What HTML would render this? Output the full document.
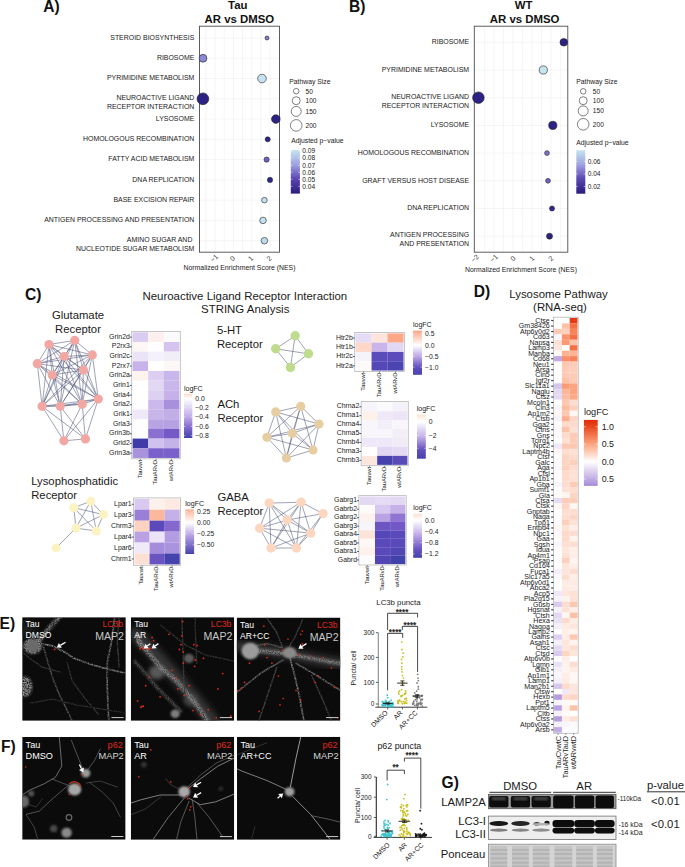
<!DOCTYPE html>
<html><head><meta charset="utf-8"><style>
html,body{margin:0;padding:0;background:#fff;}
body{width:685px;height:867px;overflow:hidden;}
svg{display:block;font-family:"Liberation Sans", sans-serif;}
</style></head><body>
<svg width="685" height="867" viewBox="0 0 685 867">
<rect width="685" height="867" fill="#fff"/>
<text x="43.20" y="12.20" font-size="15.6" text-anchor="start" font-weight="bold" fill="#111" >A)</text>
<text x="237.80" y="9.40" font-size="11.4" text-anchor="middle" font-weight="bold" fill="#111" >Tau</text>
<text x="239.40" y="22.90" font-size="11.4" text-anchor="middle" font-weight="bold" fill="#111" >AR vs DMSO</text>
<rect x="199.50" y="26.20" width="80.00" height="226.00" fill="#ffffff" stroke="none" stroke-width="0" />
<line x1="205.95" y1="26.20" x2="205.95" y2="252.20" stroke="#ececec" stroke-width="0.55" />
<line x1="215.10" y1="26.20" x2="215.10" y2="252.20" stroke="#ececec" stroke-width="0.55" />
<line x1="224.25" y1="26.20" x2="224.25" y2="252.20" stroke="#ececec" stroke-width="0.55" />
<line x1="233.40" y1="26.20" x2="233.40" y2="252.20" stroke="#ececec" stroke-width="0.55" />
<line x1="242.55" y1="26.20" x2="242.55" y2="252.20" stroke="#ececec" stroke-width="0.55" />
<line x1="251.70" y1="26.20" x2="251.70" y2="252.20" stroke="#ececec" stroke-width="0.55" />
<line x1="260.85" y1="26.20" x2="260.85" y2="252.20" stroke="#ececec" stroke-width="0.55" />
<line x1="270.00" y1="26.20" x2="270.00" y2="252.20" stroke="#ececec" stroke-width="0.55" />
<line x1="199.50" y1="38.00" x2="279.50" y2="38.00" stroke="#ececec" stroke-width="0.55" />
<line x1="199.50" y1="58.27" x2="279.50" y2="58.27" stroke="#ececec" stroke-width="0.55" />
<line x1="199.50" y1="78.54" x2="279.50" y2="78.54" stroke="#ececec" stroke-width="0.55" />
<line x1="199.50" y1="98.81" x2="279.50" y2="98.81" stroke="#ececec" stroke-width="0.55" />
<line x1="199.50" y1="119.08" x2="279.50" y2="119.08" stroke="#ececec" stroke-width="0.55" />
<line x1="199.50" y1="139.35" x2="279.50" y2="139.35" stroke="#ececec" stroke-width="0.55" />
<line x1="199.50" y1="159.62" x2="279.50" y2="159.62" stroke="#ececec" stroke-width="0.55" />
<line x1="199.50" y1="179.89" x2="279.50" y2="179.89" stroke="#ececec" stroke-width="0.55" />
<line x1="199.50" y1="200.16" x2="279.50" y2="200.16" stroke="#ececec" stroke-width="0.55" />
<line x1="199.50" y1="220.43" x2="279.50" y2="220.43" stroke="#ececec" stroke-width="0.55" />
<line x1="199.50" y1="240.70" x2="279.50" y2="240.70" stroke="#ececec" stroke-width="0.55" />
<rect x="199.50" y="26.20" width="80.00" height="226.00" fill="none" stroke="#4d4d4d" stroke-width="0.9" />
<text x="194.30" y="39.80" font-size="6.95" text-anchor="end" fill="#1a1a1a" >STEROID BIOSYNTHESIS</text>
<text x="194.30" y="60.07" font-size="6.95" text-anchor="end" fill="#1a1a1a" >RIBOSOME</text>
<text x="194.30" y="80.34" font-size="6.95" text-anchor="end" fill="#1a1a1a" >PYRIMIDINE METABOLISM</text>
<text x="194.30" y="100.01" font-size="6.95" text-anchor="end" fill="#1a1a1a" >NEUROACTIVE LIGAND</text>
<text x="194.30" y="109.01" font-size="6.95" text-anchor="end" fill="#1a1a1a" >RECEPTOR INTERACTION</text>
<text x="194.30" y="120.88" font-size="6.95" text-anchor="end" fill="#1a1a1a" >LYSOSOME</text>
<text x="194.30" y="141.15" font-size="6.95" text-anchor="end" fill="#1a1a1a" >HOMOLOGOUS RECOMBINATION</text>
<text x="194.30" y="161.42" font-size="6.95" text-anchor="end" fill="#1a1a1a" >FATTY ACID METABOLISM</text>
<text x="194.30" y="181.69" font-size="6.95" text-anchor="end" fill="#1a1a1a" >DNA REPLICATION</text>
<text x="194.30" y="201.96" font-size="6.95" text-anchor="end" fill="#1a1a1a" >BASE EXCISION REPAIR</text>
<text x="194.30" y="222.23" font-size="6.95" text-anchor="end" fill="#1a1a1a" >ANTIGEN PROCESSING AND PRESENTATION</text>
<text x="192.40" y="241.90" font-size="6.95" text-anchor="end" fill="#1a1a1a" >AMINO SUGAR AND</text>
<text x="194.30" y="250.90" font-size="6.95" text-anchor="end" fill="#1a1a1a" >NUCLEOTIDE SUGAR METABOLISM</text>
<text transform="translate(215.86,260.00) rotate(-45)" font-size="7.0" text-anchor="middle" fill="#333">−1</text>
<text transform="translate(234.16,260.00) rotate(-45)" font-size="7.0" text-anchor="middle" fill="#333">0</text>
<text transform="translate(252.46,260.00) rotate(-45)" font-size="7.0" text-anchor="middle" fill="#333">1</text>
<text transform="translate(270.76,260.00) rotate(-45)" font-size="7.0" text-anchor="middle" fill="#333">2</text>
<text x="239.50" y="270.00" font-size="6.88" text-anchor="middle" fill="#1a1a1a" >Normalized Enrichment Score (NES)</text>
<circle cx="267.00" cy="38.00" r="2.00" fill="#7f79d2" stroke="#222" stroke-width="0.6" />
<circle cx="203.00" cy="58.27" r="3.90" fill="#8c88d8" stroke="#222" stroke-width="0.6" />
<circle cx="262.00" cy="78.54" r="4.30" fill="#c6e4f0" stroke="#222" stroke-width="0.6" />
<circle cx="202.90" cy="98.81" r="5.90" fill="#2b2284" stroke="#222" stroke-width="0.6" />
<circle cx="275.80" cy="119.08" r="4.30" fill="#2b2284" stroke="#222" stroke-width="0.6" />
<circle cx="267.70" cy="139.35" r="2.50" fill="#2b2284" stroke="#222" stroke-width="0.6" />
<circle cx="266.60" cy="159.62" r="2.60" fill="#6d5fc4" stroke="#222" stroke-width="0.6" />
<circle cx="270.00" cy="179.89" r="2.60" fill="#2f2690" stroke="#222" stroke-width="0.6" />
<circle cx="264.40" cy="200.16" r="2.80" fill="#c3e0f0" stroke="#222" stroke-width="0.6" />
<circle cx="263.00" cy="220.43" r="3.30" fill="#c3e0f0" stroke="#222" stroke-width="0.6" />
<circle cx="264.40" cy="240.70" r="3.30" fill="#bcdcee" stroke="#222" stroke-width="0.6" />
<text x="289.30" y="83.60" font-size="6.8" text-anchor="start" fill="#1a1a1a" >Pathway Size</text>
<circle cx="296.20" cy="91.20" r="2.80" fill="none" stroke="#1a1a1a" stroke-width="0.55" />
<text x="305.50" y="93.50" font-size="6.6" text-anchor="start" fill="#1a1a1a" >50</text>
<circle cx="296.20" cy="100.70" r="4.00" fill="none" stroke="#1a1a1a" stroke-width="0.55" />
<text x="305.50" y="103.00" font-size="6.6" text-anchor="start" fill="#1a1a1a" >100</text>
<circle cx="296.20" cy="111.40" r="5.00" fill="none" stroke="#1a1a1a" stroke-width="0.55" />
<text x="305.50" y="113.70" font-size="6.6" text-anchor="start" fill="#1a1a1a" >150</text>
<circle cx="296.20" cy="125.40" r="5.80" fill="none" stroke="#1a1a1a" stroke-width="0.55" />
<text x="305.50" y="127.70" font-size="6.6" text-anchor="start" fill="#1a1a1a" >200</text>
<text x="291.20" y="142.70" font-size="6.8" text-anchor="start" fill="#1a1a1a" >Adjusted p−value</text>
<defs><linearGradient id="g290" x1="0" y1="0" x2="0" y2="1"><stop offset="0" stop-color="#c6e4f0"/><stop offset="0.35" stop-color="#9c9ee0"/><stop offset="0.65" stop-color="#5c48b4"/><stop offset="1" stop-color="#2a1c7c"/></linearGradient></defs>
<rect x="290.80" y="150.00" width="9.10" height="43.60" fill="url(#g290)" stroke="none" stroke-width="0" />
<line x1="290.80" y1="151.00" x2="292.40" y2="151.00" stroke="#ffffff" stroke-width="0.5" />
<line x1="298.30" y1="151.00" x2="299.90" y2="151.00" stroke="#ffffff" stroke-width="0.5" />
<text x="302.30" y="153.30" font-size="6.6" text-anchor="start" fill="#1a1a1a" >0.09</text>
<line x1="290.80" y1="158.00" x2="292.40" y2="158.00" stroke="#ffffff" stroke-width="0.5" />
<line x1="298.30" y1="158.00" x2="299.90" y2="158.00" stroke="#ffffff" stroke-width="0.5" />
<text x="302.30" y="160.30" font-size="6.6" text-anchor="start" fill="#1a1a1a" >0.08</text>
<line x1="290.80" y1="165.20" x2="292.40" y2="165.20" stroke="#ffffff" stroke-width="0.5" />
<line x1="298.30" y1="165.20" x2="299.90" y2="165.20" stroke="#ffffff" stroke-width="0.5" />
<text x="302.30" y="167.50" font-size="6.6" text-anchor="start" fill="#1a1a1a" >0.07</text>
<line x1="290.80" y1="172.20" x2="292.40" y2="172.20" stroke="#ffffff" stroke-width="0.5" />
<line x1="298.30" y1="172.20" x2="299.90" y2="172.20" stroke="#ffffff" stroke-width="0.5" />
<text x="302.30" y="174.50" font-size="6.6" text-anchor="start" fill="#1a1a1a" >0.06</text>
<line x1="290.80" y1="179.30" x2="292.40" y2="179.30" stroke="#ffffff" stroke-width="0.5" />
<line x1="298.30" y1="179.30" x2="299.90" y2="179.30" stroke="#ffffff" stroke-width="0.5" />
<text x="302.30" y="181.60" font-size="6.6" text-anchor="start" fill="#1a1a1a" >0.05</text>
<line x1="290.80" y1="186.40" x2="292.40" y2="186.40" stroke="#ffffff" stroke-width="0.5" />
<line x1="298.30" y1="186.40" x2="299.90" y2="186.40" stroke="#ffffff" stroke-width="0.5" />
<text x="302.30" y="188.70" font-size="6.6" text-anchor="start" fill="#1a1a1a" >0.04</text>
<text x="349.00" y="12.20" font-size="15.6" text-anchor="start" font-weight="bold" fill="#111" >B)</text>
<text x="523.60" y="9.40" font-size="11.4" text-anchor="middle" font-weight="bold" fill="#111" >WT</text>
<text x="524.60" y="22.90" font-size="11.4" text-anchor="middle" font-weight="bold" fill="#111" >AR vs DMSO</text>
<rect x="474.30" y="26.20" width="93.50" height="226.00" fill="#ffffff" stroke="none" stroke-width="0" />
<line x1="484.40" y1="26.20" x2="484.40" y2="252.20" stroke="#ececec" stroke-width="0.55" />
<line x1="493.90" y1="26.20" x2="493.90" y2="252.20" stroke="#ececec" stroke-width="0.55" />
<line x1="503.40" y1="26.20" x2="503.40" y2="252.20" stroke="#ececec" stroke-width="0.55" />
<line x1="512.90" y1="26.20" x2="512.90" y2="252.20" stroke="#ececec" stroke-width="0.55" />
<line x1="522.40" y1="26.20" x2="522.40" y2="252.20" stroke="#ececec" stroke-width="0.55" />
<line x1="531.90" y1="26.20" x2="531.90" y2="252.20" stroke="#ececec" stroke-width="0.55" />
<line x1="541.40" y1="26.20" x2="541.40" y2="252.20" stroke="#ececec" stroke-width="0.55" />
<line x1="550.90" y1="26.20" x2="550.90" y2="252.20" stroke="#ececec" stroke-width="0.55" />
<line x1="560.40" y1="26.20" x2="560.40" y2="252.20" stroke="#ececec" stroke-width="0.55" />
<line x1="474.30" y1="42.30" x2="567.80" y2="42.30" stroke="#ececec" stroke-width="0.55" />
<line x1="474.30" y1="70.00" x2="567.80" y2="70.00" stroke="#ececec" stroke-width="0.55" />
<line x1="474.30" y1="97.70" x2="567.80" y2="97.70" stroke="#ececec" stroke-width="0.55" />
<line x1="474.30" y1="125.40" x2="567.80" y2="125.40" stroke="#ececec" stroke-width="0.55" />
<line x1="474.30" y1="153.10" x2="567.80" y2="153.10" stroke="#ececec" stroke-width="0.55" />
<line x1="474.30" y1="180.80" x2="567.80" y2="180.80" stroke="#ececec" stroke-width="0.55" />
<line x1="474.30" y1="208.50" x2="567.80" y2="208.50" stroke="#ececec" stroke-width="0.55" />
<line x1="474.30" y1="236.20" x2="567.80" y2="236.20" stroke="#ececec" stroke-width="0.55" />
<rect x="474.30" y="26.20" width="93.50" height="226.00" fill="none" stroke="#4d4d4d" stroke-width="0.9" />
<text x="469.10" y="44.10" font-size="6.95" text-anchor="end" fill="#1a1a1a" >RIBOSOME</text>
<text x="469.10" y="71.80" font-size="6.95" text-anchor="end" fill="#1a1a1a" >PYRIMIDINE METABOLISM</text>
<text x="469.10" y="98.90" font-size="6.95" text-anchor="end" fill="#1a1a1a" >NEUROACTIVE LIGAND</text>
<text x="469.10" y="107.90" font-size="6.95" text-anchor="end" fill="#1a1a1a" >RECEPTOR INTERACTION</text>
<text x="469.10" y="127.20" font-size="6.95" text-anchor="end" fill="#1a1a1a" >LYSOSOME</text>
<text x="469.10" y="154.90" font-size="6.95" text-anchor="end" fill="#1a1a1a" >HOMOLOGOUS RECOMBINATION</text>
<text x="469.10" y="182.60" font-size="6.95" text-anchor="end" fill="#1a1a1a" >GRAFT VERSUS HOST DISEASE</text>
<text x="469.10" y="210.30" font-size="6.95" text-anchor="end" fill="#1a1a1a" >DNA REPLICATION</text>
<text x="469.10" y="237.40" font-size="6.95" text-anchor="end" fill="#1a1a1a" >ANTIGEN PROCESSING</text>
<text x="469.10" y="246.40" font-size="6.95" text-anchor="end" fill="#1a1a1a" >AND PRESENTATION</text>
<text transform="translate(476.56,260.00) rotate(-45)" font-size="7.0" text-anchor="middle" fill="#333">−2</text>
<text transform="translate(495.56,260.00) rotate(-45)" font-size="7.0" text-anchor="middle" fill="#333">−1</text>
<text transform="translate(514.56,260.00) rotate(-45)" font-size="7.0" text-anchor="middle" fill="#333">0</text>
<text transform="translate(533.56,260.00) rotate(-45)" font-size="7.0" text-anchor="middle" fill="#333">1</text>
<text transform="translate(552.56,260.00) rotate(-45)" font-size="7.0" text-anchor="middle" fill="#333">2</text>
<text x="521.00" y="272.00" font-size="6.88" text-anchor="middle" fill="#1a1a1a" >Normalized Enrichment Score (NES)</text>
<circle cx="563.80" cy="42.30" r="3.80" fill="#2b2284" stroke="#222" stroke-width="0.6" />
<circle cx="543.30" cy="70.00" r="4.10" fill="#c6e4f0" stroke="#222" stroke-width="0.6" />
<circle cx="478.40" cy="97.70" r="5.80" fill="#2b2284" stroke="#222" stroke-width="0.6" />
<circle cx="552.80" cy="125.40" r="4.10" fill="#2b2284" stroke="#222" stroke-width="0.6" />
<circle cx="547.00" cy="153.10" r="2.40" fill="#7a72cc" stroke="#222" stroke-width="0.6" />
<circle cx="548.00" cy="180.80" r="2.40" fill="#6e62c4" stroke="#222" stroke-width="0.6" />
<circle cx="552.00" cy="208.50" r="2.50" fill="#2f2690" stroke="#222" stroke-width="0.6" />
<circle cx="549.50" cy="236.20" r="3.00" fill="#2b2284" stroke="#222" stroke-width="0.6" />
<text x="576.30" y="83.60" font-size="6.8" text-anchor="start" fill="#1a1a1a" >Pathway Size</text>
<circle cx="583.20" cy="91.30" r="2.80" fill="none" stroke="#1a1a1a" stroke-width="0.55" />
<text x="592.80" y="93.60" font-size="6.6" text-anchor="start" fill="#1a1a1a" >50</text>
<circle cx="583.20" cy="100.70" r="4.00" fill="none" stroke="#1a1a1a" stroke-width="0.55" />
<text x="592.80" y="103.00" font-size="6.6" text-anchor="start" fill="#1a1a1a" >100</text>
<circle cx="583.20" cy="110.90" r="5.00" fill="none" stroke="#1a1a1a" stroke-width="0.55" />
<text x="592.80" y="113.20" font-size="6.6" text-anchor="start" fill="#1a1a1a" >150</text>
<circle cx="583.20" cy="124.30" r="5.80" fill="none" stroke="#1a1a1a" stroke-width="0.55" />
<text x="592.80" y="126.60" font-size="6.6" text-anchor="start" fill="#1a1a1a" >200</text>
<text x="576.30" y="145.00" font-size="6.8" text-anchor="start" fill="#1a1a1a" >Adjusted p−value</text>
<defs><linearGradient id="g576" x1="0" y1="0" x2="0" y2="1"><stop offset="0" stop-color="#c6e4f0"/><stop offset="0.35" stop-color="#9c9ee0"/><stop offset="0.65" stop-color="#5c48b4"/><stop offset="1" stop-color="#2a1c7c"/></linearGradient></defs>
<rect x="576.30" y="150.20" width="9.00" height="43.50" fill="url(#g576)" stroke="none" stroke-width="0" />
<line x1="576.30" y1="161.50" x2="577.90" y2="161.50" stroke="#ffffff" stroke-width="0.5" />
<line x1="583.70" y1="161.50" x2="585.30" y2="161.50" stroke="#ffffff" stroke-width="0.5" />
<text x="587.70" y="163.80" font-size="6.6" text-anchor="start" fill="#1a1a1a" >0.06</text>
<line x1="576.30" y1="173.90" x2="577.90" y2="173.90" stroke="#ffffff" stroke-width="0.5" />
<line x1="583.70" y1="173.90" x2="585.30" y2="173.90" stroke="#ffffff" stroke-width="0.5" />
<text x="587.70" y="176.20" font-size="6.6" text-anchor="start" fill="#1a1a1a" >0.04</text>
<line x1="576.30" y1="186.50" x2="577.90" y2="186.50" stroke="#ffffff" stroke-width="0.5" />
<line x1="583.70" y1="186.50" x2="585.30" y2="186.50" stroke="#ffffff" stroke-width="0.5" />
<text x="587.70" y="188.80" font-size="6.6" text-anchor="start" fill="#1a1a1a" >0.02</text>
<text x="25.00" y="300.20" font-size="15.6" text-anchor="start" font-weight="bold" fill="#111" >C)</text>
<text x="244.80" y="300.20" font-size="11.45" text-anchor="middle" fill="#1a1a1a" >Neuroactive Ligand Receptor Interaction</text>
<text x="245.20" y="313.40" font-size="11.45" text-anchor="middle" fill="#1a1a1a" >STRING Analysis</text>
<text x="78.00" y="318.60" font-size="11.3" text-anchor="middle" fill="#1a1a1a" >Glutamate</text>
<text x="78.00" y="333.00" font-size="11.3" text-anchor="middle" fill="#1a1a1a" >Receptor</text>
<line x1="49.00" y1="344.50" x2="74.70" y2="340.40" stroke="#444a70" stroke-width="0.6" stroke-opacity="0.85"/>
<line x1="49.00" y1="344.50" x2="92.30" y2="354.90" stroke="#444a70" stroke-width="0.6" stroke-opacity="0.85"/>
<line x1="49.00" y1="344.50" x2="64.20" y2="356.50" stroke="#444a70" stroke-width="0.6" stroke-opacity="0.85"/>
<line x1="49.00" y1="344.50" x2="37.30" y2="363.70" stroke="#444a70" stroke-width="0.6" stroke-opacity="0.85"/>
<line x1="49.00" y1="344.50" x2="83.50" y2="370.10" stroke="#444a70" stroke-width="0.6" stroke-opacity="0.85"/>
<line x1="49.00" y1="344.50" x2="52.20" y2="375.00" stroke="#444a70" stroke-width="0.6" stroke-opacity="0.85"/>
<line x1="49.00" y1="344.50" x2="98.30" y2="399.00" stroke="#444a70" stroke-width="0.6" stroke-opacity="0.85"/>
<line x1="49.00" y1="344.50" x2="42.10" y2="406.30" stroke="#444a70" stroke-width="0.6" stroke-opacity="0.85"/>
<line x1="49.00" y1="344.50" x2="60.20" y2="406.30" stroke="#444a70" stroke-width="0.6" stroke-opacity="0.85"/>
<line x1="49.00" y1="344.50" x2="82.20" y2="404.20" stroke="#444a70" stroke-width="0.6" stroke-opacity="0.85"/>
<line x1="74.70" y1="340.40" x2="92.30" y2="354.90" stroke="#444a70" stroke-width="0.6" stroke-opacity="0.85"/>
<line x1="74.70" y1="340.40" x2="64.20" y2="356.50" stroke="#444a70" stroke-width="0.6" stroke-opacity="0.85"/>
<line x1="74.70" y1="340.40" x2="37.30" y2="363.70" stroke="#444a70" stroke-width="0.6" stroke-opacity="0.85"/>
<line x1="74.70" y1="340.40" x2="83.50" y2="370.10" stroke="#444a70" stroke-width="0.6" stroke-opacity="0.85"/>
<line x1="74.70" y1="340.40" x2="52.20" y2="375.00" stroke="#444a70" stroke-width="0.6" stroke-opacity="0.85"/>
<line x1="74.70" y1="340.40" x2="98.30" y2="399.00" stroke="#444a70" stroke-width="0.6" stroke-opacity="0.85"/>
<line x1="74.70" y1="340.40" x2="42.10" y2="406.30" stroke="#444a70" stroke-width="0.6" stroke-opacity="0.85"/>
<line x1="74.70" y1="340.40" x2="60.20" y2="406.30" stroke="#444a70" stroke-width="0.6" stroke-opacity="0.85"/>
<line x1="74.70" y1="340.40" x2="82.20" y2="404.20" stroke="#444a70" stroke-width="0.6" stroke-opacity="0.85"/>
<line x1="92.30" y1="354.90" x2="64.20" y2="356.50" stroke="#444a70" stroke-width="0.6" stroke-opacity="0.85"/>
<line x1="92.30" y1="354.90" x2="37.30" y2="363.70" stroke="#444a70" stroke-width="0.6" stroke-opacity="0.85"/>
<line x1="92.30" y1="354.90" x2="83.50" y2="370.10" stroke="#444a70" stroke-width="0.6" stroke-opacity="0.85"/>
<line x1="92.30" y1="354.90" x2="52.20" y2="375.00" stroke="#444a70" stroke-width="0.6" stroke-opacity="0.85"/>
<line x1="92.30" y1="354.90" x2="98.30" y2="399.00" stroke="#444a70" stroke-width="0.6" stroke-opacity="0.85"/>
<line x1="92.30" y1="354.90" x2="42.10" y2="406.30" stroke="#444a70" stroke-width="0.6" stroke-opacity="0.85"/>
<line x1="92.30" y1="354.90" x2="60.20" y2="406.30" stroke="#444a70" stroke-width="0.6" stroke-opacity="0.85"/>
<line x1="92.30" y1="354.90" x2="82.20" y2="404.20" stroke="#444a70" stroke-width="0.6" stroke-opacity="0.85"/>
<line x1="64.20" y1="356.50" x2="37.30" y2="363.70" stroke="#444a70" stroke-width="0.6" stroke-opacity="0.85"/>
<line x1="64.20" y1="356.50" x2="83.50" y2="370.10" stroke="#444a70" stroke-width="0.6" stroke-opacity="0.85"/>
<line x1="64.20" y1="356.50" x2="52.20" y2="375.00" stroke="#444a70" stroke-width="0.6" stroke-opacity="0.85"/>
<line x1="64.20" y1="356.50" x2="98.30" y2="399.00" stroke="#444a70" stroke-width="0.6" stroke-opacity="0.85"/>
<line x1="64.20" y1="356.50" x2="42.10" y2="406.30" stroke="#444a70" stroke-width="0.6" stroke-opacity="0.85"/>
<line x1="64.20" y1="356.50" x2="60.20" y2="406.30" stroke="#444a70" stroke-width="0.6" stroke-opacity="0.85"/>
<line x1="64.20" y1="356.50" x2="82.20" y2="404.20" stroke="#444a70" stroke-width="0.6" stroke-opacity="0.85"/>
<line x1="37.30" y1="363.70" x2="83.50" y2="370.10" stroke="#444a70" stroke-width="0.6" stroke-opacity="0.85"/>
<line x1="37.30" y1="363.70" x2="52.20" y2="375.00" stroke="#444a70" stroke-width="0.6" stroke-opacity="0.85"/>
<line x1="37.30" y1="363.70" x2="98.30" y2="399.00" stroke="#444a70" stroke-width="0.6" stroke-opacity="0.85"/>
<line x1="37.30" y1="363.70" x2="42.10" y2="406.30" stroke="#444a70" stroke-width="0.6" stroke-opacity="0.85"/>
<line x1="37.30" y1="363.70" x2="60.20" y2="406.30" stroke="#444a70" stroke-width="0.6" stroke-opacity="0.85"/>
<line x1="37.30" y1="363.70" x2="82.20" y2="404.20" stroke="#444a70" stroke-width="0.6" stroke-opacity="0.85"/>
<line x1="83.50" y1="370.10" x2="52.20" y2="375.00" stroke="#444a70" stroke-width="0.6" stroke-opacity="0.85"/>
<line x1="83.50" y1="370.10" x2="98.30" y2="399.00" stroke="#444a70" stroke-width="0.6" stroke-opacity="0.85"/>
<line x1="83.50" y1="370.10" x2="42.10" y2="406.30" stroke="#444a70" stroke-width="0.6" stroke-opacity="0.85"/>
<line x1="83.50" y1="370.10" x2="60.20" y2="406.30" stroke="#444a70" stroke-width="0.6" stroke-opacity="0.85"/>
<line x1="83.50" y1="370.10" x2="82.20" y2="404.20" stroke="#444a70" stroke-width="0.6" stroke-opacity="0.85"/>
<line x1="52.20" y1="375.00" x2="98.30" y2="399.00" stroke="#444a70" stroke-width="0.6" stroke-opacity="0.85"/>
<line x1="52.20" y1="375.00" x2="42.10" y2="406.30" stroke="#444a70" stroke-width="0.6" stroke-opacity="0.85"/>
<line x1="52.20" y1="375.00" x2="60.20" y2="406.30" stroke="#444a70" stroke-width="0.6" stroke-opacity="0.85"/>
<line x1="52.20" y1="375.00" x2="82.20" y2="404.20" stroke="#444a70" stroke-width="0.6" stroke-opacity="0.85"/>
<line x1="98.30" y1="399.00" x2="42.10" y2="406.30" stroke="#444a70" stroke-width="0.6" stroke-opacity="0.85"/>
<line x1="98.30" y1="399.00" x2="60.20" y2="406.30" stroke="#444a70" stroke-width="0.6" stroke-opacity="0.85"/>
<line x1="98.30" y1="399.00" x2="82.20" y2="404.20" stroke="#444a70" stroke-width="0.6" stroke-opacity="0.85"/>
<line x1="42.10" y1="406.30" x2="60.20" y2="406.30" stroke="#444a70" stroke-width="0.6" stroke-opacity="0.85"/>
<line x1="42.10" y1="406.30" x2="82.20" y2="404.20" stroke="#444a70" stroke-width="0.6" stroke-opacity="0.85"/>
<line x1="60.20" y1="406.30" x2="82.20" y2="404.20" stroke="#444a70" stroke-width="0.6" stroke-opacity="0.85"/>
<line x1="98.30" y1="399.00" x2="63.90" y2="440.80" stroke="#444a70" stroke-width="0.6" stroke-opacity="0.85"/>
<line x1="98.30" y1="399.00" x2="85.40" y2="438.90" stroke="#444a70" stroke-width="0.6" stroke-opacity="0.85"/>
<line x1="42.10" y1="406.30" x2="63.90" y2="440.80" stroke="#444a70" stroke-width="0.6" stroke-opacity="0.85"/>
<line x1="42.10" y1="406.30" x2="85.40" y2="438.90" stroke="#444a70" stroke-width="0.6" stroke-opacity="0.85"/>
<line x1="60.20" y1="406.30" x2="63.90" y2="440.80" stroke="#444a70" stroke-width="0.6" stroke-opacity="0.85"/>
<line x1="60.20" y1="406.30" x2="85.40" y2="438.90" stroke="#444a70" stroke-width="0.6" stroke-opacity="0.85"/>
<line x1="82.20" y1="404.20" x2="63.90" y2="440.80" stroke="#444a70" stroke-width="0.6" stroke-opacity="0.85"/>
<line x1="82.20" y1="404.20" x2="85.40" y2="438.90" stroke="#444a70" stroke-width="0.6" stroke-opacity="0.85"/>
<line x1="63.90" y1="440.80" x2="85.40" y2="438.90" stroke="#444a70" stroke-width="0.6" stroke-opacity="0.85"/>
<circle cx="49.00" cy="344.50" r="4.60" fill="#f2a7a3" stroke="none" stroke-width="0" />
<circle cx="74.70" cy="340.40" r="4.60" fill="#f2a7a3" stroke="none" stroke-width="0" />
<circle cx="92.30" cy="354.90" r="4.60" fill="#f2a7a3" stroke="none" stroke-width="0" />
<circle cx="64.20" cy="356.50" r="4.60" fill="#f2a7a3" stroke="none" stroke-width="0" />
<circle cx="37.30" cy="363.70" r="4.60" fill="#f2a7a3" stroke="none" stroke-width="0" />
<circle cx="83.50" cy="370.10" r="4.60" fill="#f2a7a3" stroke="none" stroke-width="0" />
<circle cx="52.20" cy="375.00" r="4.60" fill="#f2a7a3" stroke="none" stroke-width="0" />
<circle cx="98.30" cy="399.00" r="4.60" fill="#f2a7a3" stroke="none" stroke-width="0" />
<circle cx="42.10" cy="406.30" r="4.60" fill="#f2a7a3" stroke="none" stroke-width="0" />
<circle cx="60.20" cy="406.30" r="4.60" fill="#f2a7a3" stroke="none" stroke-width="0" />
<circle cx="82.20" cy="404.20" r="4.60" fill="#f2a7a3" stroke="none" stroke-width="0" />
<circle cx="63.90" cy="440.80" r="4.60" fill="#f2a7a3" stroke="none" stroke-width="0" />
<circle cx="85.40" cy="438.90" r="4.60" fill="#f2a7a3" stroke="none" stroke-width="0" />
<rect x="131.70" y="331.40" width="48.60" height="127.40" fill="#ffffff" stroke="none" stroke-width="0" />
<rect x="132.60" y="332.30" width="15.65" height="9.71" fill="#d9ccf0" stroke="none" stroke-width="0" />
<rect x="148.20" y="332.30" width="15.65" height="9.71" fill="#fdf0ec" stroke="none" stroke-width="0" />
<rect x="163.80" y="332.30" width="15.65" height="9.71" fill="#fbfafd" stroke="none" stroke-width="0" />
<rect x="132.60" y="341.96" width="15.65" height="9.71" fill="#fdf8f6" stroke="none" stroke-width="0" />
<rect x="148.20" y="341.96" width="15.65" height="9.71" fill="#fefefe" stroke="none" stroke-width="0" />
<rect x="163.80" y="341.96" width="15.65" height="9.71" fill="#d5c5ee" stroke="none" stroke-width="0" />
<rect x="132.60" y="351.62" width="15.65" height="9.71" fill="#ebe3f6" stroke="none" stroke-width="0" />
<rect x="148.20" y="351.62" width="15.65" height="9.71" fill="#f5f1fa" stroke="none" stroke-width="0" />
<rect x="163.80" y="351.62" width="15.65" height="9.71" fill="#f2eef9" stroke="none" stroke-width="0" />
<rect x="132.60" y="361.28" width="15.65" height="9.71" fill="#c7b3ea" stroke="none" stroke-width="0" />
<rect x="148.20" y="361.28" width="15.65" height="9.71" fill="#ffffff" stroke="none" stroke-width="0" />
<rect x="163.80" y="361.28" width="15.65" height="9.71" fill="#fdf8f6" stroke="none" stroke-width="0" />
<rect x="132.60" y="370.95" width="15.65" height="9.71" fill="#fdf3ee" stroke="none" stroke-width="0" />
<rect x="148.20" y="370.95" width="15.65" height="9.71" fill="#dccef1" stroke="none" stroke-width="0" />
<rect x="163.80" y="370.95" width="15.65" height="9.71" fill="#c9b6ea" stroke="none" stroke-width="0" />
<rect x="132.60" y="380.61" width="15.65" height="9.71" fill="#ffffff" stroke="none" stroke-width="0" />
<rect x="148.20" y="380.61" width="15.65" height="9.71" fill="#e2d8f3" stroke="none" stroke-width="0" />
<rect x="163.80" y="380.61" width="15.65" height="9.71" fill="#c9b6ea" stroke="none" stroke-width="0" />
<rect x="132.60" y="390.27" width="15.65" height="9.71" fill="#ffffff" stroke="none" stroke-width="0" />
<rect x="148.20" y="390.27" width="15.65" height="9.71" fill="#ddd1f1" stroke="none" stroke-width="0" />
<rect x="163.80" y="390.27" width="15.65" height="9.71" fill="#c6b2e9" stroke="none" stroke-width="0" />
<rect x="132.60" y="399.93" width="15.65" height="9.71" fill="#fefefe" stroke="none" stroke-width="0" />
<rect x="148.20" y="399.93" width="15.65" height="9.71" fill="#cbb9eb" stroke="none" stroke-width="0" />
<rect x="163.80" y="399.93" width="15.65" height="9.71" fill="#a890dd" stroke="none" stroke-width="0" />
<rect x="132.60" y="409.59" width="15.65" height="9.71" fill="#efe8f8" stroke="none" stroke-width="0" />
<rect x="148.20" y="409.59" width="15.65" height="9.71" fill="#c8b5ea" stroke="none" stroke-width="0" />
<rect x="163.80" y="409.59" width="15.65" height="9.71" fill="#c2aee7" stroke="none" stroke-width="0" />
<rect x="132.60" y="419.25" width="15.65" height="9.71" fill="#fefefe" stroke="none" stroke-width="0" />
<rect x="148.20" y="419.25" width="15.65" height="9.71" fill="#b8a3e3" stroke="none" stroke-width="0" />
<rect x="163.80" y="419.25" width="15.65" height="9.71" fill="#b6a1e3" stroke="none" stroke-width="0" />
<rect x="132.60" y="428.92" width="15.65" height="9.71" fill="#fefefe" stroke="none" stroke-width="0" />
<rect x="148.20" y="428.92" width="15.65" height="9.71" fill="#8b70d1" stroke="none" stroke-width="0" />
<rect x="163.80" y="428.92" width="15.65" height="9.71" fill="#7459c7" stroke="none" stroke-width="0" />
<rect x="132.60" y="438.58" width="15.65" height="9.71" fill="#3f3ca9" stroke="none" stroke-width="0" />
<rect x="148.20" y="438.58" width="15.65" height="9.71" fill="#d0c1ee" stroke="none" stroke-width="0" />
<rect x="163.80" y="438.58" width="15.65" height="9.71" fill="#c4b2e8" stroke="none" stroke-width="0" />
<rect x="132.60" y="448.24" width="15.65" height="9.71" fill="#a993dd" stroke="none" stroke-width="0" />
<rect x="148.20" y="448.24" width="15.65" height="9.71" fill="#7a60ca" stroke="none" stroke-width="0" />
<rect x="163.80" y="448.24" width="15.65" height="9.71" fill="#7a60ca" stroke="none" stroke-width="0" />
<rect x="131.70" y="331.40" width="48.60" height="127.40" fill="none" stroke="#b8b8b8" stroke-width="0.8" />
<line x1="129.90" y1="337.13" x2="131.70" y2="337.13" stroke="#222" stroke-width="0.8" />
<text x="129.80" y="338.78" font-size="6.9" text-anchor="end" fill="#1a1a1a" >Grin2d</text>
<line x1="129.90" y1="346.79" x2="131.70" y2="346.79" stroke="#222" stroke-width="0.8" />
<text x="129.80" y="348.44" font-size="6.9" text-anchor="end" fill="#1a1a1a" >P2rx3</text>
<line x1="129.90" y1="356.45" x2="131.70" y2="356.45" stroke="#222" stroke-width="0.8" />
<text x="129.80" y="358.10" font-size="6.9" text-anchor="end" fill="#1a1a1a" >Grin2c</text>
<line x1="129.90" y1="366.12" x2="131.70" y2="366.12" stroke="#222" stroke-width="0.8" />
<text x="129.80" y="367.77" font-size="6.9" text-anchor="end" fill="#1a1a1a" >P2rx7</text>
<line x1="129.90" y1="375.78" x2="131.70" y2="375.78" stroke="#222" stroke-width="0.8" />
<text x="129.80" y="377.43" font-size="6.9" text-anchor="end" fill="#1a1a1a" >Grin2a</text>
<line x1="129.90" y1="385.44" x2="131.70" y2="385.44" stroke="#222" stroke-width="0.8" />
<text x="129.80" y="387.09" font-size="6.9" text-anchor="end" fill="#1a1a1a" >Grin1</text>
<line x1="129.90" y1="395.10" x2="131.70" y2="395.10" stroke="#222" stroke-width="0.8" />
<text x="129.80" y="396.75" font-size="6.9" text-anchor="end" fill="#1a1a1a" >Gria4</text>
<line x1="129.90" y1="404.76" x2="131.70" y2="404.76" stroke="#222" stroke-width="0.8" />
<text x="129.80" y="406.41" font-size="6.9" text-anchor="end" fill="#1a1a1a" >Gria2</text>
<line x1="129.90" y1="414.42" x2="131.70" y2="414.42" stroke="#222" stroke-width="0.8" />
<text x="129.80" y="416.07" font-size="6.9" text-anchor="end" fill="#1a1a1a" >Grik1</text>
<line x1="129.90" y1="424.08" x2="131.70" y2="424.08" stroke="#222" stroke-width="0.8" />
<text x="129.80" y="425.73" font-size="6.9" text-anchor="end" fill="#1a1a1a" >Gria3</text>
<line x1="129.90" y1="433.75" x2="131.70" y2="433.75" stroke="#222" stroke-width="0.8" />
<text x="129.80" y="435.40" font-size="6.9" text-anchor="end" fill="#1a1a1a" >Grin3b</text>
<line x1="129.90" y1="443.41" x2="131.70" y2="443.41" stroke="#222" stroke-width="0.8" />
<text x="129.80" y="445.06" font-size="6.9" text-anchor="end" fill="#1a1a1a" >Grid2</text>
<line x1="129.90" y1="453.07" x2="131.70" y2="453.07" stroke="#222" stroke-width="0.8" />
<text x="129.80" y="454.72" font-size="6.9" text-anchor="end" fill="#1a1a1a" >Grin3a</text>
<line x1="140.40" y1="458.80" x2="140.40" y2="460.30" stroke="#333" stroke-width="0.5" />
<text transform="translate(141.70,460.00) rotate(-90)" font-size="5.8" text-anchor="end" fill="#1a1a1a">Tauvwt</text>
<line x1="156.00" y1="458.80" x2="156.00" y2="460.30" stroke="#333" stroke-width="0.5" />
<text transform="translate(157.30,460.00) rotate(-90)" font-size="5.8" text-anchor="end" fill="#1a1a1a">TauARvD</text>
<line x1="171.60" y1="458.80" x2="171.60" y2="460.30" stroke="#333" stroke-width="0.5" />
<text transform="translate(172.90,460.00) rotate(-90)" font-size="5.8" text-anchor="end" fill="#1a1a1a">wtARvD</text>
<text x="184.00" y="390.60" font-size="7.0" text-anchor="start" fill="#1a1a1a" >logFC</text>
<defs><linearGradient id="cb184_393" x1="0" y1="0" x2="0" y2="1"><stop offset="0.000" stop-color="#fcd8c6"/><stop offset="0.105" stop-color="#ffffff"/><stop offset="0.508" stop-color="#c2aee8"/><stop offset="0.776" stop-color="#8066cc"/><stop offset="1.000" stop-color="#4242ad"/></linearGradient></defs>
<rect x="184.00" y="393.80" width="8.30" height="44.20" fill="url(#cb184_393)" stroke="none" stroke-width="0" />
<line x1="184.00" y1="398.40" x2="185.50" y2="398.40" stroke="#ffffff" stroke-width="0.5" />
<line x1="190.80" y1="398.40" x2="192.30" y2="398.40" stroke="#ffffff" stroke-width="0.5" />
<text x="195.30" y="400.80" font-size="6.8" text-anchor="start" fill="#1a1a1a" >0.0</text>
<line x1="184.00" y1="407.70" x2="185.50" y2="407.70" stroke="#ffffff" stroke-width="0.5" />
<line x1="190.80" y1="407.70" x2="192.30" y2="407.70" stroke="#ffffff" stroke-width="0.5" />
<text x="195.30" y="410.10" font-size="6.8" text-anchor="start" fill="#1a1a1a" >−0.2</text>
<line x1="184.00" y1="416.90" x2="185.50" y2="416.90" stroke="#ffffff" stroke-width="0.5" />
<line x1="190.80" y1="416.90" x2="192.30" y2="416.90" stroke="#ffffff" stroke-width="0.5" />
<text x="195.30" y="419.30" font-size="6.8" text-anchor="start" fill="#1a1a1a" >−0.4</text>
<line x1="184.00" y1="426.50" x2="185.50" y2="426.50" stroke="#ffffff" stroke-width="0.5" />
<line x1="190.80" y1="426.50" x2="192.30" y2="426.50" stroke="#ffffff" stroke-width="0.5" />
<text x="195.30" y="428.90" font-size="6.8" text-anchor="start" fill="#1a1a1a" >−0.6</text>
<line x1="184.00" y1="435.70" x2="185.50" y2="435.70" stroke="#ffffff" stroke-width="0.5" />
<line x1="190.80" y1="435.70" x2="192.30" y2="435.70" stroke="#ffffff" stroke-width="0.5" />
<text x="195.30" y="438.10" font-size="6.8" text-anchor="start" fill="#1a1a1a" >−0.8</text>
<text x="216.90" y="333.60" font-size="11.3" text-anchor="start" fill="#1a1a1a" >5-HT</text>
<text x="216.90" y="347.60" font-size="11.3" text-anchor="start" fill="#1a1a1a" >Receptor</text>
<line x1="295.20" y1="335.80" x2="275.70" y2="348.80" stroke="#444a70" stroke-width="0.6" stroke-opacity="0.85"/>
<line x1="295.20" y1="335.80" x2="308.50" y2="353.80" stroke="#444a70" stroke-width="0.6" stroke-opacity="0.85"/>
<line x1="295.20" y1="335.80" x2="290.40" y2="367.40" stroke="#444a70" stroke-width="0.6" stroke-opacity="0.85"/>
<line x1="275.70" y1="348.80" x2="308.50" y2="353.80" stroke="#444a70" stroke-width="0.6" stroke-opacity="0.85"/>
<line x1="275.70" y1="348.80" x2="290.40" y2="367.40" stroke="#444a70" stroke-width="0.6" stroke-opacity="0.85"/>
<line x1="308.50" y1="353.80" x2="290.40" y2="367.40" stroke="#444a70" stroke-width="0.6" stroke-opacity="0.85"/>
<circle cx="295.20" cy="335.80" r="4.70" fill="#bedb8e" stroke="none" stroke-width="0" />
<circle cx="275.70" cy="348.80" r="4.70" fill="#bedb8e" stroke="none" stroke-width="0" />
<circle cx="308.50" cy="353.80" r="4.70" fill="#bedb8e" stroke="none" stroke-width="0" />
<circle cx="290.40" cy="367.40" r="4.70" fill="#bedb8e" stroke="none" stroke-width="0" />
<rect x="354.70" y="332.50" width="49.70" height="38.90" fill="#ffffff" stroke="none" stroke-width="0" />
<rect x="355.60" y="333.40" width="16.02" height="9.33" fill="#e6dcf5" stroke="none" stroke-width="0" />
<rect x="371.57" y="333.40" width="16.02" height="9.33" fill="#fde4dc" stroke="none" stroke-width="0" />
<rect x="387.53" y="333.40" width="16.02" height="9.33" fill="#fca888" stroke="none" stroke-width="0" />
<rect x="355.60" y="342.67" width="16.02" height="9.33" fill="#fdd8c8" stroke="none" stroke-width="0" />
<rect x="371.57" y="342.67" width="16.02" height="9.33" fill="#c9b5ea" stroke="none" stroke-width="0" />
<rect x="387.53" y="342.67" width="16.02" height="9.33" fill="#e3d8f3" stroke="none" stroke-width="0" />
<rect x="355.60" y="351.95" width="16.02" height="9.33" fill="#f7f3fb" stroke="none" stroke-width="0" />
<rect x="371.57" y="351.95" width="16.02" height="9.33" fill="#5b4bbb" stroke="none" stroke-width="0" />
<rect x="387.53" y="351.95" width="16.02" height="9.33" fill="#5b4bbb" stroke="none" stroke-width="0" />
<rect x="355.60" y="361.23" width="16.02" height="9.33" fill="#fdfbfa" stroke="none" stroke-width="0" />
<rect x="371.57" y="361.23" width="16.02" height="9.33" fill="#5447b8" stroke="none" stroke-width="0" />
<rect x="387.53" y="361.23" width="16.02" height="9.33" fill="#4a45b0" stroke="none" stroke-width="0" />
<rect x="354.70" y="332.50" width="49.70" height="38.90" fill="none" stroke="#b8b8b8" stroke-width="0.8" />
<line x1="352.90" y1="338.04" x2="354.70" y2="338.04" stroke="#222" stroke-width="0.8" />
<text x="352.80" y="339.69" font-size="6.9" text-anchor="end" fill="#1a1a1a" >Htr2b</text>
<line x1="352.90" y1="347.31" x2="354.70" y2="347.31" stroke="#222" stroke-width="0.8" />
<text x="352.80" y="348.96" font-size="6.9" text-anchor="end" fill="#1a1a1a" >Htr1b</text>
<line x1="352.90" y1="356.59" x2="354.70" y2="356.59" stroke="#222" stroke-width="0.8" />
<text x="352.80" y="358.24" font-size="6.9" text-anchor="end" fill="#1a1a1a" >Htr2c</text>
<line x1="352.90" y1="365.86" x2="354.70" y2="365.86" stroke="#222" stroke-width="0.8" />
<text x="352.80" y="367.51" font-size="6.9" text-anchor="end" fill="#1a1a1a" >Htr2a</text>
<line x1="363.58" y1="371.40" x2="363.58" y2="372.90" stroke="#333" stroke-width="0.5" />
<text transform="translate(364.88,372.60) rotate(-90)" font-size="5.8" text-anchor="end" fill="#1a1a1a">Tauvwt</text>
<line x1="379.55" y1="371.40" x2="379.55" y2="372.90" stroke="#333" stroke-width="0.5" />
<text transform="translate(380.85,372.60) rotate(-90)" font-size="5.8" text-anchor="end" fill="#1a1a1a">TauARvD</text>
<line x1="395.52" y1="371.40" x2="395.52" y2="372.90" stroke="#333" stroke-width="0.5" />
<text transform="translate(396.82,372.60) rotate(-90)" font-size="5.8" text-anchor="end" fill="#1a1a1a">wtARvD</text>
<text x="413.00" y="327.30" font-size="7.0" text-anchor="start" fill="#1a1a1a" >logFC</text>
<defs><linearGradient id="cb413_330" x1="0" y1="0" x2="0" y2="1"><stop offset="0.000" stop-color="#fca586"/><stop offset="0.330" stop-color="#ffffff"/><stop offset="0.600" stop-color="#b9a3e4"/><stop offset="0.850" stop-color="#5b4bbb"/><stop offset="1.000" stop-color="#4a45b0"/></linearGradient></defs>
<rect x="413.00" y="330.60" width="9.00" height="44.20" fill="url(#cb413_330)" stroke="none" stroke-width="0" />
<line x1="413.00" y1="334.00" x2="414.50" y2="334.00" stroke="#ffffff" stroke-width="0.5" />
<line x1="420.50" y1="334.00" x2="422.00" y2="334.00" stroke="#ffffff" stroke-width="0.5" />
<text x="425.00" y="336.40" font-size="6.8" text-anchor="start" fill="#1a1a1a" >0.5</text>
<line x1="413.00" y1="345.40" x2="414.50" y2="345.40" stroke="#ffffff" stroke-width="0.5" />
<line x1="420.50" y1="345.40" x2="422.00" y2="345.40" stroke="#ffffff" stroke-width="0.5" />
<text x="425.00" y="347.80" font-size="6.8" text-anchor="start" fill="#1a1a1a" >0.0</text>
<line x1="413.00" y1="356.40" x2="414.50" y2="356.40" stroke="#ffffff" stroke-width="0.5" />
<line x1="420.50" y1="356.40" x2="422.00" y2="356.40" stroke="#ffffff" stroke-width="0.5" />
<text x="425.00" y="358.80" font-size="6.8" text-anchor="start" fill="#1a1a1a" >−0.5</text>
<line x1="413.00" y1="367.20" x2="414.50" y2="367.20" stroke="#ffffff" stroke-width="0.5" />
<line x1="420.50" y1="367.20" x2="422.00" y2="367.20" stroke="#ffffff" stroke-width="0.5" />
<text x="425.00" y="369.60" font-size="6.8" text-anchor="start" fill="#1a1a1a" >−1.0</text>
<text x="217.40" y="407.50" font-size="11.3" text-anchor="start" fill="#1a1a1a" >ACh</text>
<text x="217.40" y="421.80" font-size="11.3" text-anchor="start" fill="#1a1a1a" >Receptor</text>
<line x1="275.70" y1="411.90" x2="300.70" y2="406.30" stroke="#444a70" stroke-width="0.6" stroke-opacity="0.85"/>
<line x1="275.70" y1="411.90" x2="319.00" y2="424.10" stroke="#444a70" stroke-width="0.6" stroke-opacity="0.85"/>
<line x1="275.70" y1="411.90" x2="266.90" y2="437.30" stroke="#444a70" stroke-width="0.6" stroke-opacity="0.85"/>
<line x1="275.70" y1="411.90" x2="292.30" y2="433.40" stroke="#444a70" stroke-width="0.6" stroke-opacity="0.85"/>
<line x1="275.70" y1="411.90" x2="313.00" y2="450.00" stroke="#444a70" stroke-width="0.6" stroke-opacity="0.85"/>
<line x1="275.70" y1="411.90" x2="286.40" y2="458.00" stroke="#444a70" stroke-width="0.6" stroke-opacity="0.85"/>
<line x1="300.70" y1="406.30" x2="319.00" y2="424.10" stroke="#444a70" stroke-width="0.6" stroke-opacity="0.85"/>
<line x1="300.70" y1="406.30" x2="266.90" y2="437.30" stroke="#444a70" stroke-width="0.6" stroke-opacity="0.85"/>
<line x1="300.70" y1="406.30" x2="292.30" y2="433.40" stroke="#444a70" stroke-width="0.6" stroke-opacity="0.85"/>
<line x1="300.70" y1="406.30" x2="313.00" y2="450.00" stroke="#444a70" stroke-width="0.6" stroke-opacity="0.85"/>
<line x1="300.70" y1="406.30" x2="286.40" y2="458.00" stroke="#444a70" stroke-width="0.6" stroke-opacity="0.85"/>
<line x1="319.00" y1="424.10" x2="266.90" y2="437.30" stroke="#444a70" stroke-width="0.6" stroke-opacity="0.85"/>
<line x1="319.00" y1="424.10" x2="292.30" y2="433.40" stroke="#444a70" stroke-width="0.6" stroke-opacity="0.85"/>
<line x1="319.00" y1="424.10" x2="313.00" y2="450.00" stroke="#444a70" stroke-width="0.6" stroke-opacity="0.85"/>
<line x1="319.00" y1="424.10" x2="286.40" y2="458.00" stroke="#444a70" stroke-width="0.6" stroke-opacity="0.85"/>
<line x1="266.90" y1="437.30" x2="292.30" y2="433.40" stroke="#444a70" stroke-width="0.6" stroke-opacity="0.85"/>
<line x1="266.90" y1="437.30" x2="313.00" y2="450.00" stroke="#444a70" stroke-width="0.6" stroke-opacity="0.85"/>
<line x1="266.90" y1="437.30" x2="286.40" y2="458.00" stroke="#444a70" stroke-width="0.6" stroke-opacity="0.85"/>
<line x1="292.30" y1="433.40" x2="313.00" y2="450.00" stroke="#444a70" stroke-width="0.6" stroke-opacity="0.85"/>
<line x1="292.30" y1="433.40" x2="286.40" y2="458.00" stroke="#444a70" stroke-width="0.6" stroke-opacity="0.85"/>
<line x1="313.00" y1="450.00" x2="286.40" y2="458.00" stroke="#444a70" stroke-width="0.6" stroke-opacity="0.85"/>
<circle cx="275.70" cy="411.90" r="4.60" fill="#e7cea2" stroke="none" stroke-width="0" />
<circle cx="300.70" cy="406.30" r="4.60" fill="#e7cea2" stroke="none" stroke-width="0" />
<circle cx="319.00" cy="424.10" r="4.60" fill="#e7cea2" stroke="none" stroke-width="0" />
<circle cx="266.90" cy="437.30" r="4.60" fill="#e7cea2" stroke="none" stroke-width="0" />
<circle cx="292.30" cy="433.40" r="4.60" fill="#e7cea2" stroke="none" stroke-width="0" />
<circle cx="313.00" cy="450.00" r="4.60" fill="#e7cea2" stroke="none" stroke-width="0" />
<circle cx="286.40" cy="458.00" r="4.60" fill="#e7cea2" stroke="none" stroke-width="0" />
<rect x="361.20" y="401.40" width="47.10" height="64.30" fill="#ffffff" stroke="none" stroke-width="0" />
<rect x="362.10" y="402.30" width="15.15" height="8.98" fill="#f7f4fb" stroke="none" stroke-width="0" />
<rect x="377.20" y="402.30" width="15.15" height="8.98" fill="#fafafd" stroke="none" stroke-width="0" />
<rect x="392.30" y="402.30" width="15.15" height="8.98" fill="#f5f1fa" stroke="none" stroke-width="0" />
<rect x="362.10" y="411.23" width="15.15" height="8.98" fill="#fdf1ea" stroke="none" stroke-width="0" />
<rect x="377.20" y="411.23" width="15.15" height="8.98" fill="#efe8f8" stroke="none" stroke-width="0" />
<rect x="392.30" y="411.23" width="15.15" height="8.98" fill="#ede5f7" stroke="none" stroke-width="0" />
<rect x="362.10" y="420.16" width="15.15" height="8.98" fill="#f8f6fb" stroke="none" stroke-width="0" />
<rect x="377.20" y="420.16" width="15.15" height="8.98" fill="#f3eff9" stroke="none" stroke-width="0" />
<rect x="392.30" y="420.16" width="15.15" height="8.98" fill="#f8f6fb" stroke="none" stroke-width="0" />
<rect x="362.10" y="429.09" width="15.15" height="8.98" fill="#f8f5fb" stroke="none" stroke-width="0" />
<rect x="377.20" y="429.09" width="15.15" height="8.98" fill="#f8f6fb" stroke="none" stroke-width="0" />
<rect x="392.30" y="429.09" width="15.15" height="8.98" fill="#f3eff9" stroke="none" stroke-width="0" />
<rect x="362.10" y="438.01" width="15.15" height="8.98" fill="#efe8f8" stroke="none" stroke-width="0" />
<rect x="377.20" y="438.01" width="15.15" height="8.98" fill="#efe8f8" stroke="none" stroke-width="0" />
<rect x="392.30" y="438.01" width="15.15" height="8.98" fill="#f1ebf8" stroke="none" stroke-width="0" />
<rect x="362.10" y="446.94" width="15.15" height="8.98" fill="#ffffff" stroke="none" stroke-width="0" />
<rect x="377.20" y="446.94" width="15.15" height="8.98" fill="#e2d7f3" stroke="none" stroke-width="0" />
<rect x="392.30" y="446.94" width="15.15" height="8.98" fill="#e4daf4" stroke="none" stroke-width="0" />
<rect x="362.10" y="455.87" width="15.15" height="8.98" fill="#fde6dc" stroke="none" stroke-width="0" />
<rect x="377.20" y="455.87" width="15.15" height="8.98" fill="#4642ad" stroke="none" stroke-width="0" />
<rect x="392.30" y="455.87" width="15.15" height="8.98" fill="#5a4bb8" stroke="none" stroke-width="0" />
<rect x="361.20" y="401.40" width="47.10" height="64.30" fill="none" stroke="#b8b8b8" stroke-width="0.8" />
<line x1="359.40" y1="406.76" x2="361.20" y2="406.76" stroke="#222" stroke-width="0.8" />
<text x="359.30" y="408.41" font-size="6.9" text-anchor="end" fill="#1a1a1a" >Chrna2</text>
<line x1="359.40" y1="415.69" x2="361.20" y2="415.69" stroke="#222" stroke-width="0.8" />
<text x="359.30" y="417.34" font-size="6.9" text-anchor="end" fill="#1a1a1a" >Chrna1</text>
<line x1="359.40" y1="424.62" x2="361.20" y2="424.62" stroke="#222" stroke-width="0.8" />
<text x="359.30" y="426.27" font-size="6.9" text-anchor="end" fill="#1a1a1a" >Chrna4</text>
<line x1="359.40" y1="433.55" x2="361.20" y2="433.55" stroke="#222" stroke-width="0.8" />
<text x="359.30" y="435.20" font-size="6.9" text-anchor="end" fill="#1a1a1a" >Chrna5</text>
<line x1="359.40" y1="442.48" x2="361.20" y2="442.48" stroke="#222" stroke-width="0.8" />
<text x="359.30" y="444.13" font-size="6.9" text-anchor="end" fill="#1a1a1a" >Chrnb4</text>
<line x1="359.40" y1="451.41" x2="361.20" y2="451.41" stroke="#222" stroke-width="0.8" />
<text x="359.30" y="453.06" font-size="6.9" text-anchor="end" fill="#1a1a1a" >Chrna3</text>
<line x1="359.40" y1="460.34" x2="361.20" y2="460.34" stroke="#222" stroke-width="0.8" />
<text x="359.30" y="461.99" font-size="6.9" text-anchor="end" fill="#1a1a1a" >Chrnb3</text>
<line x1="369.65" y1="465.70" x2="369.65" y2="467.20" stroke="#333" stroke-width="0.5" />
<text transform="translate(370.95,466.90) rotate(-90)" font-size="5.8" text-anchor="end" fill="#1a1a1a">Tauvwt</text>
<line x1="384.75" y1="465.70" x2="384.75" y2="467.20" stroke="#333" stroke-width="0.5" />
<text transform="translate(386.05,466.90) rotate(-90)" font-size="5.8" text-anchor="end" fill="#1a1a1a">TauARvD</text>
<line x1="399.85" y1="465.70" x2="399.85" y2="467.20" stroke="#333" stroke-width="0.5" />
<text transform="translate(401.15,466.90) rotate(-90)" font-size="5.8" text-anchor="end" fill="#1a1a1a">wtARvD</text>
<text x="416.70" y="411.40" font-size="7.0" text-anchor="start" fill="#1a1a1a" >logFC</text>
<defs><linearGradient id="cb417_414" x1="0" y1="0" x2="0" y2="1"><stop offset="0.000" stop-color="#fde2d6"/><stop offset="0.160" stop-color="#ffffff"/><stop offset="0.500" stop-color="#c6b2e9"/><stop offset="0.800" stop-color="#6450bf"/><stop offset="1.000" stop-color="#4642ad"/></linearGradient></defs>
<rect x="417.00" y="414.50" width="8.80" height="44.20" fill="url(#cb417_414)" stroke="none" stroke-width="0" />
<line x1="417.00" y1="421.50" x2="418.50" y2="421.50" stroke="#ffffff" stroke-width="0.5" />
<line x1="424.30" y1="421.50" x2="425.80" y2="421.50" stroke="#ffffff" stroke-width="0.5" />
<text x="428.80" y="423.90" font-size="6.8" text-anchor="start" fill="#1a1a1a" >0</text>
<line x1="417.00" y1="435.50" x2="418.50" y2="435.50" stroke="#ffffff" stroke-width="0.5" />
<line x1="424.30" y1="435.50" x2="425.80" y2="435.50" stroke="#ffffff" stroke-width="0.5" />
<text x="428.80" y="437.90" font-size="6.8" text-anchor="start" fill="#1a1a1a" >−2</text>
<line x1="417.00" y1="448.30" x2="418.50" y2="448.30" stroke="#ffffff" stroke-width="0.5" />
<line x1="424.30" y1="448.30" x2="425.80" y2="448.30" stroke="#ffffff" stroke-width="0.5" />
<text x="428.80" y="450.70" font-size="6.8" text-anchor="start" fill="#1a1a1a" >−4</text>
<text x="31.20" y="484.90" font-size="11.3" text-anchor="start" fill="#1a1a1a" >Lysophosphatidic</text>
<text x="31.20" y="498.90" font-size="11.3" text-anchor="start" fill="#1a1a1a" >Receptor</text>
<line x1="90.70" y1="501.30" x2="73.80" y2="507.70" stroke="#444a70" stroke-width="0.6" stroke-opacity="0.85"/>
<line x1="90.70" y1="501.30" x2="103.50" y2="514.60" stroke="#444a70" stroke-width="0.6" stroke-opacity="0.85"/>
<line x1="90.70" y1="501.30" x2="75.90" y2="528.10" stroke="#444a70" stroke-width="0.6" stroke-opacity="0.85"/>
<line x1="90.70" y1="501.30" x2="96.30" y2="531.00" stroke="#444a70" stroke-width="0.6" stroke-opacity="0.85"/>
<line x1="73.80" y1="507.70" x2="103.50" y2="514.60" stroke="#444a70" stroke-width="0.6" stroke-opacity="0.85"/>
<line x1="73.80" y1="507.70" x2="75.90" y2="528.10" stroke="#444a70" stroke-width="0.6" stroke-opacity="0.85"/>
<line x1="73.80" y1="507.70" x2="96.30" y2="531.00" stroke="#444a70" stroke-width="0.6" stroke-opacity="0.85"/>
<line x1="103.50" y1="514.60" x2="75.90" y2="528.10" stroke="#444a70" stroke-width="0.6" stroke-opacity="0.85"/>
<line x1="103.50" y1="514.60" x2="96.30" y2="531.00" stroke="#444a70" stroke-width="0.6" stroke-opacity="0.85"/>
<line x1="75.90" y1="528.10" x2="96.30" y2="531.00" stroke="#444a70" stroke-width="0.6" stroke-opacity="0.85"/>
<line x1="75.90" y1="528.10" x2="56.10" y2="547.90" stroke="#444a70" stroke-width="0.6" stroke-opacity="0.85"/>
<circle cx="90.70" cy="501.30" r="4.50" fill="#fbf3c1" stroke="none" stroke-width="0" />
<circle cx="73.80" cy="507.70" r="4.50" fill="#fbf3c1" stroke="none" stroke-width="0" />
<circle cx="103.50" cy="514.60" r="4.50" fill="#fbf3c1" stroke="none" stroke-width="0" />
<circle cx="75.90" cy="528.10" r="4.50" fill="#fbf3c1" stroke="none" stroke-width="0" />
<circle cx="96.30" cy="531.00" r="4.50" fill="#fbf3c1" stroke="none" stroke-width="0" />
<circle cx="56.10" cy="547.90" r="4.50" fill="#fbf3c1" stroke="none" stroke-width="0" />
<rect x="133.60" y="497.90" width="47.00" height="67.40" fill="#ffffff" stroke="none" stroke-width="0" />
<rect x="134.50" y="498.80" width="15.12" height="10.98" fill="#d9c9f0" stroke="none" stroke-width="0" />
<rect x="149.57" y="498.80" width="15.12" height="10.98" fill="#fdf1ec" stroke="none" stroke-width="0" />
<rect x="164.63" y="498.80" width="15.12" height="10.98" fill="#fde9e1" stroke="none" stroke-width="0" />
<rect x="134.50" y="509.73" width="15.12" height="10.98" fill="#9a7fd7" stroke="none" stroke-width="0" />
<rect x="149.57" y="509.73" width="15.12" height="10.98" fill="#fcb89c" stroke="none" stroke-width="0" />
<rect x="164.63" y="509.73" width="15.12" height="10.98" fill="#c5b0e8" stroke="none" stroke-width="0" />
<rect x="134.50" y="520.67" width="15.12" height="10.98" fill="#fdd2c0" stroke="none" stroke-width="0" />
<rect x="149.57" y="520.67" width="15.12" height="10.98" fill="#5b48bb" stroke="none" stroke-width="0" />
<rect x="164.63" y="520.67" width="15.12" height="10.98" fill="#8468cd" stroke="none" stroke-width="0" />
<rect x="134.50" y="531.60" width="15.12" height="10.98" fill="#b9a1e4" stroke="none" stroke-width="0" />
<rect x="149.57" y="531.60" width="15.12" height="10.98" fill="#ede5f7" stroke="none" stroke-width="0" />
<rect x="164.63" y="531.60" width="15.12" height="10.98" fill="#b39ce2" stroke="none" stroke-width="0" />
<rect x="134.50" y="542.53" width="15.12" height="10.98" fill="#f0e9f8" stroke="none" stroke-width="0" />
<rect x="149.57" y="542.53" width="15.12" height="10.98" fill="#a58ddb" stroke="none" stroke-width="0" />
<rect x="164.63" y="542.53" width="15.12" height="10.98" fill="#a994dd" stroke="none" stroke-width="0" />
<rect x="134.50" y="553.47" width="15.12" height="10.98" fill="#fde0d4" stroke="none" stroke-width="0" />
<rect x="149.57" y="553.47" width="15.12" height="10.98" fill="#6a54c2" stroke="none" stroke-width="0" />
<rect x="164.63" y="553.47" width="15.12" height="10.98" fill="#4543ad" stroke="none" stroke-width="0" />
<rect x="133.60" y="497.90" width="47.00" height="67.40" fill="none" stroke="#b8b8b8" stroke-width="0.8" />
<line x1="131.80" y1="504.27" x2="133.60" y2="504.27" stroke="#222" stroke-width="0.8" />
<text x="131.70" y="505.92" font-size="6.9" text-anchor="end" fill="#1a1a1a" >Lpar1</text>
<line x1="131.80" y1="515.20" x2="133.60" y2="515.20" stroke="#222" stroke-width="0.8" />
<text x="131.70" y="516.85" font-size="6.9" text-anchor="end" fill="#1a1a1a" >Lpar3</text>
<line x1="131.80" y1="526.13" x2="133.60" y2="526.13" stroke="#222" stroke-width="0.8" />
<text x="131.70" y="527.78" font-size="6.9" text-anchor="end" fill="#1a1a1a" >Chrm3</text>
<line x1="131.80" y1="537.07" x2="133.60" y2="537.07" stroke="#222" stroke-width="0.8" />
<text x="131.70" y="538.72" font-size="6.9" text-anchor="end" fill="#1a1a1a" >Lpar4</text>
<line x1="131.80" y1="548.00" x2="133.60" y2="548.00" stroke="#222" stroke-width="0.8" />
<text x="131.70" y="549.65" font-size="6.9" text-anchor="end" fill="#1a1a1a" >Lpar6</text>
<line x1="131.80" y1="558.93" x2="133.60" y2="558.93" stroke="#222" stroke-width="0.8" />
<text x="131.70" y="560.58" font-size="6.9" text-anchor="end" fill="#1a1a1a" >Chrm1</text>
<line x1="142.03" y1="565.30" x2="142.03" y2="566.80" stroke="#333" stroke-width="0.5" />
<text transform="translate(143.33,566.50) rotate(-90)" font-size="5.8" text-anchor="end" fill="#1a1a1a">Tauvwt</text>
<line x1="157.10" y1="565.30" x2="157.10" y2="566.80" stroke="#333" stroke-width="0.5" />
<text transform="translate(158.40,566.50) rotate(-90)" font-size="5.8" text-anchor="end" fill="#1a1a1a">TauARvD</text>
<line x1="172.17" y1="565.30" x2="172.17" y2="566.80" stroke="#333" stroke-width="0.5" />
<text transform="translate(173.47,566.50) rotate(-90)" font-size="5.8" text-anchor="end" fill="#1a1a1a">wtARvD</text>
<text x="185.30" y="506.20" font-size="7.0" text-anchor="start" fill="#1a1a1a" >logFC</text>
<defs><linearGradient id="cb185_509" x1="0" y1="0" x2="0" y2="1"><stop offset="0.000" stop-color="#fcb195"/><stop offset="0.300" stop-color="#ffffff"/><stop offset="0.600" stop-color="#b49de2"/><stop offset="1.000" stop-color="#4543ad"/></linearGradient></defs>
<rect x="185.30" y="509.30" width="8.80" height="44.70" fill="url(#cb185_509)" stroke="none" stroke-width="0" />
<line x1="185.30" y1="511.40" x2="186.80" y2="511.40" stroke="#ffffff" stroke-width="0.5" />
<line x1="192.60" y1="511.40" x2="194.10" y2="511.40" stroke="#ffffff" stroke-width="0.5" />
<text x="197.10" y="513.80" font-size="6.8" text-anchor="start" fill="#1a1a1a" >0.25</text>
<line x1="185.30" y1="522.80" x2="186.80" y2="522.80" stroke="#ffffff" stroke-width="0.5" />
<line x1="192.60" y1="522.80" x2="194.10" y2="522.80" stroke="#ffffff" stroke-width="0.5" />
<text x="197.10" y="525.20" font-size="6.8" text-anchor="start" fill="#1a1a1a" >0.00</text>
<line x1="185.30" y1="533.80" x2="186.80" y2="533.80" stroke="#ffffff" stroke-width="0.5" />
<line x1="192.60" y1="533.80" x2="194.10" y2="533.80" stroke="#ffffff" stroke-width="0.5" />
<text x="197.10" y="536.20" font-size="6.8" text-anchor="start" fill="#1a1a1a" >−0.25</text>
<line x1="185.30" y1="544.80" x2="186.80" y2="544.80" stroke="#ffffff" stroke-width="0.5" />
<line x1="192.60" y1="544.80" x2="194.10" y2="544.80" stroke="#ffffff" stroke-width="0.5" />
<text x="197.10" y="547.20" font-size="6.8" text-anchor="start" fill="#1a1a1a" >−0.50</text>
<text x="217.40" y="500.70" font-size="11.3" text-anchor="start" fill="#1a1a1a" >GABA</text>
<text x="217.40" y="514.70" font-size="11.3" text-anchor="start" fill="#1a1a1a" >Receptor</text>
<line x1="269.20" y1="503.10" x2="301.10" y2="502.20" stroke="#444a70" stroke-width="0.6" stroke-opacity="0.85"/>
<line x1="269.20" y1="503.10" x2="287.10" y2="520.00" stroke="#444a70" stroke-width="0.6" stroke-opacity="0.85"/>
<line x1="269.20" y1="503.10" x2="259.60" y2="528.20" stroke="#444a70" stroke-width="0.6" stroke-opacity="0.85"/>
<line x1="269.20" y1="503.10" x2="310.70" y2="533.10" stroke="#444a70" stroke-width="0.6" stroke-opacity="0.85"/>
<line x1="269.20" y1="503.10" x2="271.00" y2="548.00" stroke="#444a70" stroke-width="0.6" stroke-opacity="0.85"/>
<line x1="269.20" y1="503.10" x2="296.40" y2="548.00" stroke="#444a70" stroke-width="0.6" stroke-opacity="0.85"/>
<line x1="301.10" y1="502.20" x2="323.00" y2="513.60" stroke="#444a70" stroke-width="0.6" stroke-opacity="0.85"/>
<line x1="301.10" y1="502.20" x2="287.10" y2="520.00" stroke="#444a70" stroke-width="0.6" stroke-opacity="0.85"/>
<line x1="301.10" y1="502.20" x2="259.60" y2="528.20" stroke="#444a70" stroke-width="0.6" stroke-opacity="0.85"/>
<line x1="301.10" y1="502.20" x2="310.70" y2="533.10" stroke="#444a70" stroke-width="0.6" stroke-opacity="0.85"/>
<line x1="301.10" y1="502.20" x2="271.00" y2="548.00" stroke="#444a70" stroke-width="0.6" stroke-opacity="0.85"/>
<line x1="301.10" y1="502.20" x2="296.40" y2="548.00" stroke="#444a70" stroke-width="0.6" stroke-opacity="0.85"/>
<line x1="323.00" y1="513.60" x2="287.10" y2="520.00" stroke="#444a70" stroke-width="0.6" stroke-opacity="0.85"/>
<line x1="323.00" y1="513.60" x2="310.70" y2="533.10" stroke="#444a70" stroke-width="0.6" stroke-opacity="0.85"/>
<line x1="323.00" y1="513.60" x2="296.40" y2="548.00" stroke="#444a70" stroke-width="0.6" stroke-opacity="0.85"/>
<line x1="287.10" y1="520.00" x2="259.60" y2="528.20" stroke="#444a70" stroke-width="0.6" stroke-opacity="0.85"/>
<line x1="287.10" y1="520.00" x2="310.70" y2="533.10" stroke="#444a70" stroke-width="0.6" stroke-opacity="0.85"/>
<line x1="287.10" y1="520.00" x2="271.00" y2="548.00" stroke="#444a70" stroke-width="0.6" stroke-opacity="0.85"/>
<line x1="287.10" y1="520.00" x2="296.40" y2="548.00" stroke="#444a70" stroke-width="0.6" stroke-opacity="0.85"/>
<line x1="259.60" y1="528.20" x2="310.70" y2="533.10" stroke="#444a70" stroke-width="0.6" stroke-opacity="0.85"/>
<line x1="259.60" y1="528.20" x2="271.00" y2="548.00" stroke="#444a70" stroke-width="0.6" stroke-opacity="0.85"/>
<line x1="259.60" y1="528.20" x2="296.40" y2="548.00" stroke="#444a70" stroke-width="0.6" stroke-opacity="0.85"/>
<line x1="310.70" y1="533.10" x2="271.00" y2="548.00" stroke="#444a70" stroke-width="0.6" stroke-opacity="0.85"/>
<line x1="310.70" y1="533.10" x2="296.40" y2="548.00" stroke="#444a70" stroke-width="0.6" stroke-opacity="0.85"/>
<line x1="271.00" y1="548.00" x2="296.40" y2="548.00" stroke="#444a70" stroke-width="0.6" stroke-opacity="0.85"/>
<circle cx="269.20" cy="503.10" r="4.70" fill="#fdd6bf" stroke="none" stroke-width="0" />
<circle cx="301.10" cy="502.20" r="4.70" fill="#fdd6bf" stroke="none" stroke-width="0" />
<circle cx="323.00" cy="513.60" r="4.70" fill="#fdd6bf" stroke="none" stroke-width="0" />
<circle cx="287.10" cy="520.00" r="4.70" fill="#fdd6bf" stroke="none" stroke-width="0" />
<circle cx="259.60" cy="528.20" r="4.70" fill="#fdd6bf" stroke="none" stroke-width="0" />
<circle cx="310.70" cy="533.10" r="4.70" fill="#fdd6bf" stroke="none" stroke-width="0" />
<circle cx="271.00" cy="548.00" r="4.70" fill="#fdd6bf" stroke="none" stroke-width="0" />
<circle cx="296.40" cy="548.00" r="4.70" fill="#fdd6bf" stroke="none" stroke-width="0" />
<rect x="358.90" y="495.60" width="47.30" height="69.40" fill="#ffffff" stroke="none" stroke-width="0" />
<rect x="359.80" y="496.50" width="15.22" height="8.50" fill="#e3d8f4" stroke="none" stroke-width="0" />
<rect x="374.97" y="496.50" width="15.22" height="8.50" fill="#e6dcf5" stroke="none" stroke-width="0" />
<rect x="390.13" y="496.50" width="15.22" height="8.50" fill="#e3d8f4" stroke="none" stroke-width="0" />
<rect x="359.80" y="504.95" width="15.22" height="8.50" fill="#fdfafa" stroke="none" stroke-width="0" />
<rect x="374.97" y="504.95" width="15.22" height="8.50" fill="#d7c8f0" stroke="none" stroke-width="0" />
<rect x="390.13" y="504.95" width="15.22" height="8.50" fill="#c5b1e8" stroke="none" stroke-width="0" />
<rect x="359.80" y="513.40" width="15.22" height="8.50" fill="#fdf2ee" stroke="none" stroke-width="0" />
<rect x="374.97" y="513.40" width="15.22" height="8.50" fill="#b9a3e4" stroke="none" stroke-width="0" />
<rect x="390.13" y="513.40" width="15.22" height="8.50" fill="#8f74d2" stroke="none" stroke-width="0" />
<rect x="359.80" y="521.85" width="15.22" height="8.50" fill="#f7f4fb" stroke="none" stroke-width="0" />
<rect x="374.97" y="521.85" width="15.22" height="8.50" fill="#6e55c4" stroke="none" stroke-width="0" />
<rect x="390.13" y="521.85" width="15.22" height="8.50" fill="#7357c6" stroke="none" stroke-width="0" />
<rect x="359.80" y="530.30" width="15.22" height="8.50" fill="#fde4d9" stroke="none" stroke-width="0" />
<rect x="374.97" y="530.30" width="15.22" height="8.50" fill="#5547b9" stroke="none" stroke-width="0" />
<rect x="390.13" y="530.30" width="15.22" height="8.50" fill="#5a49ba" stroke="none" stroke-width="0" />
<rect x="359.80" y="538.75" width="15.22" height="8.50" fill="#fdf7f5" stroke="none" stroke-width="0" />
<rect x="374.97" y="538.75" width="15.22" height="8.50" fill="#5a49ba" stroke="none" stroke-width="0" />
<rect x="390.13" y="538.75" width="15.22" height="8.50" fill="#5a49ba" stroke="none" stroke-width="0" />
<rect x="359.80" y="547.20" width="15.22" height="8.50" fill="#fdf1ec" stroke="none" stroke-width="0" />
<rect x="374.97" y="547.20" width="15.22" height="8.50" fill="#5a49ba" stroke="none" stroke-width="0" />
<rect x="390.13" y="547.20" width="15.22" height="8.50" fill="#5246b5" stroke="none" stroke-width="0" />
<rect x="359.80" y="555.65" width="15.22" height="8.50" fill="#fcfbfd" stroke="none" stroke-width="0" />
<rect x="374.97" y="555.65" width="15.22" height="8.50" fill="#5246b5" stroke="none" stroke-width="0" />
<rect x="390.13" y="555.65" width="15.22" height="8.50" fill="#4243aa" stroke="none" stroke-width="0" />
<rect x="358.90" y="495.60" width="47.30" height="69.40" fill="none" stroke="#b8b8b8" stroke-width="0.8" />
<line x1="357.10" y1="500.73" x2="358.90" y2="500.73" stroke="#222" stroke-width="0.8" />
<text x="357.00" y="502.38" font-size="6.9" text-anchor="end" fill="#1a1a1a" >Gabrg1</text>
<line x1="357.10" y1="509.18" x2="358.90" y2="509.18" stroke="#222" stroke-width="0.8" />
<text x="357.00" y="510.82" font-size="6.9" text-anchor="end" fill="#1a1a1a" >Gabrb2</text>
<line x1="357.10" y1="517.62" x2="358.90" y2="517.62" stroke="#222" stroke-width="0.8" />
<text x="357.00" y="519.27" font-size="6.9" text-anchor="end" fill="#1a1a1a" >Gabrg2</text>
<line x1="357.10" y1="526.08" x2="358.90" y2="526.08" stroke="#222" stroke-width="0.8" />
<text x="357.00" y="527.73" font-size="6.9" text-anchor="end" fill="#1a1a1a" >Gabrg3</text>
<line x1="357.10" y1="534.52" x2="358.90" y2="534.52" stroke="#222" stroke-width="0.8" />
<text x="357.00" y="536.17" font-size="6.9" text-anchor="end" fill="#1a1a1a" >Gabra4</text>
<line x1="357.10" y1="542.98" x2="358.90" y2="542.98" stroke="#222" stroke-width="0.8" />
<text x="357.00" y="544.62" font-size="6.9" text-anchor="end" fill="#1a1a1a" >Gabra5</text>
<line x1="357.10" y1="551.43" x2="358.90" y2="551.43" stroke="#222" stroke-width="0.8" />
<text x="357.00" y="553.08" font-size="6.9" text-anchor="end" fill="#1a1a1a" >Gabra1</text>
<line x1="357.10" y1="559.88" x2="358.90" y2="559.88" stroke="#222" stroke-width="0.8" />
<text x="357.00" y="561.52" font-size="6.9" text-anchor="end" fill="#1a1a1a" >Gabrd</text>
<line x1="367.38" y1="565.00" x2="367.38" y2="566.50" stroke="#333" stroke-width="0.5" />
<text transform="translate(368.68,566.20) rotate(-90)" font-size="5.8" text-anchor="end" fill="#1a1a1a">Tauvwt</text>
<line x1="382.55" y1="565.00" x2="382.55" y2="566.50" stroke="#333" stroke-width="0.5" />
<text transform="translate(383.85,566.20) rotate(-90)" font-size="5.8" text-anchor="end" fill="#1a1a1a">TauARvD</text>
<line x1="397.72" y1="565.00" x2="397.72" y2="566.50" stroke="#333" stroke-width="0.5" />
<text transform="translate(399.02,566.20) rotate(-90)" font-size="5.8" text-anchor="end" fill="#1a1a1a">wtARvD</text>
<text x="413.20" y="510.30" font-size="7.0" text-anchor="start" fill="#1a1a1a" >logFC</text>
<defs><linearGradient id="cb413_513" x1="0" y1="0" x2="0" y2="1"><stop offset="0.000" stop-color="#fde0d2"/><stop offset="0.150" stop-color="#ffffff"/><stop offset="0.500" stop-color="#bba6e5"/><stop offset="0.800" stop-color="#6a54c2"/><stop offset="1.000" stop-color="#4243aa"/></linearGradient></defs>
<rect x="413.20" y="513.70" width="8.80" height="44.10" fill="url(#cb413_513)" stroke="none" stroke-width="0" />
<line x1="413.20" y1="520.70" x2="414.70" y2="520.70" stroke="#ffffff" stroke-width="0.5" />
<line x1="420.50" y1="520.70" x2="422.00" y2="520.70" stroke="#ffffff" stroke-width="0.5" />
<text x="425.00" y="523.10" font-size="6.8" text-anchor="start" fill="#1a1a1a" >0.0</text>
<line x1="413.20" y1="531.70" x2="414.70" y2="531.70" stroke="#ffffff" stroke-width="0.5" />
<line x1="420.50" y1="531.70" x2="422.00" y2="531.70" stroke="#ffffff" stroke-width="0.5" />
<text x="425.00" y="534.10" font-size="6.8" text-anchor="start" fill="#1a1a1a" >−0.4</text>
<line x1="413.20" y1="542.60" x2="414.70" y2="542.60" stroke="#ffffff" stroke-width="0.5" />
<line x1="420.50" y1="542.60" x2="422.00" y2="542.60" stroke="#ffffff" stroke-width="0.5" />
<text x="425.00" y="545.00" font-size="6.8" text-anchor="start" fill="#1a1a1a" >−0.8</text>
<line x1="413.20" y1="554.00" x2="414.70" y2="554.00" stroke="#ffffff" stroke-width="0.5" />
<line x1="420.50" y1="554.00" x2="422.00" y2="554.00" stroke="#ffffff" stroke-width="0.5" />
<text x="425.00" y="556.40" font-size="6.8" text-anchor="start" fill="#1a1a1a" >−1.2</text>
<text x="473.80" y="297.00" font-size="15.6" text-anchor="start" font-weight="bold" fill="#111" >D)</text>
<text x="558.50" y="297.90" font-size="11.4" text-anchor="middle" fill="#1a1a1a" >Lysosome Pathway</text>
<text x="560.00" y="311.40" font-size="11.4" text-anchor="middle" fill="#1a1a1a" >(RNA-seq)</text>
<rect x="553.40" y="317.20" width="24.80" height="416.10" fill="#ffffff" stroke="none" stroke-width="0" />
<rect x="554.10" y="317.90" width="7.85" height="5.51" fill="#ffffff" stroke="none" stroke-width="0" />
<rect x="561.90" y="317.90" width="7.85" height="5.51" fill="#ffffff" stroke="none" stroke-width="0" />
<rect x="569.70" y="317.90" width="7.85" height="5.51" fill="#e43a15" stroke="none" stroke-width="0" />
<rect x="554.10" y="323.36" width="7.85" height="5.51" fill="#ffffff" stroke="none" stroke-width="0" />
<rect x="561.90" y="323.36" width="7.85" height="5.51" fill="#fdc1a8" stroke="none" stroke-width="0" />
<rect x="569.70" y="323.36" width="7.85" height="5.51" fill="#f46f45" stroke="none" stroke-width="0" />
<rect x="554.10" y="328.81" width="7.85" height="5.51" fill="#fdcbb6" stroke="none" stroke-width="0" />
<rect x="561.90" y="328.81" width="7.85" height="5.51" fill="#fdd1be" stroke="none" stroke-width="0" />
<rect x="569.70" y="328.81" width="7.85" height="5.51" fill="#f88259" stroke="none" stroke-width="0" />
<rect x="554.10" y="334.27" width="7.85" height="5.51" fill="#f8f5fc" stroke="none" stroke-width="0" />
<rect x="561.90" y="334.27" width="7.85" height="5.51" fill="#fa936c" stroke="none" stroke-width="0" />
<rect x="569.70" y="334.27" width="7.85" height="5.51" fill="#f46f45" stroke="none" stroke-width="0" />
<rect x="554.10" y="339.73" width="7.85" height="5.51" fill="#fee1d5" stroke="none" stroke-width="0" />
<rect x="561.90" y="339.73" width="7.85" height="5.51" fill="#fb9b75" stroke="none" stroke-width="0" />
<rect x="569.70" y="339.73" width="7.85" height="5.51" fill="#fdc1a8" stroke="none" stroke-width="0" />
<rect x="554.10" y="345.18" width="7.85" height="5.51" fill="#fee6dc" stroke="none" stroke-width="0" />
<rect x="561.90" y="345.18" width="7.85" height="5.51" fill="#ffffff" stroke="none" stroke-width="0" />
<rect x="569.70" y="345.18" width="7.85" height="5.51" fill="#f46f45" stroke="none" stroke-width="0" />
<rect x="554.10" y="350.64" width="7.85" height="5.51" fill="#fffaf8" stroke="none" stroke-width="0" />
<rect x="561.90" y="350.64" width="7.85" height="5.51" fill="#fcb495" stroke="none" stroke-width="0" />
<rect x="569.70" y="350.64" width="7.85" height="5.51" fill="#fcb495" stroke="none" stroke-width="0" />
<rect x="554.10" y="356.10" width="7.85" height="5.51" fill="#c0abe5" stroke="none" stroke-width="0" />
<rect x="561.90" y="356.10" width="7.85" height="5.51" fill="#fa8f68" stroke="none" stroke-width="0" />
<rect x="569.70" y="356.10" width="7.85" height="5.51" fill="#f88259" stroke="none" stroke-width="0" />
<rect x="554.10" y="361.55" width="7.85" height="5.51" fill="#ffffff" stroke="none" stroke-width="0" />
<rect x="561.90" y="361.55" width="7.85" height="5.51" fill="#fdc7b1" stroke="none" stroke-width="0" />
<rect x="569.70" y="361.55" width="7.85" height="5.51" fill="#fdcbb6" stroke="none" stroke-width="0" />
<rect x="554.10" y="367.01" width="7.85" height="5.51" fill="#fffdfd" stroke="none" stroke-width="0" />
<rect x="561.90" y="367.01" width="7.85" height="5.51" fill="#fdcbb6" stroke="none" stroke-width="0" />
<rect x="569.70" y="367.01" width="7.85" height="5.51" fill="#fdcfbc" stroke="none" stroke-width="0" />
<rect x="554.10" y="372.47" width="7.85" height="5.51" fill="#fffdfd" stroke="none" stroke-width="0" />
<rect x="561.90" y="372.47" width="7.85" height="5.51" fill="#fdcbb6" stroke="none" stroke-width="0" />
<rect x="569.70" y="372.47" width="7.85" height="5.51" fill="#fdcbb6" stroke="none" stroke-width="0" />
<rect x="554.10" y="377.92" width="7.85" height="5.51" fill="#fcfbfe" stroke="none" stroke-width="0" />
<rect x="561.90" y="377.92" width="7.85" height="5.51" fill="#fdc1a8" stroke="none" stroke-width="0" />
<rect x="569.70" y="377.92" width="7.85" height="5.51" fill="#fdcbb6" stroke="none" stroke-width="0" />
<rect x="554.10" y="383.38" width="7.85" height="5.51" fill="#d5c6ef" stroke="none" stroke-width="0" />
<rect x="561.90" y="383.38" width="7.85" height="5.51" fill="#fb9b75" stroke="none" stroke-width="0" />
<rect x="569.70" y="383.38" width="7.85" height="5.51" fill="#fca47f" stroke="none" stroke-width="0" />
<rect x="554.10" y="388.84" width="7.85" height="5.51" fill="#e3d9f5" stroke="none" stroke-width="0" />
<rect x="561.90" y="388.84" width="7.85" height="5.51" fill="#fcb89b" stroke="none" stroke-width="0" />
<rect x="569.70" y="388.84" width="7.85" height="5.51" fill="#fca47f" stroke="none" stroke-width="0" />
<rect x="554.10" y="394.29" width="7.85" height="5.51" fill="#e3d9f5" stroke="none" stroke-width="0" />
<rect x="561.90" y="394.29" width="7.85" height="5.51" fill="#fcbca0" stroke="none" stroke-width="0" />
<rect x="569.70" y="394.29" width="7.85" height="5.51" fill="#fca885" stroke="none" stroke-width="0" />
<rect x="554.10" y="399.75" width="7.85" height="5.51" fill="#ffffff" stroke="none" stroke-width="0" />
<rect x="561.90" y="399.75" width="7.85" height="5.51" fill="#fdc7b1" stroke="none" stroke-width="0" />
<rect x="569.70" y="399.75" width="7.85" height="5.51" fill="#fdddd0" stroke="none" stroke-width="0" />
<rect x="554.10" y="405.21" width="7.85" height="5.51" fill="#f8f5fc" stroke="none" stroke-width="0" />
<rect x="561.90" y="405.21" width="7.85" height="5.51" fill="#fcbca0" stroke="none" stroke-width="0" />
<rect x="569.70" y="405.21" width="7.85" height="5.51" fill="#fdcfbc" stroke="none" stroke-width="0" />
<rect x="554.10" y="410.66" width="7.85" height="5.51" fill="#fff7f3" stroke="none" stroke-width="0" />
<rect x="561.90" y="410.66" width="7.85" height="5.51" fill="#fdc7b1" stroke="none" stroke-width="0" />
<rect x="569.70" y="410.66" width="7.85" height="5.51" fill="#fff7f3" stroke="none" stroke-width="0" />
<rect x="554.10" y="416.12" width="7.85" height="5.51" fill="#f5f2fb" stroke="none" stroke-width="0" />
<rect x="561.90" y="416.12" width="7.85" height="5.51" fill="#fcae8d" stroke="none" stroke-width="0" />
<rect x="569.70" y="416.12" width="7.85" height="5.51" fill="#fdd5c4" stroke="none" stroke-width="0" />
<rect x="554.10" y="421.57" width="7.85" height="5.51" fill="#fffdfd" stroke="none" stroke-width="0" />
<rect x="561.90" y="421.57" width="7.85" height="5.51" fill="#fddacb" stroke="none" stroke-width="0" />
<rect x="569.70" y="421.57" width="7.85" height="5.51" fill="#fddacb" stroke="none" stroke-width="0" />
<rect x="554.10" y="427.03" width="7.85" height="5.51" fill="#fbf9fd" stroke="none" stroke-width="0" />
<rect x="561.90" y="427.03" width="7.85" height="5.51" fill="#fdc1a8" stroke="none" stroke-width="0" />
<rect x="569.70" y="427.03" width="7.85" height="5.51" fill="#fee1d5" stroke="none" stroke-width="0" />
<rect x="554.10" y="432.49" width="7.85" height="5.51" fill="#fbf9fd" stroke="none" stroke-width="0" />
<rect x="561.90" y="432.49" width="7.85" height="5.51" fill="#fddacb" stroke="none" stroke-width="0" />
<rect x="569.70" y="432.49" width="7.85" height="5.51" fill="#fdcbb6" stroke="none" stroke-width="0" />
<rect x="554.10" y="437.94" width="7.85" height="5.51" fill="#ffffff" stroke="none" stroke-width="0" />
<rect x="561.90" y="437.94" width="7.85" height="5.51" fill="#fee1d5" stroke="none" stroke-width="0" />
<rect x="569.70" y="437.94" width="7.85" height="5.51" fill="#fdcbb6" stroke="none" stroke-width="0" />
<rect x="554.10" y="443.40" width="7.85" height="5.51" fill="#eee8f9" stroke="none" stroke-width="0" />
<rect x="561.90" y="443.40" width="7.85" height="5.51" fill="#fdc7b1" stroke="none" stroke-width="0" />
<rect x="569.70" y="443.40" width="7.85" height="5.51" fill="#fdc7b1" stroke="none" stroke-width="0" />
<rect x="554.10" y="448.86" width="7.85" height="5.51" fill="#fff8f6" stroke="none" stroke-width="0" />
<rect x="561.90" y="448.86" width="7.85" height="5.51" fill="#fdddd0" stroke="none" stroke-width="0" />
<rect x="569.70" y="448.86" width="7.85" height="5.51" fill="#fee1d5" stroke="none" stroke-width="0" />
<rect x="554.10" y="454.31" width="7.85" height="5.51" fill="#fcfbfe" stroke="none" stroke-width="0" />
<rect x="561.90" y="454.31" width="7.85" height="5.51" fill="#fdd3c1" stroke="none" stroke-width="0" />
<rect x="569.70" y="454.31" width="7.85" height="5.51" fill="#fddacb" stroke="none" stroke-width="0" />
<rect x="554.10" y="459.77" width="7.85" height="5.51" fill="#fbf9fd" stroke="none" stroke-width="0" />
<rect x="561.90" y="459.77" width="7.85" height="5.51" fill="#fdd5c4" stroke="none" stroke-width="0" />
<rect x="569.70" y="459.77" width="7.85" height="5.51" fill="#fdcfbc" stroke="none" stroke-width="0" />
<rect x="554.10" y="465.23" width="7.85" height="5.51" fill="#fbf9fd" stroke="none" stroke-width="0" />
<rect x="561.90" y="465.23" width="7.85" height="5.51" fill="#fdd1be" stroke="none" stroke-width="0" />
<rect x="569.70" y="465.23" width="7.85" height="5.51" fill="#fdddd0" stroke="none" stroke-width="0" />
<rect x="554.10" y="470.68" width="7.85" height="5.51" fill="#ffffff" stroke="none" stroke-width="0" />
<rect x="561.90" y="470.68" width="7.85" height="5.51" fill="#fddacb" stroke="none" stroke-width="0" />
<rect x="569.70" y="470.68" width="7.85" height="5.51" fill="#fee1d5" stroke="none" stroke-width="0" />
<rect x="554.10" y="476.14" width="7.85" height="5.51" fill="#ffffff" stroke="none" stroke-width="0" />
<rect x="561.90" y="476.14" width="7.85" height="5.51" fill="#fddacb" stroke="none" stroke-width="0" />
<rect x="569.70" y="476.14" width="7.85" height="5.51" fill="#fee1d5" stroke="none" stroke-width="0" />
<rect x="554.10" y="481.60" width="7.85" height="5.51" fill="#f8f5fc" stroke="none" stroke-width="0" />
<rect x="561.90" y="481.60" width="7.85" height="5.51" fill="#fdddd0" stroke="none" stroke-width="0" />
<rect x="569.70" y="481.60" width="7.85" height="5.51" fill="#fdcbb6" stroke="none" stroke-width="0" />
<rect x="554.10" y="487.05" width="7.85" height="5.51" fill="#ffffff" stroke="none" stroke-width="0" />
<rect x="561.90" y="487.05" width="7.85" height="5.51" fill="#fee1d5" stroke="none" stroke-width="0" />
<rect x="569.70" y="487.05" width="7.85" height="5.51" fill="#fdddd0" stroke="none" stroke-width="0" />
<rect x="554.10" y="492.51" width="7.85" height="5.51" fill="#fffaf8" stroke="none" stroke-width="0" />
<rect x="561.90" y="492.51" width="7.85" height="5.51" fill="#fff5f1" stroke="none" stroke-width="0" />
<rect x="569.70" y="492.51" width="7.85" height="5.51" fill="#fdd5c4" stroke="none" stroke-width="0" />
<rect x="554.10" y="497.97" width="7.85" height="5.51" fill="#e6dcf6" stroke="none" stroke-width="0" />
<rect x="561.90" y="497.97" width="7.85" height="5.51" fill="#fdcbb6" stroke="none" stroke-width="0" />
<rect x="569.70" y="497.97" width="7.85" height="5.51" fill="#fdcfbc" stroke="none" stroke-width="0" />
<rect x="554.10" y="503.42" width="7.85" height="5.51" fill="#fff7f3" stroke="none" stroke-width="0" />
<rect x="561.90" y="503.42" width="7.85" height="5.51" fill="#fdd5c4" stroke="none" stroke-width="0" />
<rect x="569.70" y="503.42" width="7.85" height="5.51" fill="#fff7f3" stroke="none" stroke-width="0" />
<rect x="554.10" y="508.88" width="7.85" height="5.51" fill="#ffffff" stroke="none" stroke-width="0" />
<rect x="561.90" y="508.88" width="7.85" height="5.51" fill="#fdddd0" stroke="none" stroke-width="0" />
<rect x="569.70" y="508.88" width="7.85" height="5.51" fill="#fdddd0" stroke="none" stroke-width="0" />
<rect x="554.10" y="514.34" width="7.85" height="5.51" fill="#fcfbfe" stroke="none" stroke-width="0" />
<rect x="561.90" y="514.34" width="7.85" height="5.51" fill="#fdddd0" stroke="none" stroke-width="0" />
<rect x="569.70" y="514.34" width="7.85" height="5.51" fill="#fdd5c4" stroke="none" stroke-width="0" />
<rect x="554.10" y="519.79" width="7.85" height="5.51" fill="#fcfbfe" stroke="none" stroke-width="0" />
<rect x="561.90" y="519.79" width="7.85" height="5.51" fill="#fdcfbc" stroke="none" stroke-width="0" />
<rect x="569.70" y="519.79" width="7.85" height="5.51" fill="#fee1d5" stroke="none" stroke-width="0" />
<rect x="554.10" y="525.25" width="7.85" height="5.51" fill="#fff7f3" stroke="none" stroke-width="0" />
<rect x="561.90" y="525.25" width="7.85" height="5.51" fill="#fee1d5" stroke="none" stroke-width="0" />
<rect x="569.70" y="525.25" width="7.85" height="5.51" fill="#feeee7" stroke="none" stroke-width="0" />
<rect x="554.10" y="530.71" width="7.85" height="5.51" fill="#fbf9fd" stroke="none" stroke-width="0" />
<rect x="561.90" y="530.71" width="7.85" height="5.51" fill="#fddacb" stroke="none" stroke-width="0" />
<rect x="569.70" y="530.71" width="7.85" height="5.51" fill="#fdddd0" stroke="none" stroke-width="0" />
<rect x="554.10" y="536.16" width="7.85" height="5.51" fill="#fffcfa" stroke="none" stroke-width="0" />
<rect x="561.90" y="536.16" width="7.85" height="5.51" fill="#fddacb" stroke="none" stroke-width="0" />
<rect x="569.70" y="536.16" width="7.85" height="5.51" fill="#fef2ec" stroke="none" stroke-width="0" />
<rect x="554.10" y="541.62" width="7.85" height="5.51" fill="#f8f5fc" stroke="none" stroke-width="0" />
<rect x="561.90" y="541.62" width="7.85" height="5.51" fill="#fee1d5" stroke="none" stroke-width="0" />
<rect x="569.70" y="541.62" width="7.85" height="5.51" fill="#fdddd0" stroke="none" stroke-width="0" />
<rect x="554.10" y="547.08" width="7.85" height="5.51" fill="#fffcfa" stroke="none" stroke-width="0" />
<rect x="561.90" y="547.08" width="7.85" height="5.51" fill="#fee6dc" stroke="none" stroke-width="0" />
<rect x="569.70" y="547.08" width="7.85" height="5.51" fill="#feeee7" stroke="none" stroke-width="0" />
<rect x="554.10" y="552.53" width="7.85" height="5.51" fill="#ffffff" stroke="none" stroke-width="0" />
<rect x="561.90" y="552.53" width="7.85" height="5.51" fill="#fee1d5" stroke="none" stroke-width="0" />
<rect x="569.70" y="552.53" width="7.85" height="5.51" fill="#feeee7" stroke="none" stroke-width="0" />
<rect x="554.10" y="557.99" width="7.85" height="5.51" fill="#fcfbfe" stroke="none" stroke-width="0" />
<rect x="561.90" y="557.99" width="7.85" height="5.51" fill="#fdcfbc" stroke="none" stroke-width="0" />
<rect x="569.70" y="557.99" width="7.85" height="5.51" fill="#fff5f1" stroke="none" stroke-width="0" />
<rect x="554.10" y="563.45" width="7.85" height="5.51" fill="#ffffff" stroke="none" stroke-width="0" />
<rect x="561.90" y="563.45" width="7.85" height="5.51" fill="#fee6dc" stroke="none" stroke-width="0" />
<rect x="569.70" y="563.45" width="7.85" height="5.51" fill="#feeee7" stroke="none" stroke-width="0" />
<rect x="554.10" y="568.90" width="7.85" height="5.51" fill="#f4f0fb" stroke="none" stroke-width="0" />
<rect x="561.90" y="568.90" width="7.85" height="5.51" fill="#fee6dc" stroke="none" stroke-width="0" />
<rect x="569.70" y="568.90" width="7.85" height="5.51" fill="#fdddd0" stroke="none" stroke-width="0" />
<rect x="554.10" y="574.36" width="7.85" height="5.51" fill="#fbf9fd" stroke="none" stroke-width="0" />
<rect x="561.90" y="574.36" width="7.85" height="5.51" fill="#fdddd0" stroke="none" stroke-width="0" />
<rect x="569.70" y="574.36" width="7.85" height="5.51" fill="#feeee7" stroke="none" stroke-width="0" />
<rect x="554.10" y="579.82" width="7.85" height="5.51" fill="#ffffff" stroke="none" stroke-width="0" />
<rect x="561.90" y="579.82" width="7.85" height="5.51" fill="#feebe3" stroke="none" stroke-width="0" />
<rect x="569.70" y="579.82" width="7.85" height="5.51" fill="#feebe3" stroke="none" stroke-width="0" />
<rect x="554.10" y="585.27" width="7.85" height="5.51" fill="#ffffff" stroke="none" stroke-width="0" />
<rect x="561.90" y="585.27" width="7.85" height="5.51" fill="#feebe3" stroke="none" stroke-width="0" />
<rect x="569.70" y="585.27" width="7.85" height="5.51" fill="#feeee7" stroke="none" stroke-width="0" />
<rect x="554.10" y="590.73" width="7.85" height="5.51" fill="#eee8f9" stroke="none" stroke-width="0" />
<rect x="561.90" y="590.73" width="7.85" height="5.51" fill="#fee6dc" stroke="none" stroke-width="0" />
<rect x="569.70" y="590.73" width="7.85" height="5.51" fill="#fee1d5" stroke="none" stroke-width="0" />
<rect x="554.10" y="596.19" width="7.85" height="5.51" fill="#f5f2fb" stroke="none" stroke-width="0" />
<rect x="561.90" y="596.19" width="7.85" height="5.51" fill="#fef2ec" stroke="none" stroke-width="0" />
<rect x="569.70" y="596.19" width="7.85" height="5.51" fill="#fee1d5" stroke="none" stroke-width="0" />
<rect x="554.10" y="601.64" width="7.85" height="5.51" fill="#d8caf0" stroke="none" stroke-width="0" />
<rect x="561.90" y="601.64" width="7.85" height="5.51" fill="#fdddd0" stroke="none" stroke-width="0" />
<rect x="569.70" y="601.64" width="7.85" height="5.51" fill="#fdc7b1" stroke="none" stroke-width="0" />
<rect x="554.10" y="607.10" width="7.85" height="5.51" fill="#f5f2fb" stroke="none" stroke-width="0" />
<rect x="561.90" y="607.10" width="7.85" height="5.51" fill="#fee1d5" stroke="none" stroke-width="0" />
<rect x="569.70" y="607.10" width="7.85" height="5.51" fill="#feeee7" stroke="none" stroke-width="0" />
<rect x="554.10" y="612.56" width="7.85" height="5.51" fill="#e3d9f5" stroke="none" stroke-width="0" />
<rect x="561.90" y="612.56" width="7.85" height="5.51" fill="#fff7f3" stroke="none" stroke-width="0" />
<rect x="569.70" y="612.56" width="7.85" height="5.51" fill="#fdc1a8" stroke="none" stroke-width="0" />
<rect x="554.10" y="618.01" width="7.85" height="5.51" fill="#eae2f7" stroke="none" stroke-width="0" />
<rect x="561.90" y="618.01" width="7.85" height="5.51" fill="#fddacb" stroke="none" stroke-width="0" />
<rect x="569.70" y="618.01" width="7.85" height="5.51" fill="#feebe3" stroke="none" stroke-width="0" />
<rect x="554.10" y="623.47" width="7.85" height="5.51" fill="#f4f0fb" stroke="none" stroke-width="0" />
<rect x="561.90" y="623.47" width="7.85" height="5.51" fill="#feebe3" stroke="none" stroke-width="0" />
<rect x="569.70" y="623.47" width="7.85" height="5.51" fill="#fee6dc" stroke="none" stroke-width="0" />
<rect x="554.10" y="628.92" width="7.85" height="5.51" fill="#ffffff" stroke="none" stroke-width="0" />
<rect x="561.90" y="628.92" width="7.85" height="5.51" fill="#feeee7" stroke="none" stroke-width="0" />
<rect x="569.70" y="628.92" width="7.85" height="5.51" fill="#fef3ee" stroke="none" stroke-width="0" />
<rect x="554.10" y="634.38" width="7.85" height="5.51" fill="#dccff2" stroke="none" stroke-width="0" />
<rect x="561.90" y="634.38" width="7.85" height="5.51" fill="#feebe3" stroke="none" stroke-width="0" />
<rect x="569.70" y="634.38" width="7.85" height="5.51" fill="#fdc7b1" stroke="none" stroke-width="0" />
<rect x="554.10" y="639.84" width="7.85" height="5.51" fill="#f4f0fb" stroke="none" stroke-width="0" />
<rect x="561.90" y="639.84" width="7.85" height="5.51" fill="#fee6dc" stroke="none" stroke-width="0" />
<rect x="569.70" y="639.84" width="7.85" height="5.51" fill="#fef2ec" stroke="none" stroke-width="0" />
<rect x="554.10" y="645.29" width="7.85" height="5.51" fill="#e3d9f5" stroke="none" stroke-width="0" />
<rect x="561.90" y="645.29" width="7.85" height="5.51" fill="#fee6dc" stroke="none" stroke-width="0" />
<rect x="569.70" y="645.29" width="7.85" height="5.51" fill="#fdddd0" stroke="none" stroke-width="0" />
<rect x="554.10" y="650.75" width="7.85" height="5.51" fill="#d8caf0" stroke="none" stroke-width="0" />
<rect x="561.90" y="650.75" width="7.85" height="5.51" fill="#fdd5c4" stroke="none" stroke-width="0" />
<rect x="569.70" y="650.75" width="7.85" height="5.51" fill="#fee6dc" stroke="none" stroke-width="0" />
<rect x="554.10" y="656.21" width="7.85" height="5.51" fill="#fffdfd" stroke="none" stroke-width="0" />
<rect x="561.90" y="656.21" width="7.85" height="5.51" fill="#feeee7" stroke="none" stroke-width="0" />
<rect x="569.70" y="656.21" width="7.85" height="5.51" fill="#ffffff" stroke="none" stroke-width="0" />
<rect x="554.10" y="661.66" width="7.85" height="5.51" fill="#eae2f7" stroke="none" stroke-width="0" />
<rect x="561.90" y="661.66" width="7.85" height="5.51" fill="#fef2ec" stroke="none" stroke-width="0" />
<rect x="569.70" y="661.66" width="7.85" height="5.51" fill="#fdddd0" stroke="none" stroke-width="0" />
<rect x="554.10" y="667.12" width="7.85" height="5.51" fill="#f4f0fb" stroke="none" stroke-width="0" />
<rect x="561.90" y="667.12" width="7.85" height="5.51" fill="#fef3ee" stroke="none" stroke-width="0" />
<rect x="569.70" y="667.12" width="7.85" height="5.51" fill="#feebe3" stroke="none" stroke-width="0" />
<rect x="554.10" y="672.58" width="7.85" height="5.51" fill="#f9f7fd" stroke="none" stroke-width="0" />
<rect x="561.90" y="672.58" width="7.85" height="5.51" fill="#feeee7" stroke="none" stroke-width="0" />
<rect x="569.70" y="672.58" width="7.85" height="5.51" fill="#fff8f6" stroke="none" stroke-width="0" />
<rect x="554.10" y="678.03" width="7.85" height="5.51" fill="#f4f0fb" stroke="none" stroke-width="0" />
<rect x="561.90" y="678.03" width="7.85" height="5.51" fill="#feebe3" stroke="none" stroke-width="0" />
<rect x="569.70" y="678.03" width="7.85" height="5.51" fill="#fff7f3" stroke="none" stroke-width="0" />
<rect x="554.10" y="683.49" width="7.85" height="5.51" fill="#d5c6ef" stroke="none" stroke-width="0" />
<rect x="561.90" y="683.49" width="7.85" height="5.51" fill="#fddacb" stroke="none" stroke-width="0" />
<rect x="569.70" y="683.49" width="7.85" height="5.51" fill="#fee6dc" stroke="none" stroke-width="0" />
<rect x="554.10" y="688.95" width="7.85" height="5.51" fill="#ffffff" stroke="none" stroke-width="0" />
<rect x="561.90" y="688.95" width="7.85" height="5.51" fill="#eee8f9" stroke="none" stroke-width="0" />
<rect x="569.70" y="688.95" width="7.85" height="5.51" fill="#fee6dc" stroke="none" stroke-width="0" />
<rect x="554.10" y="694.40" width="7.85" height="5.51" fill="#b49ce0" stroke="none" stroke-width="0" />
<rect x="561.90" y="694.40" width="7.85" height="5.51" fill="#fddacb" stroke="none" stroke-width="0" />
<rect x="569.70" y="694.40" width="7.85" height="5.51" fill="#fdd3c1" stroke="none" stroke-width="0" />
<rect x="554.10" y="699.86" width="7.85" height="5.51" fill="#f7f3fc" stroke="none" stroke-width="0" />
<rect x="561.90" y="699.86" width="7.85" height="5.51" fill="#fffaf8" stroke="none" stroke-width="0" />
<rect x="569.70" y="699.86" width="7.85" height="5.51" fill="#fffaf8" stroke="none" stroke-width="0" />
<rect x="554.10" y="705.32" width="7.85" height="5.51" fill="#b9a2e2" stroke="none" stroke-width="0" />
<rect x="561.90" y="705.32" width="7.85" height="5.51" fill="#fef2ec" stroke="none" stroke-width="0" />
<rect x="569.70" y="705.32" width="7.85" height="5.51" fill="#fdc1a8" stroke="none" stroke-width="0" />
<rect x="554.10" y="710.77" width="7.85" height="5.51" fill="#f5f2fb" stroke="none" stroke-width="0" />
<rect x="561.90" y="710.77" width="7.85" height="5.51" fill="#fffaf8" stroke="none" stroke-width="0" />
<rect x="569.70" y="710.77" width="7.85" height="5.51" fill="#ffffff" stroke="none" stroke-width="0" />
<rect x="554.10" y="716.23" width="7.85" height="5.51" fill="#b49ce0" stroke="none" stroke-width="0" />
<rect x="561.90" y="716.23" width="7.85" height="5.51" fill="#feebe3" stroke="none" stroke-width="0" />
<rect x="569.70" y="716.23" width="7.85" height="5.51" fill="#fee1d5" stroke="none" stroke-width="0" />
<rect x="554.10" y="721.69" width="7.85" height="5.51" fill="#f5f2fb" stroke="none" stroke-width="0" />
<rect x="561.90" y="721.69" width="7.85" height="5.51" fill="#f8f5fc" stroke="none" stroke-width="0" />
<rect x="569.70" y="721.69" width="7.85" height="5.51" fill="#fbf9fd" stroke="none" stroke-width="0" />
<rect x="554.10" y="727.14" width="7.85" height="5.51" fill="#c0abe5" stroke="none" stroke-width="0" />
<rect x="561.90" y="727.14" width="7.85" height="5.51" fill="#fcfbfe" stroke="none" stroke-width="0" />
<rect x="569.70" y="727.14" width="7.85" height="5.51" fill="#fcfbfe" stroke="none" stroke-width="0" />
<rect x="553.40" y="317.20" width="24.80" height="416.10" fill="none" stroke="#b5b5b5" stroke-width="0.8" />
<line x1="551.20" y1="320.63" x2="553.40" y2="320.63" stroke="#222" stroke-width="1.0" />
<text x="549.80" y="322.93" font-size="7.05" text-anchor="end" fill="#1a1a1a" >Ctse</text>
<line x1="551.20" y1="326.08" x2="553.40" y2="326.08" stroke="#222" stroke-width="1.0" />
<text x="549.80" y="328.38" font-size="7.05" text-anchor="end" fill="#1a1a1a" >Gm38426</text>
<line x1="551.20" y1="331.54" x2="553.40" y2="331.54" stroke="#222" stroke-width="1.0" />
<text x="549.80" y="333.84" font-size="7.05" text-anchor="end" fill="#1a1a1a" >Atp6v0d2</text>
<line x1="551.20" y1="337.00" x2="553.40" y2="337.00" stroke="#222" stroke-width="1.0" />
<text x="549.80" y="339.30" font-size="7.05" text-anchor="end" fill="#1a1a1a" >Cd63</text>
<line x1="551.20" y1="342.45" x2="553.40" y2="342.45" stroke="#222" stroke-width="1.0" />
<text x="549.80" y="344.75" font-size="7.05" text-anchor="end" fill="#1a1a1a" >Napsa</text>
<line x1="551.20" y1="347.91" x2="553.40" y2="347.91" stroke="#222" stroke-width="1.0" />
<text x="549.80" y="350.21" font-size="7.05" text-anchor="end" fill="#1a1a1a" >Lamp3</text>
<line x1="551.20" y1="353.37" x2="553.40" y2="353.37" stroke="#222" stroke-width="1.0" />
<text x="549.80" y="355.67" font-size="7.05" text-anchor="end" fill="#1a1a1a" >Manba</text>
<line x1="551.20" y1="358.82" x2="553.40" y2="358.82" stroke="#222" stroke-width="1.0" />
<text x="549.80" y="361.12" font-size="7.05" text-anchor="end" fill="#1a1a1a" >Cd68</text>
<line x1="551.20" y1="364.28" x2="553.40" y2="364.28" stroke="#222" stroke-width="1.0" />
<text x="549.80" y="366.58" font-size="7.05" text-anchor="end" fill="#1a1a1a" >Neu1</text>
<line x1="551.20" y1="369.74" x2="553.40" y2="369.74" stroke="#222" stroke-width="1.0" />
<text x="549.80" y="372.04" font-size="7.05" text-anchor="end" fill="#1a1a1a" >Arsa</text>
<line x1="551.20" y1="375.19" x2="553.40" y2="375.19" stroke="#222" stroke-width="1.0" />
<text x="549.80" y="377.49" font-size="7.05" text-anchor="end" fill="#1a1a1a" >Cln5</text>
<line x1="551.20" y1="380.65" x2="553.40" y2="380.65" stroke="#222" stroke-width="1.0" />
<text x="549.80" y="382.95" font-size="7.05" text-anchor="end" fill="#1a1a1a" >Igf2r</text>
<line x1="551.20" y1="386.11" x2="553.40" y2="386.11" stroke="#222" stroke-width="1.0" />
<text x="549.80" y="388.41" font-size="7.05" text-anchor="end" fill="#1a1a1a" >Slc11a1</text>
<line x1="551.20" y1="391.56" x2="553.40" y2="391.56" stroke="#222" stroke-width="1.0" />
<text x="549.80" y="393.86" font-size="7.05" text-anchor="end" fill="#1a1a1a" >Naglu</text>
<line x1="551.20" y1="397.02" x2="553.40" y2="397.02" stroke="#222" stroke-width="1.0" />
<text x="549.80" y="399.32" font-size="7.05" text-anchor="end" fill="#1a1a1a" >Ctsz</text>
<line x1="551.20" y1="402.48" x2="553.40" y2="402.48" stroke="#222" stroke-width="1.0" />
<text x="549.80" y="404.78" font-size="7.05" text-anchor="end" fill="#1a1a1a" >Mcoln1</text>
<line x1="551.20" y1="407.93" x2="553.40" y2="407.93" stroke="#222" stroke-width="1.0" />
<text x="549.80" y="410.23" font-size="7.05" text-anchor="end" fill="#1a1a1a" >Cln3</text>
<line x1="551.20" y1="413.39" x2="553.40" y2="413.39" stroke="#222" stroke-width="1.0" />
<text x="549.80" y="415.69" font-size="7.05" text-anchor="end" fill="#1a1a1a" >Ap1m2</text>
<line x1="551.20" y1="418.85" x2="553.40" y2="418.85" stroke="#222" stroke-width="1.0" />
<text x="549.80" y="421.15" font-size="7.05" text-anchor="end" fill="#1a1a1a" >Ctsb</text>
<line x1="551.20" y1="424.30" x2="553.40" y2="424.30" stroke="#222" stroke-width="1.0" />
<text x="549.80" y="426.60" font-size="7.05" text-anchor="end" fill="#1a1a1a" >Gga2</text>
<line x1="551.20" y1="429.76" x2="553.40" y2="429.76" stroke="#222" stroke-width="1.0" />
<text x="549.80" y="432.06" font-size="7.05" text-anchor="end" fill="#1a1a1a" >Ctns</text>
<line x1="551.20" y1="435.22" x2="553.40" y2="435.22" stroke="#222" stroke-width="1.0" />
<text x="549.80" y="437.52" font-size="7.05" text-anchor="end" fill="#1a1a1a" >Gns</text>
<line x1="551.20" y1="440.67" x2="553.40" y2="440.67" stroke="#222" stroke-width="1.0" />
<text x="549.80" y="442.97" font-size="7.05" text-anchor="end" fill="#1a1a1a" >Tcirg1</text>
<line x1="551.20" y1="446.13" x2="553.40" y2="446.13" stroke="#222" stroke-width="1.0" />
<text x="549.80" y="448.43" font-size="7.05" text-anchor="end" fill="#1a1a1a" >Npc2</text>
<line x1="551.20" y1="451.59" x2="553.40" y2="451.59" stroke="#222" stroke-width="1.0" />
<text x="549.80" y="453.89" font-size="7.05" text-anchor="end" fill="#1a1a1a" >Laptm4b</text>
<line x1="551.20" y1="457.04" x2="553.40" y2="457.04" stroke="#222" stroke-width="1.0" />
<text x="549.80" y="459.34" font-size="7.05" text-anchor="end" fill="#1a1a1a" >Ctsf</text>
<line x1="551.20" y1="462.50" x2="553.40" y2="462.50" stroke="#222" stroke-width="1.0" />
<text x="549.80" y="464.80" font-size="7.05" text-anchor="end" fill="#1a1a1a" >Galc</text>
<line x1="551.20" y1="467.96" x2="553.40" y2="467.96" stroke="#222" stroke-width="1.0" />
<text x="549.80" y="470.26" font-size="7.05" text-anchor="end" fill="#1a1a1a" >Aga</text>
<line x1="551.20" y1="473.41" x2="553.40" y2="473.41" stroke="#222" stroke-width="1.0" />
<text x="549.80" y="475.71" font-size="7.05" text-anchor="end" fill="#1a1a1a" >Ctsl</text>
<line x1="551.20" y1="478.87" x2="553.40" y2="478.87" stroke="#222" stroke-width="1.0" />
<text x="549.80" y="481.17" font-size="7.05" text-anchor="end" fill="#1a1a1a" >Ap1b1</text>
<line x1="551.20" y1="484.33" x2="553.40" y2="484.33" stroke="#222" stroke-width="1.0" />
<text x="549.80" y="486.63" font-size="7.05" text-anchor="end" fill="#1a1a1a" >Gba</text>
<line x1="551.20" y1="489.78" x2="553.40" y2="489.78" stroke="#222" stroke-width="1.0" />
<text x="549.80" y="492.08" font-size="7.05" text-anchor="end" fill="#1a1a1a" >Sumf1</text>
<line x1="551.20" y1="495.24" x2="553.40" y2="495.24" stroke="#222" stroke-width="1.0" />
<text x="549.80" y="497.54" font-size="7.05" text-anchor="end" fill="#1a1a1a" >Gla</text>
<line x1="551.20" y1="500.70" x2="553.40" y2="500.70" stroke="#222" stroke-width="1.0" />
<text x="549.80" y="503.00" font-size="7.05" text-anchor="end" fill="#1a1a1a" >Ctsa</text>
<line x1="551.20" y1="506.15" x2="553.40" y2="506.15" stroke="#222" stroke-width="1.0" />
<text x="549.80" y="508.45" font-size="7.05" text-anchor="end" fill="#1a1a1a" >Ctsk</text>
<line x1="551.20" y1="511.61" x2="553.40" y2="511.61" stroke="#222" stroke-width="1.0" />
<text x="549.80" y="513.91" font-size="7.05" text-anchor="end" fill="#1a1a1a" >Gnptab</text>
<line x1="551.20" y1="517.07" x2="553.40" y2="517.07" stroke="#222" stroke-width="1.0" />
<text x="549.80" y="519.37" font-size="7.05" text-anchor="end" fill="#1a1a1a" >Naga</text>
<line x1="551.20" y1="522.52" x2="553.40" y2="522.52" stroke="#222" stroke-width="1.0" />
<text x="549.80" y="524.82" font-size="7.05" text-anchor="end" fill="#1a1a1a" >Tpp1</text>
<line x1="551.20" y1="527.98" x2="553.40" y2="527.98" stroke="#222" stroke-width="1.0" />
<text x="549.80" y="530.28" font-size="7.05" text-anchor="end" fill="#1a1a1a" >Entpd4</text>
<line x1="551.20" y1="533.43" x2="553.40" y2="533.43" stroke="#222" stroke-width="1.0" />
<text x="549.80" y="535.73" font-size="7.05" text-anchor="end" fill="#1a1a1a" >Npc1</text>
<line x1="551.20" y1="538.89" x2="553.40" y2="538.89" stroke="#222" stroke-width="1.0" />
<text x="549.80" y="541.19" font-size="7.05" text-anchor="end" fill="#1a1a1a" >Gaa</text>
<line x1="551.20" y1="544.35" x2="553.40" y2="544.35" stroke="#222" stroke-width="1.0" />
<text x="549.80" y="546.65" font-size="7.05" text-anchor="end" fill="#1a1a1a" >Sgsh</text>
<line x1="551.20" y1="549.80" x2="553.40" y2="549.80" stroke="#222" stroke-width="1.0" />
<text x="549.80" y="552.10" font-size="7.05" text-anchor="end" fill="#1a1a1a" >Idua</text>
<line x1="551.20" y1="555.26" x2="553.40" y2="555.26" stroke="#222" stroke-width="1.0" />
<text x="549.80" y="557.56" font-size="7.05" text-anchor="end" fill="#1a1a1a" >Ap4m1</text>
<line x1="551.20" y1="560.72" x2="553.40" y2="560.72" stroke="#222" stroke-width="1.0" />
<text x="549.80" y="563.02" font-size="7.05" text-anchor="end" fill="#1a1a1a" >Psap</text>
<line x1="551.20" y1="566.17" x2="553.40" y2="566.17" stroke="#222" stroke-width="1.0" />
<text x="549.80" y="568.47" font-size="7.05" text-anchor="end" fill="#1a1a1a" >Cd164</text>
<line x1="551.20" y1="571.63" x2="553.40" y2="571.63" stroke="#222" stroke-width="1.0" />
<text x="549.80" y="573.93" font-size="7.05" text-anchor="end" fill="#1a1a1a" >Fuca1</text>
<line x1="551.20" y1="577.09" x2="553.40" y2="577.09" stroke="#222" stroke-width="1.0" />
<text x="549.80" y="579.39" font-size="7.05" text-anchor="end" fill="#1a1a1a" >Slc17a5</text>
<line x1="551.20" y1="582.54" x2="553.40" y2="582.54" stroke="#222" stroke-width="1.0" />
<text x="549.80" y="584.84" font-size="7.05" text-anchor="end" fill="#1a1a1a" >Atp6v0d1</text>
<line x1="551.20" y1="588.00" x2="553.40" y2="588.00" stroke="#222" stroke-width="1.0" />
<text x="549.80" y="590.30" font-size="7.05" text-anchor="end" fill="#1a1a1a" >Abca2</text>
<line x1="551.20" y1="593.46" x2="553.40" y2="593.46" stroke="#222" stroke-width="1.0" />
<text x="549.80" y="595.76" font-size="7.05" text-anchor="end" fill="#1a1a1a" >Acp5</text>
<line x1="551.20" y1="598.91" x2="553.40" y2="598.91" stroke="#222" stroke-width="1.0" />
<text x="549.80" y="601.21" font-size="7.05" text-anchor="end" fill="#1a1a1a" >Pla2g15</text>
<line x1="551.20" y1="604.37" x2="553.40" y2="604.37" stroke="#222" stroke-width="1.0" />
<text x="549.80" y="606.67" font-size="7.05" text-anchor="end" fill="#1a1a1a" >Gusb</text>
<line x1="551.20" y1="609.83" x2="553.40" y2="609.83" stroke="#222" stroke-width="1.0" />
<text x="549.80" y="612.13" font-size="7.05" text-anchor="end" fill="#1a1a1a" >Hgsnat</text>
<line x1="551.20" y1="615.28" x2="553.40" y2="615.28" stroke="#222" stroke-width="1.0" />
<text x="549.80" y="617.58" font-size="7.05" text-anchor="end" fill="#1a1a1a" >Ctsh</text>
<line x1="551.20" y1="620.74" x2="553.40" y2="620.74" stroke="#222" stroke-width="1.0" />
<text x="549.80" y="623.04" font-size="7.05" text-anchor="end" fill="#1a1a1a" >Hexa</text>
<line x1="551.20" y1="626.20" x2="553.40" y2="626.20" stroke="#222" stroke-width="1.0" />
<text x="549.80" y="628.50" font-size="7.05" text-anchor="end" fill="#1a1a1a" >Nagpa</text>
<line x1="551.20" y1="631.65" x2="553.40" y2="631.65" stroke="#222" stroke-width="1.0" />
<text x="549.80" y="633.95" font-size="7.05" text-anchor="end" fill="#1a1a1a" >Lamp2</text>
<line x1="551.20" y1="637.11" x2="553.40" y2="637.11" stroke="#222" stroke-width="1.0" />
<text x="549.80" y="639.41" font-size="7.05" text-anchor="end" fill="#1a1a1a" >Galns</text>
<line x1="551.20" y1="642.57" x2="553.40" y2="642.57" stroke="#222" stroke-width="1.0" />
<text x="549.80" y="644.87" font-size="7.05" text-anchor="end" fill="#1a1a1a" >Asah1</text>
<line x1="551.20" y1="648.02" x2="553.40" y2="648.02" stroke="#222" stroke-width="1.0" />
<text x="549.80" y="650.32" font-size="7.05" text-anchor="end" fill="#1a1a1a" >Ctsc</text>
<line x1="551.20" y1="653.48" x2="553.40" y2="653.48" stroke="#222" stroke-width="1.0" />
<text x="549.80" y="655.78" font-size="7.05" text-anchor="end" fill="#1a1a1a" >Ctsd</text>
<line x1="551.20" y1="658.94" x2="553.40" y2="658.94" stroke="#222" stroke-width="1.0" />
<text x="549.80" y="661.24" font-size="7.05" text-anchor="end" fill="#1a1a1a" >Atp6v0b</text>
<line x1="551.20" y1="664.39" x2="553.40" y2="664.39" stroke="#222" stroke-width="1.0" />
<text x="549.80" y="666.69" font-size="7.05" text-anchor="end" fill="#1a1a1a" >Lgmn</text>
<line x1="551.20" y1="669.85" x2="553.40" y2="669.85" stroke="#222" stroke-width="1.0" />
<text x="549.80" y="672.15" font-size="7.05" text-anchor="end" fill="#1a1a1a" >Glb1</text>
<line x1="551.20" y1="675.31" x2="553.40" y2="675.31" stroke="#222" stroke-width="1.0" />
<text x="549.80" y="677.61" font-size="7.05" text-anchor="end" fill="#1a1a1a" >Ap1m1</text>
<line x1="551.20" y1="680.76" x2="553.40" y2="680.76" stroke="#222" stroke-width="1.0" />
<text x="549.80" y="683.06" font-size="7.05" text-anchor="end" fill="#1a1a1a" >Lamp1</text>
<line x1="551.20" y1="686.22" x2="553.40" y2="686.22" stroke="#222" stroke-width="1.0" />
<text x="549.80" y="688.52" font-size="7.05" text-anchor="end" fill="#1a1a1a" >Man2b1</text>
<line x1="551.20" y1="691.68" x2="553.40" y2="691.68" stroke="#222" stroke-width="1.0" />
<text x="549.80" y="693.98" font-size="7.05" text-anchor="end" fill="#1a1a1a" >Ctsw</text>
<line x1="551.20" y1="697.13" x2="553.40" y2="697.13" stroke="#222" stroke-width="1.0" />
<text x="549.80" y="699.43" font-size="7.05" text-anchor="end" fill="#1a1a1a" >Hexb</text>
<line x1="551.20" y1="702.59" x2="553.40" y2="702.59" stroke="#222" stroke-width="1.0" />
<text x="549.80" y="704.89" font-size="7.05" text-anchor="end" fill="#1a1a1a" >Ppt1</text>
<line x1="551.20" y1="708.05" x2="553.40" y2="708.05" stroke="#222" stroke-width="1.0" />
<text x="549.80" y="710.35" font-size="7.05" text-anchor="end" fill="#1a1a1a" >Laptm5</text>
<line x1="551.20" y1="713.50" x2="553.40" y2="713.50" stroke="#222" stroke-width="1.0" />
<text x="549.80" y="715.80" font-size="7.05" text-anchor="end" fill="#1a1a1a" >Cltb</text>
<line x1="551.20" y1="718.96" x2="553.40" y2="718.96" stroke="#222" stroke-width="1.0" />
<text x="549.80" y="721.26" font-size="7.05" text-anchor="end" fill="#1a1a1a" >Ctss</text>
<line x1="551.20" y1="724.42" x2="553.40" y2="724.42" stroke="#222" stroke-width="1.0" />
<text x="549.80" y="726.72" font-size="7.05" text-anchor="end" fill="#1a1a1a" >Atp6v0a2</text>
<line x1="551.20" y1="729.87" x2="553.40" y2="729.87" stroke="#222" stroke-width="1.0" />
<text x="549.80" y="732.17" font-size="7.05" text-anchor="end" fill="#1a1a1a" >Arsb</text>
<line x1="558.00" y1="733.30" x2="558.00" y2="734.90" stroke="#333" stroke-width="0.5" />
<text transform="translate(560.50,735.90) rotate(-90)" font-size="7.25" text-anchor="end" fill="#1a1a1a">TauCvwtC</text>
<line x1="565.80" y1="733.30" x2="565.80" y2="734.90" stroke="#333" stroke-width="0.5" />
<text transform="translate(568.30,735.90) rotate(-90)" font-size="7.25" text-anchor="end" fill="#1a1a1a">TauARvTauD</text>
<line x1="573.60" y1="733.30" x2="573.60" y2="734.90" stroke="#333" stroke-width="0.5" />
<text transform="translate(576.10,735.90) rotate(-90)" font-size="7.25" text-anchor="end" fill="#1a1a1a">wtARvwtD</text>
<text x="583.90" y="414.60" font-size="9.2" text-anchor="start" fill="#1a1a1a" >logFC</text>
<defs><linearGradient id="dleg" x1="0" y1="0" x2="0" y2="1"><stop offset="0.000" stop-color="#df2c0c"/><stop offset="0.103" stop-color="#e9491f"/><stop offset="0.365" stop-color="#fca47f"/><stop offset="0.633" stop-color="#ffffff"/><stop offset="1.000" stop-color="#a68bd9"/></linearGradient></defs>
<rect x="583.90" y="419.90" width="13.80" height="66.00" fill="url(#dleg)" stroke="none" stroke-width="0" />
<line x1="583.90" y1="426.70" x2="585.90" y2="426.70" stroke="#ffffff" stroke-width="0.5" />
<line x1="595.70" y1="426.70" x2="597.70" y2="426.70" stroke="#ffffff" stroke-width="0.5" />
<text x="601.70" y="429.80" font-size="8.9" text-anchor="start" fill="#1a1a1a" >1.0</text>
<line x1="583.90" y1="444.00" x2="585.90" y2="444.00" stroke="#ffffff" stroke-width="0.5" />
<line x1="595.70" y1="444.00" x2="597.70" y2="444.00" stroke="#ffffff" stroke-width="0.5" />
<text x="601.70" y="447.10" font-size="8.9" text-anchor="start" fill="#1a1a1a" >0.5</text>
<line x1="583.90" y1="461.70" x2="585.90" y2="461.70" stroke="#ffffff" stroke-width="0.5" />
<line x1="595.70" y1="461.70" x2="597.70" y2="461.70" stroke="#ffffff" stroke-width="0.5" />
<text x="601.70" y="464.80" font-size="8.9" text-anchor="start" fill="#1a1a1a" >0.0</text>
<line x1="583.90" y1="479.00" x2="585.90" y2="479.00" stroke="#ffffff" stroke-width="0.5" />
<line x1="595.70" y1="479.00" x2="597.70" y2="479.00" stroke="#ffffff" stroke-width="0.5" />
<text x="601.70" y="482.10" font-size="8.9" text-anchor="start" fill="#1a1a1a" >0.5</text>
<defs>
<filter id="blur1" x="-20%" y="-20%" width="140%" height="140%"><feGaussianBlur stdDeviation="1.0"/></filter>
<filter id="blur2" x="-30%" y="-30%" width="160%" height="160%"><feGaussianBlur stdDeviation="2.2"/></filter>
<filter id="blur3" x="-30%" y="-30%" width="160%" height="160%"><feGaussianBlur stdDeviation="3.5"/></filter>
<filter id="blurh" x="-20%" y="-20%" width="140%" height="140%"><feGaussianBlur stdDeviation="0.45"/></filter>
<filter id="speck" x="-10%" y="-10%" width="120%" height="120%"><feTurbulence type="fractalNoise" baseFrequency="0.8" numOctaves="2" seed="4" result="n"/><feColorMatrix in="n" type="matrix" values="0 0 0 0 1 0 0 0 0 1 0 0 0 0 1 0 0 0 2.2 -0.45" result="a"/><feComposite in="SourceGraphic" in2="a" operator="in" result="c"/><feGaussianBlur in="c" stdDeviation="0.35"/></filter>
</defs>
<text x="-0.50" y="629.30" font-size="15.6" text-anchor="start" font-weight="bold" fill="#111" >E)</text>
<text x="1.00" y="752.00" font-size="15.6" text-anchor="start" font-weight="bold" fill="#111" >F)</text>
<clipPath id="clip1"><rect x="0" y="0" width="103.6" height="103.6"/></clipPath>
<g transform="translate(22.2,617.2)"><g clip-path="url(#clip1)">
<rect x="0" y="0" width="103.6" height="103.6" fill="#0b0b0b"/>
<ellipse cx="6" cy="12" rx="8" ry="8" fill="#1c1c1c" filter="url(#blur3)" opacity="1.0"/>
<g filter="url(#speck)">
<path d="M16.0,25.0 L26.0,12.0 L38.0,-1.0" fill="none" stroke="#8a8a8a" stroke-width="4.0" stroke-linecap="round" stroke-linejoin="round" filter="url(#blur1)" opacity="1.0"/>
<ellipse cx="10.6" cy="28.9" rx="9.2" ry="7.8" fill="#a8a8a8" filter="url(#blur1)" opacity="1.0"/>
<ellipse cx="3" cy="69.5" rx="7" ry="10.5" fill="#909090" filter="url(#blur1)" opacity="1.0"/>
<path d="M19.7,26.6 L30.4,28.8 L42.5,34.9 L51.6,41.0 L63.8,45.5 L78.9,50.1 L91.1,53.1 L104.0,56.2" fill="none" stroke="#7a7a7a" stroke-width="1.8" stroke-linecap="round" stroke-linejoin="round" filter="url(#blurh)" opacity="1.0"/>
<path d="M21.3,29.6 L25.8,45.5 L30.4,60.7 L36.4,75.9 L44.0,91.1 L50.1,104.0" fill="none" stroke="#5a5a5a" stroke-width="1.5" stroke-linecap="round" stroke-linejoin="round" filter="url(#blurh)" opacity="1.0"/>
<path d="M92.6,-1.0 L89.6,22.8 L85.0,45.5 L85.0,68.3 L86.5,104.0" fill="none" stroke="#707070" stroke-width="1.8" stroke-linecap="round" stroke-linejoin="round" filter="url(#blurh)" opacity="1.0"/>
<path d="M97.0,-1.0 L95.0,25.0 L97.0,50.0" fill="none" stroke="#4a4a4a" stroke-width="1.3" stroke-linecap="round" stroke-linejoin="round" filter="url(#blurh)" opacity="1.0"/>
<path d="M0.0,35.0 L9.0,42.0 L20.0,50.0 L38.0,55.0" fill="none" stroke="#404040" stroke-width="1.3" stroke-linecap="round" stroke-linejoin="round" filter="url(#blurh)" opacity="1.0"/>
<path d="M45.0,45.0 L50.0,64.0 L61.0,79.0 L76.0,97.0" fill="none" stroke="#404040" stroke-width="1.3" stroke-linecap="round" stroke-linejoin="round" filter="url(#blurh)" opacity="1.0"/>
<path d="M8.0,86.0 L30.0,82.0 L55.0,88.0 L80.0,92.0 L104.0,96.0" fill="none" stroke="#363636" stroke-width="1.2" stroke-linecap="round" stroke-linejoin="round" filter="url(#blurh)" opacity="1.0"/>
</g>
<ellipse cx="10.6" cy="28.9" rx="7" ry="6" fill="#6a6a6a" filter="url(#blur1)" opacity="1.0"/>
<circle cx="32.3" cy="32.2" r="0.9" fill="#e02a1a"/>
</g>
<text x="3.40" y="10.00" font-size="8.6" text-anchor="start" fill="#ffffff" >Tau</text>
<text x="3.40" y="21.30" font-size="8.6" text-anchor="start" fill="#ffffff" >DMSO</text>
<text x="100.80" y="10.00" font-size="8.6" text-anchor="end" fill="#e0281c" >LC3b</text>
<text x="101.80" y="23.10" font-size="10.6" text-anchor="end" fill="#c8c8c8" >MAP2</text>
<line x1="43.30" y1="25.00" x2="38.17" y2="28.19" stroke="#ffffff" stroke-width="1.3"/>
<polygon points="34.60,30.40 36.69,25.81 39.65,30.56" fill="#ffffff"/>
<line x1="89.30" y1="100.40" x2="101.40" y2="100.40" stroke="#cfcfcf" stroke-width="1"/>
</g>
<clipPath id="clip2"><rect x="0" y="0" width="103.4" height="103.6"/></clipPath>
<g transform="translate(130.8,617.2)"><g clip-path="url(#clip2)">
<rect x="0" y="0" width="103.4" height="103.6" fill="#0b0b0b"/>
<path d="M4.0,16.0 L20.0,32.0 L45.4,60.0 L66.0,84.0 L82.0,104.0" fill="none" stroke="#383838" stroke-width="12" stroke-linecap="round" stroke-linejoin="round" filter="url(#blur3)" opacity="1.0"/>
<ellipse cx="26" cy="55" rx="8" ry="7" fill="#585858" filter="url(#blur2)" opacity="1.0"/>
<ellipse cx="60" cy="83" rx="7" ry="6" fill="#454545" filter="url(#blur2)" opacity="1.0"/>
<g filter="url(#speck)">
<path d="M8.0,24.0 L18.0,36.0 L30.0,50.0 L46.0,64.0 L64.0,85.0 L77.0,104.0" fill="none" stroke="#8a8a8a" stroke-width="4.5" stroke-linecap="round" stroke-linejoin="round" filter="url(#blur1)" opacity="1.0"/>
<path d="M4.0,44.0 L16.0,58.0 L26.0,70.0 L38.0,82.0 L50.0,94.0" fill="none" stroke="#5a5a5a" stroke-width="3" stroke-linecap="round" stroke-linejoin="round" filter="url(#blur1)" opacity="1.0"/>
<path d="M6.0,18.0 L10.0,28.0" fill="none" stroke="#9a9a9a" stroke-width="4" stroke-linecap="round" stroke-linejoin="round" filter="url(#blur1)" opacity="1.0"/>
<path d="M51.0,-1.0 L52.0,30.0 L53.0,60.0 L54.0,80.0" fill="none" stroke="#444" stroke-width="1.3" stroke-linecap="round" stroke-linejoin="round" filter="url(#blurh)" opacity="1.0"/>
<path d="M64.0,-1.0 L65.0,25.0 L66.0,46.0" fill="none" stroke="#3c3c3c" stroke-width="1.3" stroke-linecap="round" stroke-linejoin="round" filter="url(#blurh)" opacity="1.0"/>
<path d="M30.0,8.0 L55.0,28.0 L75.0,38.0 L104.0,44.0" fill="none" stroke="#3c3c3c" stroke-width="1.3" stroke-linecap="round" stroke-linejoin="round" filter="url(#blurh)" opacity="1.0"/>
</g>
<ellipse cx="58.2" cy="41.2" rx="5.0" ry="4.6" fill="#5a5a5a" filter="url(#blur1)" opacity="1.0"/>
<ellipse cx="44.4" cy="96.5" rx="4.6" ry="4.2" fill="#7e7e7e" filter="url(#blur1)" opacity="1.0"/>
<circle cx="51.8" cy="4.2" r="0.9" fill="#e02a1a"/><circle cx="51.0" cy="18.7" r="0.9" fill="#e02a1a"/><circle cx="50.2" cy="27.5" r="0.9" fill="#e02a1a"/><circle cx="52.6" cy="34.7" r="0.9" fill="#e02a1a"/><circle cx="63.0" cy="27.5" r="0.9" fill="#e02a1a"/><circle cx="66.3" cy="28.3" r="0.9" fill="#e02a1a"/><circle cx="48.6" cy="32.3" r="0.9" fill="#e02a1a"/><circle cx="52.6" cy="46.0" r="0.9" fill="#e02a1a"/><circle cx="41.4" cy="53.2" r="0.9" fill="#e02a1a"/><circle cx="63.8" cy="49.2" r="0.9" fill="#e02a1a"/><circle cx="18.1" cy="59.6" r="0.9" fill="#e02a1a"/><circle cx="14.9" cy="68.5" r="0.9" fill="#e02a1a"/><circle cx="6.8" cy="83.7" r="0.9" fill="#e02a1a"/><circle cx="10.9" cy="89.3" r="0.9" fill="#e02a1a"/><circle cx="47.0" cy="71.7" r="0.9" fill="#e02a1a"/><circle cx="53.4" cy="78.1" r="0.9" fill="#e02a1a"/><circle cx="62.2" cy="93.4" r="0.9" fill="#e02a1a"/><circle cx="69.5" cy="97.4" r="0.9" fill="#e02a1a"/><circle cx="77.5" cy="92.5" r="0.9" fill="#e02a1a"/><circle cx="85.5" cy="100.6" r="0.9" fill="#e02a1a"/><circle cx="100.0" cy="99.0" r="0.9" fill="#e02a1a"/><circle cx="29.3" cy="79.7" r="0.9" fill="#e02a1a"/><circle cx="21.3" cy="20.3" r="0.9" fill="#e02a1a"/><circle cx="22.9" cy="23.5" r="0.9" fill="#e02a1a"/><circle cx="9.2" cy="31.5" r="0.9" fill="#e02a1a"/><circle cx="12.5" cy="30.7" r="0.9" fill="#e02a1a"/><circle cx="16.5" cy="29.9" r="0.9" fill="#e02a1a"/><circle cx="91.9" cy="56.4" r="0.9" fill="#e02a1a"/><circle cx="64.6" cy="42.8" r="0.9" fill="#e02a1a"/><circle cx="45.4" cy="61.2" r="0.9" fill="#e02a1a"/><circle cx="58.2" cy="68.5" r="0.9" fill="#e02a1a"/><circle cx="10.0" cy="90.1" r="0.9" fill="#e02a1a"/><circle cx="12.5" cy="89.0" r="0.9" fill="#e02a1a"/><circle cx="38.2" cy="17.1" r="0.9" fill="#e02a1a"/><circle cx="72.7" cy="41.2" r="0.9" fill="#e02a1a"/><circle cx="87.1" cy="71.7" r="0.9" fill="#e02a1a"/>
<circle cx="13.0" cy="31.0" r="1.3" fill="#e02a1a"/><circle cx="16.0" cy="30.5" r="1.3" fill="#e02a1a"/><circle cx="18.5" cy="31.5" r="1.3" fill="#e02a1a"/>
</g>
<text x="3.40" y="10.00" font-size="8.6" text-anchor="start" fill="#ffffff" >Tau</text>
<text x="3.40" y="21.30" font-size="8.6" text-anchor="start" fill="#ffffff" >AR</text>
<text x="100.60" y="10.00" font-size="8.6" text-anchor="end" fill="#e0281c" >LC3b</text>
<text x="101.60" y="23.10" font-size="10.6" text-anchor="end" fill="#c8c8c8" >MAP2</text>
<line x1="19.60" y1="26.60" x2="16.28" y2="28.85" stroke="#ffffff" stroke-width="1.3"/>
<polygon points="12.80,31.20 14.71,26.53 17.85,31.17" fill="#ffffff"/>
<line x1="27.60" y1="26.40" x2="24.23" y2="28.78" stroke="#ffffff" stroke-width="1.3"/>
<polygon points="20.80,31.20 22.62,26.49 25.85,31.07" fill="#ffffff"/>
<line x1="89.10" y1="100.40" x2="101.20" y2="100.40" stroke="#cfcfcf" stroke-width="1"/>
</g>
<clipPath id="clip3"><rect x="0" y="0" width="103.7" height="103.3"/></clipPath>
<g transform="translate(236.7,617.5)"><g clip-path="url(#clip3)">
<rect x="0" y="0" width="103.7" height="103.3" fill="#0b0b0b"/>
<path d="M0.0,28.0 L20.0,31.0 L50.0,36.0 L75.0,41.0 L104.0,46.0" fill="none" stroke="#3a3a3a" stroke-width="9" stroke-linecap="round" stroke-linejoin="round" filter="url(#blur3)" opacity="1.0"/>
<g filter="url(#speck)">
<path d="M14.0,33.0 L30.0,34.0 L50.0,36.0 L75.0,41.0 L104.0,46.0" fill="none" stroke="#8a8a8a" stroke-width="3.8" stroke-linecap="round" stroke-linejoin="round" filter="url(#blur1)" opacity="1.0"/>
<path d="M52.9,39.3 L58.0,58.0 L62.5,77.8 L67.4,104.0" fill="none" stroke="#7a7a7a" stroke-width="1.8" stroke-linecap="round" stroke-linejoin="round" filter="url(#blurh)" opacity="1.0"/>
<path d="M46.5,42.5 L25.0,55.0 L6.3,69.8 L0.0,75.0" fill="none" stroke="#6a6a6a" stroke-width="1.6" stroke-linecap="round" stroke-linejoin="round" filter="url(#blurh)" opacity="1.0"/>
<path d="M59.3,45.7 L80.0,58.0 L104.0,73.0" fill="none" stroke="#6a6a6a" stroke-width="1.8" stroke-linecap="round" stroke-linejoin="round" filter="url(#blurh)" opacity="1.0"/>
<path d="M30.0,0.0 L40.0,15.0 L46.0,30.0" fill="none" stroke="#4a4a4a" stroke-width="1.4" stroke-linecap="round" stroke-linejoin="round" filter="url(#blurh)" opacity="1.0"/>
<path d="M66.0,2.0 L58.0,20.0 L52.0,30.0" fill="none" stroke="#4a4a4a" stroke-width="1.4" stroke-linecap="round" stroke-linejoin="round" filter="url(#blurh)" opacity="1.0"/>
<path d="M40.0,50.0 L30.0,80.0 L22.0,104.0" fill="none" stroke="#4a4a4a" stroke-width="1.4" stroke-linecap="round" stroke-linejoin="round" filter="url(#blurh)" opacity="1.0"/>
<path d="M75.0,58.0 L85.0,80.0 L95.0,104.0" fill="none" stroke="#4a4a4a" stroke-width="1.4" stroke-linecap="round" stroke-linejoin="round" filter="url(#blurh)" opacity="1.0"/>
<path d="M20.0,28.0 L30.0,26.0 L45.0,30.0" fill="none" stroke="#5a5a5a" stroke-width="1.6" stroke-linecap="round" stroke-linejoin="round" filter="url(#blurh)" opacity="1.0"/>
</g>
<ellipse cx="13.6" cy="33.6" rx="8.8" ry="8.3" fill="#9c9c9c" filter="url(#blur1)" opacity="1.0"/>
<ellipse cx="52.9" cy="35.2" rx="6.8" ry="5.6" fill="#8a8a8a" filter="url(#blur1)" opacity="1.0"/>
<circle cx="28.0" cy="27.2" r="0.85" fill="#e02a1a"/><circle cx="30.4" cy="40.1" r="0.85" fill="#e02a1a"/><circle cx="46.5" cy="32.8" r="0.85" fill="#e02a1a"/><circle cx="64.1" cy="16.8" r="0.85" fill="#e02a1a"/><circle cx="65.7" cy="13.6" r="0.85" fill="#e02a1a"/><circle cx="62.5" cy="37.6" r="0.85" fill="#e02a1a"/><circle cx="73.8" cy="38.5" r="0.85" fill="#e02a1a"/><circle cx="86.6" cy="40.1" r="0.85" fill="#e02a1a"/><circle cx="41.7" cy="58.5" r="0.85" fill="#e02a1a"/><circle cx="81.8" cy="58.5" r="0.85" fill="#e02a1a"/><circle cx="78.6" cy="64.9" r="0.85" fill="#e02a1a"/><circle cx="59.3" cy="73.0" r="0.85" fill="#e02a1a"/><circle cx="64.1" cy="82.6" r="0.85" fill="#e02a1a"/><circle cx="46.5" cy="81.0" r="0.85" fill="#e02a1a"/><circle cx="0.7" cy="73.0" r="0.85" fill="#e02a1a"/><circle cx="4.7" cy="70.6" r="0.85" fill="#e02a1a"/><circle cx="22.4" cy="93.9" r="0.85" fill="#e02a1a"/><circle cx="43.3" cy="87.4" r="0.85" fill="#e02a1a"/><circle cx="101.1" cy="100.3" r="0.85" fill="#e02a1a"/><circle cx="97.9" cy="69.8" r="0.85" fill="#e02a1a"/><circle cx="51.3" cy="21.6" r="0.85" fill="#e02a1a"/><circle cx="27.2" cy="8.7" r="0.85" fill="#e02a1a"/><circle cx="65.7" cy="26.4" r="0.85" fill="#e02a1a"/><circle cx="12.8" cy="45.7" r="0.85" fill="#e02a1a"/><circle cx="7.9" cy="64.9" r="0.85" fill="#e02a1a"/><circle cx="35.2" cy="45.7" r="0.85" fill="#e02a1a"/><circle cx="94.7" cy="50.5" r="0.85" fill="#e02a1a"/>
</g>
<text x="3.40" y="10.00" font-size="8.6" text-anchor="start" fill="#ffffff" >Tau</text>
<text x="3.40" y="21.30" font-size="8.6" text-anchor="start" fill="#ffffff" >AR+CC</text>
<text x="100.90" y="10.00" font-size="8.6" text-anchor="end" fill="#e0281c" >LC3b</text>
<text x="101.90" y="23.10" font-size="10.6" text-anchor="end" fill="#c8c8c8" >MAP2</text>
<line x1="69.80" y1="26.10" x2="65.25" y2="28.96" stroke="#ffffff" stroke-width="1.3"/>
<polygon points="61.70,31.20 63.76,26.59 66.75,31.33" fill="#ffffff"/>
<line x1="89.40" y1="100.10" x2="101.50" y2="100.10" stroke="#cfcfcf" stroke-width="1"/>
</g>
<clipPath id="clip4"><rect x="0" y="0" width="103.4" height="102.7"/></clipPath>
<g transform="translate(22.2,737.0)"><g clip-path="url(#clip4)">
<rect x="0" y="0" width="103.4" height="102.7" fill="#0b0b0b"/>
<path d="M37.1,0.2 L39.6,29.1 L33.1,40.4 L21.9,46.8 L7.4,53.2 L0.0,58.0" fill="none" stroke="#6a6a6a" stroke-width="1.0" stroke-linecap="round" stroke-linejoin="round" filter="url(#blurh)" opacity="1.0"/>
<path d="M49.2,3.4 L55.0,18.0 L62.0,35.5" fill="none" stroke="#5a5a5a" stroke-width="0.9" stroke-linecap="round" stroke-linejoin="round" filter="url(#blurh)" opacity="1.0"/>
<path d="M63.0,36.0 L72.0,24.0 L78.0,12.0" fill="none" stroke="#555" stroke-width="0.9" stroke-linecap="round" stroke-linejoin="round" filter="url(#blurh)" opacity="1.0"/>
<path d="M66.9,45.2 L80.0,55.0 L91.0,66.0 L98.0,80.0" fill="none" stroke="#4a4a4a" stroke-width="0.9" stroke-linecap="round" stroke-linejoin="round" filter="url(#blurh)" opacity="1.0"/>
<path d="M46.0,48.4 L30.0,62.0 L17.1,74.1 L4.2,77.3" fill="none" stroke="#5a5a5a" stroke-width="0.9" stroke-linecap="round" stroke-linejoin="round" filter="url(#blurh)" opacity="1.0"/>
<path d="M29.9,42.0 L40.0,46.0 L50.8,50.0" fill="none" stroke="#555" stroke-width="0.9" stroke-linecap="round" stroke-linejoin="round" filter="url(#blurh)" opacity="1.0"/>
<path d="M64.0,46.0 L78.0,44.0 L95.0,50.0" fill="none" stroke="#4a4a4a" stroke-width="0.8" stroke-linecap="round" stroke-linejoin="round" filter="url(#blurh)" opacity="1.0"/>
<path d="M4.0,78.0 L12.0,90.0 L16.0,104.0" fill="none" stroke="#4a4a4a" stroke-width="0.9" stroke-linecap="round" stroke-linejoin="round" filter="url(#blurh)" opacity="1.0"/>
<path d="M20.0,62.0 L14.0,70.0 L2.0,66.0" fill="none" stroke="#3a3a3a" stroke-width="0.8" stroke-linecap="round" stroke-linejoin="round" filter="url(#blurh)" opacity="1.0"/>
<ellipse cx="52.4" cy="52.4" rx="6.6" ry="6.2" fill="#a8a8a8" filter="url(#blur1)" opacity="1.0"/>
<ellipse cx="63.6" cy="36.3" rx="4.6" ry="4.2" fill="#9a9a9a" filter="url(#blur1)" opacity="1.0"/>
<ellipse cx="44.4" cy="95.8" rx="5.2" ry="5" fill="#8a8a8a" filter="url(#blur1)" opacity="1.0"/>
<ellipse cx="1.8" cy="64.4" rx="5" ry="6" fill="#6a6a6a" filter="url(#blur1)" opacity="1.0"/>
<ellipse cx="9.0" cy="56.4" rx="3" ry="3" fill="#555" filter="url(#blur1)" opacity="1.0"/>
<ellipse cx="31.5" cy="91.7" rx="3.6" ry="3.6" fill="#4a4a4a" filter="url(#blur1)" opacity="1.0"/>
<circle cx="46.8" cy="80.5" r="2.8" fill="none" stroke="#6a6a6a" stroke-width="1.2" filter="url(#blurh)"/>
<path d="M47,47 A6.6,6.2 0 0 1 58.5,49.5" fill="none" stroke="#d8392a" stroke-width="1.1" filter="url(#blurh)"/>
<circle cx="47.0" cy="57.5" r="0.8" fill="#e02a1a"/><circle cx="61.0" cy="38.5" r="0.8" fill="#e02a1a"/><circle cx="3.5" cy="30.0" r="0.8" fill="#e02a1a"/>
</g>
<text x="3.40" y="10.80" font-size="9.1" text-anchor="start" fill="#ffffff" >Tau</text>
<text x="3.40" y="22.10" font-size="9.1" text-anchor="start" fill="#ffffff" >DMSO</text>
<text x="100.60" y="10.80" font-size="9.1" text-anchor="end" fill="#e0281c" >p62</text>
<text x="101.60" y="22.40" font-size="9.3" text-anchor="end" fill="#d4d4d4" >MAP2</text>
<line x1="57.20" y1="27.50" x2="59.32" y2="31.74" stroke="#ffffff" stroke-width="1.3"/>
<polygon points="61.20,35.50 56.82,33.00 61.83,30.49" fill="#ffffff"/>
<line x1="89.10" y1="99.50" x2="101.20" y2="99.50" stroke="#cfcfcf" stroke-width="1"/>
</g>
<clipPath id="clip5"><rect x="0" y="0" width="103.4" height="103.0"/></clipPath>
<g transform="translate(130.8,736.8)"><g clip-path="url(#clip5)">
<rect x="0" y="0" width="103.4" height="103.0" fill="#0b0b0b"/>
<path d="M53.4,55.0 L69.5,42.2 L87.1,29.3 L104.0,21.0" fill="none" stroke="#8a8a8a" stroke-width="0.9" stroke-linecap="round" stroke-linejoin="round" filter="url(#blurh)" opacity="1.0"/>
<path d="M55.0,52.0 L70.0,38.0 L86.0,26.0 L104.0,18.0" fill="none" stroke="#6a6a6a" stroke-width="0.7" stroke-linecap="round" stroke-linejoin="round" filter="url(#blurh)" opacity="1.0"/>
<path d="M50.2,58.2 L29.3,58.2 L10.0,63.0 L0.0,66.3" fill="none" stroke="#8a8a8a" stroke-width="0.9" stroke-linecap="round" stroke-linejoin="round" filter="url(#blurh)" opacity="1.0"/>
<path d="M53.4,61.4 L37.4,80.7 L21.3,104.0" fill="none" stroke="#7a7a7a" stroke-width="0.9" stroke-linecap="round" stroke-linejoin="round" filter="url(#blurh)" opacity="1.0"/>
<path d="M58.2,61.4 L69.5,67.9 L85.0,65.0 L104.0,57.0" fill="none" stroke="#8a8a8a" stroke-width="0.9" stroke-linecap="round" stroke-linejoin="round" filter="url(#blurh)" opacity="1.0"/>
<path d="M61.4,63.0 L64.0,80.0 L66.3,104.0" fill="none" stroke="#6a6a6a" stroke-width="0.8" stroke-linecap="round" stroke-linejoin="round" filter="url(#blurh)" opacity="1.0"/>
<path d="M58.2,64.6 L50.0,85.0 L45.4,104.0" fill="none" stroke="#6a6a6a" stroke-width="0.8" stroke-linecap="round" stroke-linejoin="round" filter="url(#blurh)" opacity="1.0"/>
<path d="M66.3,66.3 L78.0,80.0 L92.0,100.0" fill="none" stroke="#6a6a6a" stroke-width="0.8" stroke-linecap="round" stroke-linejoin="round" filter="url(#blurh)" opacity="1.0"/>
<path d="M48.0,52.0 L40.0,48.0 L35.0,42.0" fill="none" stroke="#4a4a4a" stroke-width="0.7" stroke-linecap="round" stroke-linejoin="round" filter="url(#blurh)" opacity="1.0"/>
<path d="M0.0,78.0 L15.0,72.0 L30.0,60.0" fill="none" stroke="#4a4a4a" stroke-width="0.7" stroke-linecap="round" stroke-linejoin="round" filter="url(#blurh)" opacity="1.0"/>
<ellipse cx="53.4" cy="55" rx="5.8" ry="5.6" fill="#a8a8a8" filter="url(#blur1)" opacity="1.0"/>
<ellipse cx="13" cy="28" rx="3" ry="3" fill="#333" filter="url(#blur1)" opacity="1.0"/>
<ellipse cx="90" cy="52" rx="2.5" ry="2.5" fill="#2a2a2a" filter="url(#blur1)" opacity="1.0"/>
<circle cx="58.0" cy="51.0" r="0.85" fill="#e02a1a"/><circle cx="57.0" cy="62.0" r="0.85" fill="#e02a1a"/><circle cx="55.5" cy="59.0" r="0.85" fill="#e02a1a"/><circle cx="59.0" cy="73.0" r="0.85" fill="#e02a1a"/><circle cx="8.0" cy="40.0" r="0.85" fill="#e02a1a"/><circle cx="40.0" cy="45.0" r="0.85" fill="#e02a1a"/><circle cx="20.0" cy="13.0" r="0.85" fill="#e02a1a"/><circle cx="60.0" cy="70.0" r="0.85" fill="#e02a1a"/>
</g>
<text x="3.40" y="10.80" font-size="9.1" text-anchor="start" fill="#ffffff" >Tau</text>
<text x="3.40" y="22.10" font-size="9.1" text-anchor="start" fill="#ffffff" >AR</text>
<text x="100.60" y="10.80" font-size="9.1" text-anchor="end" fill="#e0281c" >p62</text>
<text x="101.60" y="22.40" font-size="9.3" text-anchor="end" fill="#d4d4d4" >MAP2</text>
<line x1="70.30" y1="45.40" x2="65.81" y2="48.06" stroke="#ffffff" stroke-width="1.3"/>
<polygon points="62.20,50.20 64.39,45.65 67.24,50.47" fill="#ffffff"/>
<line x1="70.30" y1="55.80" x2="65.81" y2="58.46" stroke="#ffffff" stroke-width="1.3"/>
<polygon points="62.20,60.60 64.39,56.05 67.24,60.87" fill="#ffffff"/>
<line x1="89.10" y1="99.80" x2="101.20" y2="99.80" stroke="#cfcfcf" stroke-width="1"/>
</g>
<clipPath id="clip6"><rect x="0" y="0" width="103.4" height="103.0"/></clipPath>
<g transform="translate(237.0,736.8)"><g clip-path="url(#clip6)">
<rect x="0" y="0" width="103.4" height="103.0" fill="#0b0b0b"/>
<path d="M53.4,50.2 L59.0,21.3 L63.8,0.0" fill="none" stroke="#9a9a9a" stroke-width="1.0" stroke-linecap="round" stroke-linejoin="round" filter="url(#blurh)" opacity="1.0"/>
<path d="M51.0,53.4 L30.1,43.8 L4.4,34.1 L0.0,32.0" fill="none" stroke="#8a8a8a" stroke-width="0.9" stroke-linecap="round" stroke-linejoin="round" filter="url(#blurh)" opacity="1.0"/>
<path d="M55.8,59.8 L73.5,77.5 L91.1,100.0 L94.0,104.0" fill="none" stroke="#8a8a8a" stroke-width="1.0" stroke-linecap="round" stroke-linejoin="round" filter="url(#blurh)" opacity="1.0"/>
<path d="M75.1,79.1 L90.0,82.0 L104.0,85.5" fill="none" stroke="#6a6a6a" stroke-width="0.8" stroke-linecap="round" stroke-linejoin="round" filter="url(#blurh)" opacity="1.0"/>
<path d="M0.0,18.0 L15.0,12.0 L30.0,6.0" fill="none" stroke="#3a3a3a" stroke-width="0.8" stroke-linecap="round" stroke-linejoin="round" filter="url(#blurh)" opacity="1.0"/>
<path d="M14.0,104.0 L18.0,90.0" fill="none" stroke="#333" stroke-width="0.8" stroke-linecap="round" stroke-linejoin="round" filter="url(#blurh)" opacity="1.0"/>
<ellipse cx="52.6" cy="55" rx="4.9" ry="4.6" fill="#a0a0a0" filter="url(#blur1)" opacity="1.0"/>
</g>
<text x="3.40" y="10.80" font-size="9.1" text-anchor="start" fill="#ffffff" >Tau</text>
<text x="3.40" y="22.10" font-size="9.1" text-anchor="start" fill="#ffffff" >AR+CC</text>
<text x="100.60" y="10.80" font-size="9.1" text-anchor="end" fill="#e0281c" >p62</text>
<text x="101.60" y="22.40" font-size="9.3" text-anchor="end" fill="#d4d4d4" >MAP2</text>
<line x1="40.60" y1="61.40" x2="43.01" y2="59.33" stroke="#ffffff" stroke-width="1.3"/>
<polygon points="46.20,56.60 44.83,61.46 41.19,57.21" fill="#ffffff"/>
<line x1="89.10" y1="99.80" x2="101.20" y2="99.80" stroke="#cfcfcf" stroke-width="1"/>
</g>
<text x="376.30" y="605.20" font-size="7.8" text-anchor="start" fill="#1a1a1a" >LC3b puncta</text>
<line x1="378.30" y1="632.70" x2="378.30" y2="707.20" stroke="#8a8a8a" stroke-width="1.1" />
<line x1="375.40" y1="707.20" x2="427.30" y2="707.20" stroke="#3a3a3a" stroke-width="1.0" />
<line x1="375.90" y1="632.70" x2="378.30" y2="632.70" stroke="#3a3a3a" stroke-width="0.8" />
<text x="374.40" y="635.00" font-size="6.5" text-anchor="end" fill="#1a1a1a" >300</text>
<line x1="375.90" y1="657.40" x2="378.30" y2="657.40" stroke="#3a3a3a" stroke-width="0.8" />
<text x="374.40" y="659.70" font-size="6.5" text-anchor="end" fill="#1a1a1a" >200</text>
<line x1="375.90" y1="682.40" x2="378.30" y2="682.40" stroke="#3a3a3a" stroke-width="0.8" />
<text x="374.40" y="684.70" font-size="6.5" text-anchor="end" fill="#1a1a1a" >100</text>
<line x1="375.90" y1="704.00" x2="378.30" y2="704.00" stroke="#3a3a3a" stroke-width="0.8" />
<text x="374.40" y="706.30" font-size="6.5" text-anchor="end" fill="#1a1a1a" >0</text>
<text transform="translate(356.30,668.00) rotate(-90)" font-size="6.75" text-anchor="middle" fill="#1a1a1a">Puncta/ cell</text>
<line x1="387.70" y1="707.20" x2="387.70" y2="709.40" stroke="#3a3a3a" stroke-width="0.8" />
<text transform="translate(388.20,713.20) rotate(-45)" font-size="6.8" text-anchor="end" fill="#1a1a1a">DMSO</text>
<line x1="402.40" y1="707.20" x2="402.40" y2="709.40" stroke="#3a3a3a" stroke-width="0.8" />
<text transform="translate(402.90,713.20) rotate(-45)" font-size="6.8" text-anchor="end" fill="#1a1a1a">AR</text>
<line x1="417.40" y1="707.20" x2="417.40" y2="709.40" stroke="#3a3a3a" stroke-width="0.8" />
<text transform="translate(417.90,713.20) rotate(-45)" font-size="6.8" text-anchor="end" fill="#1a1a1a">AR+CC</text>
<circle cx="389.05" cy="706.59" r="0.9" fill="#3fc4cd"/>
<circle cx="390.36" cy="706.59" r="0.9" fill="#3fc4cd"/>
<circle cx="390.95" cy="706.43" r="0.9" fill="#3fc4cd"/>
<circle cx="392.57" cy="706.38" r="0.9" fill="#3fc4cd"/>
<circle cx="390.34" cy="706.37" r="0.9" fill="#3fc4cd"/>
<circle cx="392.35" cy="706.28" r="0.9" fill="#3fc4cd"/>
<circle cx="382.52" cy="706.27" r="0.9" fill="#3fc4cd"/>
<circle cx="387.32" cy="706.25" r="0.9" fill="#3fc4cd"/>
<circle cx="392.58" cy="706.24" r="0.9" fill="#3fc4cd"/>
<circle cx="389.34" cy="706.09" r="0.9" fill="#3fc4cd"/>
<circle cx="392.11" cy="706.00" r="0.9" fill="#3fc4cd"/>
<circle cx="383.45" cy="705.87" r="0.9" fill="#3fc4cd"/>
<circle cx="387.36" cy="705.86" r="0.9" fill="#3fc4cd"/>
<circle cx="384.91" cy="705.65" r="0.9" fill="#3fc4cd"/>
<circle cx="388.18" cy="705.65" r="0.9" fill="#3fc4cd"/>
<circle cx="388.51" cy="705.60" r="0.9" fill="#3fc4cd"/>
<circle cx="382.34" cy="705.60" r="0.9" fill="#3fc4cd"/>
<circle cx="384.58" cy="705.40" r="0.9" fill="#3fc4cd"/>
<circle cx="385.27" cy="705.31" r="0.9" fill="#3fc4cd"/>
<circle cx="392.28" cy="705.29" r="0.9" fill="#3fc4cd"/>
<circle cx="390.62" cy="704.95" r="0.9" fill="#3fc4cd"/>
<circle cx="383.96" cy="704.94" r="0.9" fill="#3fc4cd"/>
<circle cx="390.97" cy="704.84" r="0.9" fill="#3fc4cd"/>
<circle cx="383.73" cy="704.82" r="0.9" fill="#3fc4cd"/>
<circle cx="388.99" cy="704.64" r="0.9" fill="#3fc4cd"/>
<circle cx="383.59" cy="704.51" r="0.9" fill="#3fc4cd"/>
<circle cx="382.22" cy="704.30" r="0.9" fill="#3fc4cd"/>
<circle cx="391.79" cy="704.22" r="0.9" fill="#3fc4cd"/>
<circle cx="384.50" cy="704.19" r="0.9" fill="#3fc4cd"/>
<circle cx="384.57" cy="704.16" r="0.9" fill="#3fc4cd"/>
<circle cx="393.01" cy="704.15" r="0.9" fill="#3fc4cd"/>
<circle cx="391.80" cy="703.89" r="0.9" fill="#3fc4cd"/>
<circle cx="385.38" cy="703.87" r="0.9" fill="#3fc4cd"/>
<circle cx="392.78" cy="703.78" r="0.9" fill="#3fc4cd"/>
<circle cx="388.13" cy="703.67" r="0.9" fill="#3fc4cd"/>
<circle cx="389.66" cy="703.29" r="0.9" fill="#3fc4cd"/>
<circle cx="384.45" cy="703.18" r="0.9" fill="#3fc4cd"/>
<circle cx="392.55" cy="703.14" r="0.9" fill="#3fc4cd"/>
<circle cx="389.80" cy="703.13" r="0.9" fill="#3fc4cd"/>
<circle cx="392.83" cy="703.10" r="0.9" fill="#3fc4cd"/>
<circle cx="392.03" cy="702.79" r="0.9" fill="#3fc4cd"/>
<circle cx="385.49" cy="702.78" r="0.9" fill="#3fc4cd"/>
<circle cx="386.17" cy="702.64" r="0.9" fill="#3fc4cd"/>
<circle cx="384.03" cy="702.37" r="0.9" fill="#3fc4cd"/>
<circle cx="383.80" cy="702.34" r="0.9" fill="#3fc4cd"/>
<circle cx="382.92" cy="702.11" r="0.9" fill="#3fc4cd"/>
<circle cx="385.51" cy="702.00" r="0.9" fill="#3fc4cd"/>
<circle cx="388.83" cy="701.98" r="0.9" fill="#3fc4cd"/>
<circle cx="382.24" cy="701.66" r="0.9" fill="#3fc4cd"/>
<circle cx="389.66" cy="701.48" r="0.9" fill="#3fc4cd"/>
<circle cx="385.92" cy="701.27" r="0.9" fill="#3fc4cd"/>
<circle cx="385.61" cy="700.38" r="0.9" fill="#3fc4cd"/>
<circle cx="391.20" cy="700.09" r="0.9" fill="#3fc4cd"/>
<circle cx="387.62" cy="697.66" r="0.9" fill="#3fc4cd"/>
<circle cx="387.26" cy="695.13" r="0.9" fill="#3fc4cd"/>
<line x1="382.70" y1="703.48" x2="392.70" y2="703.48" stroke="#1a1a1a" stroke-width="0.9" />
<line x1="385.70" y1="702.73" x2="389.70" y2="702.73" stroke="#1a1a1a" stroke-width="0.8" />
<line x1="385.70" y1="704.22" x2="389.70" y2="704.22" stroke="#1a1a1a" stroke-width="0.8" />
<line x1="387.70" y1="704.22" x2="387.70" y2="702.73" stroke="#1a1a1a" stroke-width="0.8" />
<circle cx="402.23" cy="703.77" r="0.9" fill="#c9bf1e"/>
<circle cx="404.24" cy="703.58" r="0.9" fill="#c9bf1e"/>
<circle cx="398.41" cy="703.38" r="0.9" fill="#c9bf1e"/>
<circle cx="406.68" cy="703.18" r="0.9" fill="#c9bf1e"/>
<circle cx="398.11" cy="702.96" r="0.9" fill="#c9bf1e"/>
<circle cx="404.65" cy="702.94" r="0.9" fill="#c9bf1e"/>
<circle cx="405.50" cy="702.76" r="0.9" fill="#c9bf1e"/>
<circle cx="398.06" cy="702.10" r="0.9" fill="#c9bf1e"/>
<circle cx="404.99" cy="701.91" r="0.9" fill="#c9bf1e"/>
<circle cx="401.20" cy="701.63" r="0.9" fill="#c9bf1e"/>
<circle cx="403.11" cy="701.60" r="0.9" fill="#c9bf1e"/>
<circle cx="397.98" cy="701.13" r="0.9" fill="#c9bf1e"/>
<circle cx="398.32" cy="700.80" r="0.9" fill="#c9bf1e"/>
<circle cx="399.53" cy="700.80" r="0.9" fill="#c9bf1e"/>
<circle cx="406.50" cy="700.31" r="0.9" fill="#c9bf1e"/>
<circle cx="399.67" cy="699.91" r="0.9" fill="#c9bf1e"/>
<circle cx="404.70" cy="699.03" r="0.9" fill="#c9bf1e"/>
<circle cx="406.27" cy="698.66" r="0.9" fill="#c9bf1e"/>
<circle cx="406.38" cy="698.28" r="0.9" fill="#c9bf1e"/>
<circle cx="401.25" cy="696.70" r="0.9" fill="#c9bf1e"/>
<circle cx="401.09" cy="695.70" r="0.9" fill="#c9bf1e"/>
<circle cx="402.60" cy="695.50" r="0.9" fill="#c9bf1e"/>
<circle cx="404.68" cy="694.26" r="0.9" fill="#c9bf1e"/>
<circle cx="398.87" cy="693.88" r="0.9" fill="#c9bf1e"/>
<circle cx="404.64" cy="693.60" r="0.9" fill="#c9bf1e"/>
<circle cx="405.08" cy="693.33" r="0.9" fill="#c9bf1e"/>
<circle cx="405.64" cy="693.24" r="0.9" fill="#c9bf1e"/>
<circle cx="398.57" cy="692.09" r="0.9" fill="#c9bf1e"/>
<circle cx="405.71" cy="690.97" r="0.9" fill="#c9bf1e"/>
<circle cx="399.71" cy="690.87" r="0.9" fill="#c9bf1e"/>
<circle cx="401.75" cy="689.59" r="0.9" fill="#c9bf1e"/>
<circle cx="402.66" cy="684.88" r="0.9" fill="#c9bf1e"/>
<circle cx="403.75" cy="683.04" r="0.9" fill="#c9bf1e"/>
<circle cx="402.02" cy="681.86" r="0.9" fill="#c9bf1e"/>
<circle cx="403.41" cy="678.05" r="0.9" fill="#c9bf1e"/>
<circle cx="402.51" cy="675.56" r="0.9" fill="#c9bf1e"/>
<circle cx="401.95" cy="671.84" r="0.9" fill="#c9bf1e"/>
<circle cx="401.81" cy="669.36" r="0.9" fill="#c9bf1e"/>
<circle cx="401.63" cy="666.87" r="0.9" fill="#c9bf1e"/>
<circle cx="401.75" cy="663.15" r="0.9" fill="#c9bf1e"/>
<circle cx="401.56" cy="659.42" r="0.9" fill="#c9bf1e"/>
<circle cx="402.85" cy="656.94" r="0.9" fill="#c9bf1e"/>
<circle cx="403.16" cy="653.22" r="0.9" fill="#c9bf1e"/>
<circle cx="401.88" cy="649.49" r="0.9" fill="#c9bf1e"/>
<circle cx="401.70" cy="642.04" r="0.9" fill="#c9bf1e"/>
<line x1="397.20" y1="683.11" x2="407.60" y2="683.11" stroke="#1a1a1a" stroke-width="0.9" />
<line x1="400.32" y1="680.88" x2="404.48" y2="680.88" stroke="#1a1a1a" stroke-width="0.8" />
<line x1="400.32" y1="685.35" x2="404.48" y2="685.35" stroke="#1a1a1a" stroke-width="0.8" />
<line x1="402.40" y1="685.35" x2="402.40" y2="680.88" stroke="#1a1a1a" stroke-width="0.8" />
<circle cx="422.27" cy="706.14" r="0.9" fill="#7f7f7f"/>
<circle cx="417.74" cy="705.73" r="0.9" fill="#7f7f7f"/>
<circle cx="416.46" cy="705.53" r="0.9" fill="#7f7f7f"/>
<circle cx="414.77" cy="705.36" r="0.9" fill="#7f7f7f"/>
<circle cx="418.34" cy="704.76" r="0.9" fill="#7f7f7f"/>
<circle cx="420.66" cy="704.51" r="0.9" fill="#7f7f7f"/>
<circle cx="416.96" cy="704.42" r="0.9" fill="#7f7f7f"/>
<circle cx="416.62" cy="704.34" r="0.9" fill="#7f7f7f"/>
<circle cx="412.96" cy="704.26" r="0.9" fill="#7f7f7f"/>
<circle cx="421.56" cy="704.06" r="0.9" fill="#7f7f7f"/>
<circle cx="412.73" cy="703.76" r="0.9" fill="#7f7f7f"/>
<circle cx="417.34" cy="703.70" r="0.9" fill="#7f7f7f"/>
<circle cx="420.78" cy="703.63" r="0.9" fill="#7f7f7f"/>
<circle cx="413.71" cy="703.54" r="0.9" fill="#7f7f7f"/>
<circle cx="419.72" cy="703.52" r="0.9" fill="#7f7f7f"/>
<circle cx="421.90" cy="703.10" r="0.9" fill="#7f7f7f"/>
<circle cx="418.70" cy="703.07" r="0.9" fill="#7f7f7f"/>
<circle cx="420.28" cy="702.68" r="0.9" fill="#7f7f7f"/>
<circle cx="413.47" cy="702.17" r="0.9" fill="#7f7f7f"/>
<circle cx="416.75" cy="701.58" r="0.9" fill="#7f7f7f"/>
<circle cx="413.89" cy="701.20" r="0.9" fill="#7f7f7f"/>
<circle cx="420.85" cy="700.83" r="0.9" fill="#7f7f7f"/>
<circle cx="415.35" cy="699.75" r="0.9" fill="#7f7f7f"/>
<circle cx="416.93" cy="699.65" r="0.9" fill="#7f7f7f"/>
<circle cx="422.39" cy="699.49" r="0.9" fill="#7f7f7f"/>
<circle cx="420.92" cy="699.43" r="0.9" fill="#7f7f7f"/>
<circle cx="422.16" cy="699.41" r="0.9" fill="#7f7f7f"/>
<circle cx="416.94" cy="698.20" r="0.9" fill="#7f7f7f"/>
<circle cx="417.28" cy="698.01" r="0.9" fill="#7f7f7f"/>
<circle cx="419.70" cy="697.79" r="0.9" fill="#7f7f7f"/>
<circle cx="417.19" cy="697.39" r="0.9" fill="#7f7f7f"/>
<circle cx="415.31" cy="696.85" r="0.9" fill="#7f7f7f"/>
<circle cx="416.44" cy="696.78" r="0.9" fill="#7f7f7f"/>
<circle cx="413.87" cy="696.27" r="0.9" fill="#7f7f7f"/>
<circle cx="416.17" cy="696.09" r="0.9" fill="#7f7f7f"/>
<circle cx="422.28" cy="695.77" r="0.9" fill="#7f7f7f"/>
<circle cx="422.00" cy="695.39" r="0.9" fill="#7f7f7f"/>
<circle cx="418.67" cy="695.28" r="0.9" fill="#7f7f7f"/>
<circle cx="417.39" cy="695.17" r="0.9" fill="#7f7f7f"/>
<circle cx="415.78" cy="695.13" r="0.9" fill="#7f7f7f"/>
<circle cx="414.70" cy="692.94" r="0.9" fill="#7f7f7f"/>
<circle cx="416.67" cy="691.21" r="0.9" fill="#7f7f7f"/>
<circle cx="418.31" cy="689.22" r="0.9" fill="#7f7f7f"/>
<circle cx="418.27" cy="686.74" r="0.9" fill="#7f7f7f"/>
<circle cx="417.07" cy="683.01" r="0.9" fill="#7f7f7f"/>
<circle cx="418.32" cy="680.53" r="0.9" fill="#7f7f7f"/>
<circle cx="418.05" cy="678.05" r="0.9" fill="#7f7f7f"/>
<circle cx="417.70" cy="674.32" r="0.9" fill="#7f7f7f"/>
<line x1="412.40" y1="696.03" x2="422.40" y2="696.03" stroke="#1a1a1a" stroke-width="0.9" />
<line x1="415.40" y1="694.79" x2="419.40" y2="694.79" stroke="#1a1a1a" stroke-width="0.8" />
<line x1="415.40" y1="697.27" x2="419.40" y2="697.27" stroke="#1a1a1a" stroke-width="0.8" />
<line x1="417.40" y1="697.27" x2="417.40" y2="694.79" stroke="#1a1a1a" stroke-width="0.8" />
<path d="M387.60,690.40 L387.60,633.40 L402.70,633.40 L402.70,637.90" fill="none" stroke="#1a1a1a" stroke-width="0.8"/>
<text x="395.20" y="635.25" font-size="8.2" text-anchor="middle" fill="#1a1a1a" stroke="#1a1a1a" stroke-width="0.25">****</text>
<path d="M402.30,630.00 L402.30,626.40 L417.60,626.40 L417.60,672.00" fill="none" stroke="#1a1a1a" stroke-width="0.8"/>
<text x="409.90" y="627.75" font-size="8.2" text-anchor="middle" fill="#1a1a1a" stroke="#1a1a1a" stroke-width="0.25">****</text>
<path d="M387.60,630.00 L387.60,613.30 L417.60,613.30 L417.60,617.50" fill="none" stroke="#1a1a1a" stroke-width="0.8"/>
<text x="402.00" y="614.85" font-size="8.2" text-anchor="middle" fill="#1a1a1a" stroke="#1a1a1a" stroke-width="0.25">****</text>
<text x="377.40" y="749.20" font-size="8.9" text-anchor="start" fill="#1a1a1a" >p62 puncta</text>
<line x1="376.30" y1="777.00" x2="376.30" y2="837.40" stroke="#2a2a2a" stroke-width="1.1" />
<line x1="373.60" y1="837.40" x2="432.00" y2="837.40" stroke="#3a3a3a" stroke-width="1.0" />
<line x1="373.90" y1="777.00" x2="376.30" y2="777.00" stroke="#3a3a3a" stroke-width="0.8" />
<text x="371.60" y="779.30" font-size="6.5" text-anchor="end" fill="#1a1a1a" >300</text>
<line x1="373.90" y1="797.20" x2="376.30" y2="797.20" stroke="#3a3a3a" stroke-width="0.8" />
<text x="371.60" y="799.50" font-size="6.5" text-anchor="end" fill="#1a1a1a" >200</text>
<line x1="373.90" y1="817.50" x2="376.30" y2="817.50" stroke="#3a3a3a" stroke-width="0.8" />
<text x="371.60" y="819.80" font-size="6.5" text-anchor="end" fill="#1a1a1a" >100</text>
<line x1="373.90" y1="836.40" x2="376.30" y2="836.40" stroke="#3a3a3a" stroke-width="0.8" />
<text x="371.60" y="838.70" font-size="6.5" text-anchor="end" fill="#1a1a1a" >0</text>
<text transform="translate(359.80,805.50) rotate(-90)" font-size="6.75" text-anchor="middle" fill="#1a1a1a">Puncta/ cell</text>
<line x1="387.10" y1="837.40" x2="387.10" y2="839.60" stroke="#3a3a3a" stroke-width="0.8" />
<text transform="translate(390.30,845.40) rotate(-45)" font-size="6.8" text-anchor="end" fill="#1a1a1a">DMSO</text>
<line x1="404.40" y1="837.40" x2="404.40" y2="839.60" stroke="#3a3a3a" stroke-width="0.8" />
<text transform="translate(407.60,845.40) rotate(-45)" font-size="6.8" text-anchor="end" fill="#1a1a1a">AR</text>
<line x1="420.80" y1="837.40" x2="420.80" y2="839.60" stroke="#3a3a3a" stroke-width="0.8" />
<text transform="translate(424.00,845.40) rotate(-45)" font-size="6.8" text-anchor="end" fill="#1a1a1a">AR+CC</text>
<circle cx="390.62" cy="836.71" r="0.9" fill="#3fc4cd"/>
<circle cx="390.96" cy="836.56" r="0.9" fill="#3fc4cd"/>
<circle cx="386.92" cy="836.41" r="0.9" fill="#3fc4cd"/>
<circle cx="384.24" cy="836.41" r="0.9" fill="#3fc4cd"/>
<circle cx="381.11" cy="836.21" r="0.9" fill="#3fc4cd"/>
<circle cx="389.05" cy="836.20" r="0.9" fill="#3fc4cd"/>
<circle cx="386.74" cy="836.13" r="0.9" fill="#3fc4cd"/>
<circle cx="390.22" cy="836.09" r="0.9" fill="#3fc4cd"/>
<circle cx="385.58" cy="836.01" r="0.9" fill="#3fc4cd"/>
<circle cx="390.34" cy="835.96" r="0.9" fill="#3fc4cd"/>
<circle cx="384.37" cy="835.81" r="0.9" fill="#3fc4cd"/>
<circle cx="390.72" cy="835.79" r="0.9" fill="#3fc4cd"/>
<circle cx="389.86" cy="835.69" r="0.9" fill="#3fc4cd"/>
<circle cx="386.07" cy="835.39" r="0.9" fill="#3fc4cd"/>
<circle cx="387.56" cy="835.30" r="0.9" fill="#3fc4cd"/>
<circle cx="389.28" cy="835.24" r="0.9" fill="#3fc4cd"/>
<circle cx="383.42" cy="835.22" r="0.9" fill="#3fc4cd"/>
<circle cx="387.74" cy="835.06" r="0.9" fill="#3fc4cd"/>
<circle cx="390.76" cy="835.01" r="0.9" fill="#3fc4cd"/>
<circle cx="384.29" cy="834.89" r="0.9" fill="#3fc4cd"/>
<circle cx="390.74" cy="834.88" r="0.9" fill="#3fc4cd"/>
<circle cx="389.33" cy="834.73" r="0.9" fill="#3fc4cd"/>
<circle cx="391.23" cy="834.59" r="0.9" fill="#3fc4cd"/>
<circle cx="385.13" cy="834.46" r="0.9" fill="#3fc4cd"/>
<circle cx="382.22" cy="834.45" r="0.9" fill="#3fc4cd"/>
<circle cx="390.70" cy="834.41" r="0.9" fill="#3fc4cd"/>
<circle cx="390.76" cy="834.38" r="0.9" fill="#3fc4cd"/>
<circle cx="386.44" cy="834.33" r="0.9" fill="#3fc4cd"/>
<circle cx="382.23" cy="834.31" r="0.9" fill="#3fc4cd"/>
<circle cx="383.47" cy="833.91" r="0.9" fill="#3fc4cd"/>
<circle cx="388.72" cy="833.80" r="0.9" fill="#3fc4cd"/>
<circle cx="384.59" cy="833.74" r="0.9" fill="#3fc4cd"/>
<circle cx="392.52" cy="833.71" r="0.9" fill="#3fc4cd"/>
<circle cx="388.16" cy="833.65" r="0.9" fill="#3fc4cd"/>
<circle cx="383.51" cy="833.63" r="0.9" fill="#3fc4cd"/>
<circle cx="388.96" cy="833.40" r="0.9" fill="#3fc4cd"/>
<circle cx="385.42" cy="833.30" r="0.9" fill="#3fc4cd"/>
<circle cx="392.29" cy="832.67" r="0.9" fill="#3fc4cd"/>
<circle cx="392.01" cy="832.22" r="0.9" fill="#3fc4cd"/>
<circle cx="387.28" cy="831.87" r="0.9" fill="#3fc4cd"/>
<circle cx="388.83" cy="831.82" r="0.9" fill="#3fc4cd"/>
<circle cx="389.47" cy="831.56" r="0.9" fill="#3fc4cd"/>
<circle cx="390.77" cy="831.51" r="0.9" fill="#3fc4cd"/>
<circle cx="392.24" cy="830.94" r="0.9" fill="#3fc4cd"/>
<circle cx="382.02" cy="830.55" r="0.9" fill="#3fc4cd"/>
<circle cx="385.49" cy="830.27" r="0.9" fill="#3fc4cd"/>
<circle cx="388.20" cy="830.09" r="0.9" fill="#3fc4cd"/>
<circle cx="385.15" cy="829.33" r="0.9" fill="#3fc4cd"/>
<circle cx="387.84" cy="828.46" r="0.9" fill="#3fc4cd"/>
<circle cx="384.06" cy="828.05" r="0.9" fill="#3fc4cd"/>
<circle cx="389.28" cy="827.60" r="0.9" fill="#3fc4cd"/>
<circle cx="387.31" cy="827.42" r="0.9" fill="#3fc4cd"/>
<circle cx="383.93" cy="826.38" r="0.9" fill="#3fc4cd"/>
<circle cx="388.44" cy="825.16" r="0.9" fill="#3fc4cd"/>
<circle cx="385.55" cy="825.09" r="0.9" fill="#3fc4cd"/>
<circle cx="384.59" cy="825.09" r="0.9" fill="#3fc4cd"/>
<circle cx="386.98" cy="824.42" r="0.9" fill="#3fc4cd"/>
<circle cx="384.11" cy="823.72" r="0.9" fill="#3fc4cd"/>
<circle cx="384.70" cy="823.60" r="0.9" fill="#3fc4cd"/>
<circle cx="390.12" cy="823.52" r="0.9" fill="#3fc4cd"/>
<circle cx="388.40" cy="821.97" r="0.9" fill="#3fc4cd"/>
<circle cx="383.89" cy="821.80" r="0.9" fill="#3fc4cd"/>
<circle cx="388.23" cy="820.59" r="0.9" fill="#3fc4cd"/>
<circle cx="385.14" cy="820.47" r="0.9" fill="#3fc4cd"/>
<circle cx="386.84" cy="799.56" r="0.9" fill="#3fc4cd"/>
<circle cx="387.72" cy="784.46" r="0.9" fill="#3fc4cd"/>
<line x1="381.70" y1="830.96" x2="392.50" y2="830.96" stroke="#1a1a1a" stroke-width="0.9" />
<line x1="384.94" y1="829.95" x2="389.26" y2="829.95" stroke="#1a1a1a" stroke-width="0.8" />
<line x1="384.94" y1="831.96" x2="389.26" y2="831.96" stroke="#1a1a1a" stroke-width="0.8" />
<line x1="387.10" y1="831.96" x2="387.10" y2="829.95" stroke="#1a1a1a" stroke-width="0.8" />
<circle cx="405.39" cy="836.72" r="0.9" fill="#c9bf1e"/>
<circle cx="402.80" cy="836.70" r="0.9" fill="#c9bf1e"/>
<circle cx="403.18" cy="836.35" r="0.9" fill="#c9bf1e"/>
<circle cx="403.30" cy="836.32" r="0.9" fill="#c9bf1e"/>
<circle cx="400.38" cy="836.17" r="0.9" fill="#c9bf1e"/>
<circle cx="410.40" cy="835.56" r="0.9" fill="#c9bf1e"/>
<circle cx="399.05" cy="834.78" r="0.9" fill="#c9bf1e"/>
<circle cx="403.47" cy="834.65" r="0.9" fill="#c9bf1e"/>
<circle cx="407.36" cy="834.51" r="0.9" fill="#c9bf1e"/>
<circle cx="403.17" cy="834.28" r="0.9" fill="#c9bf1e"/>
<circle cx="410.17" cy="834.12" r="0.9" fill="#c9bf1e"/>
<circle cx="401.34" cy="833.88" r="0.9" fill="#c9bf1e"/>
<circle cx="410.15" cy="833.56" r="0.9" fill="#c9bf1e"/>
<circle cx="409.11" cy="833.46" r="0.9" fill="#c9bf1e"/>
<circle cx="406.44" cy="833.40" r="0.9" fill="#c9bf1e"/>
<circle cx="409.07" cy="832.67" r="0.9" fill="#c9bf1e"/>
<circle cx="403.77" cy="832.64" r="0.9" fill="#c9bf1e"/>
<circle cx="408.38" cy="832.40" r="0.9" fill="#c9bf1e"/>
<circle cx="407.95" cy="832.11" r="0.9" fill="#c9bf1e"/>
<circle cx="404.60" cy="831.64" r="0.9" fill="#c9bf1e"/>
<circle cx="404.05" cy="831.25" r="0.9" fill="#c9bf1e"/>
<circle cx="406.79" cy="831.05" r="0.9" fill="#c9bf1e"/>
<circle cx="403.42" cy="830.99" r="0.9" fill="#c9bf1e"/>
<circle cx="400.28" cy="830.16" r="0.9" fill="#c9bf1e"/>
<circle cx="406.85" cy="829.32" r="0.9" fill="#c9bf1e"/>
<circle cx="402.27" cy="829.11" r="0.9" fill="#c9bf1e"/>
<circle cx="404.32" cy="828.39" r="0.9" fill="#c9bf1e"/>
<circle cx="406.75" cy="827.76" r="0.9" fill="#c9bf1e"/>
<circle cx="401.42" cy="827.49" r="0.9" fill="#c9bf1e"/>
<circle cx="400.05" cy="827.48" r="0.9" fill="#c9bf1e"/>
<circle cx="401.61" cy="825.78" r="0.9" fill="#c9bf1e"/>
<circle cx="405.06" cy="825.64" r="0.9" fill="#c9bf1e"/>
<circle cx="403.49" cy="825.25" r="0.9" fill="#c9bf1e"/>
<circle cx="402.80" cy="825.22" r="0.9" fill="#c9bf1e"/>
<circle cx="404.12" cy="824.24" r="0.9" fill="#c9bf1e"/>
<circle cx="406.85" cy="822.07" r="0.9" fill="#c9bf1e"/>
<circle cx="402.58" cy="821.46" r="0.9" fill="#c9bf1e"/>
<circle cx="403.51" cy="820.41" r="0.9" fill="#c9bf1e"/>
<circle cx="408.17" cy="820.10" r="0.9" fill="#c9bf1e"/>
<circle cx="405.52" cy="819.87" r="0.9" fill="#c9bf1e"/>
<circle cx="402.29" cy="819.59" r="0.9" fill="#c9bf1e"/>
<circle cx="404.17" cy="819.43" r="0.9" fill="#c9bf1e"/>
<circle cx="404.20" cy="819.12" r="0.9" fill="#c9bf1e"/>
<circle cx="401.44" cy="818.98" r="0.9" fill="#c9bf1e"/>
<circle cx="403.39" cy="818.86" r="0.9" fill="#c9bf1e"/>
<circle cx="402.47" cy="818.23" r="0.9" fill="#c9bf1e"/>
<circle cx="406.41" cy="816.26" r="0.9" fill="#c9bf1e"/>
<circle cx="403.24" cy="815.96" r="0.9" fill="#c9bf1e"/>
<circle cx="405.45" cy="815.11" r="0.9" fill="#c9bf1e"/>
<circle cx="407.50" cy="814.58" r="0.9" fill="#c9bf1e"/>
<circle cx="407.89" cy="814.35" r="0.9" fill="#c9bf1e"/>
<circle cx="403.27" cy="814.11" r="0.9" fill="#c9bf1e"/>
<circle cx="405.16" cy="813.45" r="0.9" fill="#c9bf1e"/>
<circle cx="402.76" cy="812.15" r="0.9" fill="#c9bf1e"/>
<circle cx="403.47" cy="812.10" r="0.9" fill="#c9bf1e"/>
<circle cx="404.30" cy="811.85" r="0.9" fill="#c9bf1e"/>
<circle cx="406.58" cy="810.97" r="0.9" fill="#c9bf1e"/>
<circle cx="407.64" cy="810.75" r="0.9" fill="#c9bf1e"/>
<circle cx="402.85" cy="810.71" r="0.9" fill="#c9bf1e"/>
<circle cx="400.74" cy="810.54" r="0.9" fill="#c9bf1e"/>
<circle cx="403.98" cy="808.87" r="0.9" fill="#c9bf1e"/>
<circle cx="401.49" cy="807.97" r="0.9" fill="#c9bf1e"/>
<circle cx="400.52" cy="807.15" r="0.9" fill="#c9bf1e"/>
<circle cx="406.89" cy="806.88" r="0.9" fill="#c9bf1e"/>
<circle cx="400.87" cy="806.72" r="0.9" fill="#c9bf1e"/>
<circle cx="406.20" cy="805.72" r="0.9" fill="#c9bf1e"/>
<circle cx="403.26" cy="805.67" r="0.9" fill="#c9bf1e"/>
<circle cx="407.65" cy="805.01" r="0.9" fill="#c9bf1e"/>
<circle cx="407.02" cy="804.92" r="0.9" fill="#c9bf1e"/>
<circle cx="401.52" cy="804.62" r="0.9" fill="#c9bf1e"/>
<circle cx="403.93" cy="798.55" r="0.9" fill="#c9bf1e"/>
<circle cx="405.09" cy="794.53" r="0.9" fill="#c9bf1e"/>
<line x1="398.60" y1="821.30" x2="410.20" y2="821.30" stroke="#1a1a1a" stroke-width="0.9" />
<line x1="402.08" y1="820.09" x2="406.72" y2="820.09" stroke="#1a1a1a" stroke-width="0.8" />
<line x1="402.08" y1="822.50" x2="406.72" y2="822.50" stroke="#1a1a1a" stroke-width="0.8" />
<line x1="404.40" y1="822.50" x2="404.40" y2="820.09" stroke="#1a1a1a" stroke-width="0.8" />
<circle cx="422.16" cy="836.76" r="0.9" fill="#1a1a1a"/>
<circle cx="419.87" cy="836.69" r="0.9" fill="#1a1a1a"/>
<circle cx="424.19" cy="836.62" r="0.9" fill="#1a1a1a"/>
<circle cx="424.56" cy="836.53" r="0.9" fill="#1a1a1a"/>
<circle cx="420.70" cy="836.36" r="0.9" fill="#1a1a1a"/>
<circle cx="420.43" cy="836.31" r="0.9" fill="#1a1a1a"/>
<circle cx="416.00" cy="836.30" r="0.9" fill="#1a1a1a"/>
<circle cx="419.14" cy="836.28" r="0.9" fill="#1a1a1a"/>
<circle cx="416.54" cy="836.27" r="0.9" fill="#1a1a1a"/>
<circle cx="422.31" cy="836.25" r="0.9" fill="#1a1a1a"/>
<circle cx="422.08" cy="836.22" r="0.9" fill="#1a1a1a"/>
<circle cx="416.53" cy="836.18" r="0.9" fill="#1a1a1a"/>
<circle cx="422.34" cy="835.96" r="0.9" fill="#1a1a1a"/>
<circle cx="415.97" cy="835.91" r="0.9" fill="#1a1a1a"/>
<circle cx="416.07" cy="835.85" r="0.9" fill="#1a1a1a"/>
<circle cx="422.55" cy="835.81" r="0.9" fill="#1a1a1a"/>
<circle cx="420.35" cy="835.71" r="0.9" fill="#1a1a1a"/>
<circle cx="425.60" cy="835.69" r="0.9" fill="#1a1a1a"/>
<circle cx="422.35" cy="835.54" r="0.9" fill="#1a1a1a"/>
<circle cx="423.22" cy="835.39" r="0.9" fill="#1a1a1a"/>
<circle cx="416.32" cy="835.39" r="0.9" fill="#1a1a1a"/>
<circle cx="424.79" cy="835.26" r="0.9" fill="#1a1a1a"/>
<circle cx="415.80" cy="835.16" r="0.9" fill="#1a1a1a"/>
<circle cx="422.22" cy="835.15" r="0.9" fill="#1a1a1a"/>
<circle cx="425.74" cy="835.13" r="0.9" fill="#1a1a1a"/>
<circle cx="425.69" cy="834.97" r="0.9" fill="#1a1a1a"/>
<circle cx="425.52" cy="834.81" r="0.9" fill="#1a1a1a"/>
<circle cx="420.22" cy="834.74" r="0.9" fill="#1a1a1a"/>
<circle cx="423.13" cy="834.74" r="0.9" fill="#1a1a1a"/>
<circle cx="424.30" cy="834.68" r="0.9" fill="#1a1a1a"/>
<circle cx="416.44" cy="834.63" r="0.9" fill="#1a1a1a"/>
<circle cx="426.12" cy="834.61" r="0.9" fill="#1a1a1a"/>
<circle cx="425.71" cy="834.55" r="0.9" fill="#1a1a1a"/>
<circle cx="420.09" cy="834.50" r="0.9" fill="#1a1a1a"/>
<circle cx="424.14" cy="834.43" r="0.9" fill="#1a1a1a"/>
<circle cx="420.16" cy="834.28" r="0.9" fill="#1a1a1a"/>
<circle cx="418.12" cy="834.03" r="0.9" fill="#1a1a1a"/>
<circle cx="423.35" cy="833.97" r="0.9" fill="#1a1a1a"/>
<circle cx="415.56" cy="833.86" r="0.9" fill="#1a1a1a"/>
<circle cx="424.40" cy="833.19" r="0.9" fill="#1a1a1a"/>
<circle cx="421.94" cy="829.75" r="0.9" fill="#1a1a1a"/>
<circle cx="420.29" cy="828.75" r="0.9" fill="#1a1a1a"/>
<circle cx="421.48" cy="823.72" r="0.9" fill="#1a1a1a"/>
<circle cx="420.16" cy="810.63" r="0.9" fill="#1a1a1a"/>
<line x1="415.80" y1="835.39" x2="425.80" y2="835.39" stroke="#1a1a1a" stroke-width="0.9" />
<line x1="418.80" y1="834.98" x2="422.80" y2="834.98" stroke="#1a1a1a" stroke-width="0.8" />
<line x1="418.80" y1="835.79" x2="422.80" y2="835.79" stroke="#1a1a1a" stroke-width="0.8" />
<line x1="420.80" y1="835.79" x2="420.80" y2="834.98" stroke="#1a1a1a" stroke-width="0.8" />
<path d="M387.10,780.40 L387.10,770.20 L404.40,770.20 L404.40,774.00" fill="none" stroke="#1a1a1a" stroke-width="0.8"/>
<text x="395.60" y="769.75" font-size="8.2" text-anchor="middle" fill="#1a1a1a" stroke="#1a1a1a" stroke-width="0.25">**</text>
<path d="M404.40,761.50 L404.40,758.10 L420.80,758.10 L420.80,808.70" fill="none" stroke="#1a1a1a" stroke-width="0.8"/>
<text x="411.80" y="757.65" font-size="8.2" text-anchor="middle" fill="#1a1a1a" stroke="#1a1a1a" stroke-width="0.25">****</text>
<text x="441.60" y="788.20" font-size="15.6" text-anchor="start" font-weight="bold" fill="#111" >G)</text>
<text x="520.10" y="789.60" font-size="11.3" text-anchor="middle" fill="#1a1a1a" >DMSO</text>
<text x="584.20" y="790.10" font-size="11.3" text-anchor="middle" fill="#1a1a1a" >AR</text>
<line x1="489.40" y1="792.30" x2="551.20" y2="792.30" stroke="#1a1a1a" stroke-width="0.9" />
<line x1="553.10" y1="792.30" x2="615.80" y2="792.30" stroke="#1a1a1a" stroke-width="0.9" />
<text x="646.90" y="788.60" font-size="11.3" text-anchor="start" fill="#1a1a1a" >p-value</text>
<line x1="646.90" y1="791.80" x2="685.00" y2="791.80" stroke="#1a1a1a" stroke-width="0.9" />
<text x="485.90" y="805.90" font-size="11.3" text-anchor="end" fill="#1a1a1a" >LAMP2A</text>
<text x="485.90" y="825.20" font-size="11.3" text-anchor="end" fill="#1a1a1a" >LC3-I</text>
<text x="485.90" y="837.80" font-size="11.3" text-anchor="end" fill="#1a1a1a" >LC3-II</text>
<text x="485.40" y="858.00" font-size="11.3" text-anchor="end" fill="#1a1a1a" >Ponceau</text>
<text x="651.10" y="804.80" font-size="11.3" text-anchor="start" fill="#1a1a1a" >&lt;0.01</text>
<text x="651.10" y="828.20" font-size="11.3" text-anchor="start" fill="#1a1a1a" >&lt;0.01</text>
<text x="617.60" y="801.00" font-size="6.3" text-anchor="start" fill="#1a1a1a" >-110kDa</text>
<text x="618.40" y="827.00" font-size="6.95" text-anchor="start" fill="#1a1a1a" >-16 kDa</text>
<text x="618.40" y="835.20" font-size="6.95" text-anchor="start" fill="#1a1a1a" >-14 kDa</text>
<g>
<rect x="488.50" y="794.30" width="127.50" height="14.40" fill="#9a9a9a" stroke="none" stroke-width="0" />
<rect x="489.1" y="796.0" width="19.4" height="11.6" rx="2" fill="#0e0e0e" filter="url(#blurh)"/>
<rect x="491.9" y="797.2" width="13.8" height="3.0" fill="#4a4a4a" filter="url(#blur1)"/>
<rect x="510.8" y="796.0" width="19.3" height="11.6" rx="2" fill="#0e0e0e" filter="url(#blurh)"/>
<rect x="513.6" y="797.2" width="13.7" height="3.0" fill="#4a4a4a" filter="url(#blur1)"/>
<rect x="531.5" y="796.0" width="19.3" height="11.6" rx="2" fill="#0e0e0e" filter="url(#blurh)"/>
<rect x="534.3" y="797.2" width="13.7" height="3.0" fill="#4a4a4a" filter="url(#blur1)"/>
<rect x="553.2" y="795.4" width="20.3" height="12.8" rx="2" fill="#080808" filter="url(#blurh)"/>
<rect x="574.9" y="795.4" width="19.3" height="12.8" rx="2" fill="#080808" filter="url(#blurh)"/>
<rect x="595.6" y="795.4" width="18.3" height="12.8" rx="2" fill="#080808" filter="url(#blurh)"/>
<rect x="488.50" y="794.30" width="127.50" height="14.40" fill="none" stroke="#555" stroke-width="0.8" />
</g>
<rect x="488.50" y="816.10" width="127.50" height="23.30" fill="#eeeeee" stroke="none" stroke-width="0" />
<ellipse cx="498.8" cy="823.6" rx="9.4" ry="2.5" fill="#141414" filter="url(#blurh)"/>
<ellipse cx="498.8" cy="830.2" rx="8.9" ry="1.6" fill="#7e7e7e" filter="url(#blurh)"/>
<ellipse cx="520.5" cy="823.6" rx="9.3" ry="2.5" fill="#262626" filter="url(#blurh)"/>
<ellipse cx="520.5" cy="830.2" rx="8.8" ry="1.6" fill="#868686" filter="url(#blurh)"/>
<ellipse cx="536.8" cy="823.8" rx="3.2" ry="1.8" fill="#303030" filter="url(#blurh)"/>
<ellipse cx="547.0" cy="823.0" rx="2.6" ry="2.3" fill="#141414" filter="url(#blurh)"/>
<ellipse cx="541.1" cy="824.2" rx="8.9" ry="1.2" fill="#b0b0b0" filter="url(#blurh)"/>
<ellipse cx="541.1" cy="830.2" rx="8.9" ry="1.6" fill="#8e8e8e" filter="url(#blurh)"/>
<rect x="552.5" y="820.0" width="21.7" height="7.2" rx="3.2" fill="#0a0a0a" filter="url(#blurh)"/>
<rect x="552.5" y="827.8" width="21.7" height="5.6" rx="2.8" fill="#0a0a0a" filter="url(#blurh)"/>
<rect x="574.2" y="820.0" width="20.7" height="7.2" rx="3.2" fill="#0a0a0a" filter="url(#blurh)"/>
<rect x="574.2" y="827.8" width="20.7" height="5.6" rx="2.8" fill="#0a0a0a" filter="url(#blurh)"/>
<rect x="594.9" y="820.0" width="19.7" height="7.2" rx="3.2" fill="#0a0a0a" filter="url(#blurh)"/>
<rect x="594.9" y="827.8" width="19.7" height="5.6" rx="2.8" fill="#0a0a0a" filter="url(#blurh)"/>
<rect x="488.50" y="816.10" width="127.50" height="23.30" fill="none" stroke="#707070" stroke-width="0.8" />
<rect x="488.50" y="844.20" width="127.50" height="24.00" fill="#d4d4d4" stroke="none" stroke-width="0" />
<g filter="url(#blurh)">
<rect x="490.40" y="846.00" width="16.80" height="22.00" fill="#c4c4c4" stroke="none" stroke-width="0" />
<rect x="490.40" y="849.00" width="16.80" height="1.80" fill="#b2b2b2" stroke="none" stroke-width="0" />
<rect x="490.40" y="853.00" width="16.80" height="1.80" fill="#b2b2b2" stroke="none" stroke-width="0" />
<rect x="490.40" y="857.50" width="16.80" height="1.80" fill="#b2b2b2" stroke="none" stroke-width="0" />
<rect x="490.40" y="861.80" width="16.80" height="1.80" fill="#b2b2b2" stroke="none" stroke-width="0" />
<rect x="490.40" y="865.50" width="16.80" height="1.80" fill="#b2b2b2" stroke="none" stroke-width="0" />
<rect x="512.10" y="846.00" width="16.70" height="22.00" fill="#c4c4c4" stroke="none" stroke-width="0" />
<rect x="512.10" y="849.00" width="16.70" height="1.80" fill="#b2b2b2" stroke="none" stroke-width="0" />
<rect x="512.10" y="853.00" width="16.70" height="1.80" fill="#b2b2b2" stroke="none" stroke-width="0" />
<rect x="512.10" y="857.50" width="16.70" height="1.80" fill="#b2b2b2" stroke="none" stroke-width="0" />
<rect x="512.10" y="861.80" width="16.70" height="1.80" fill="#b2b2b2" stroke="none" stroke-width="0" />
<rect x="512.10" y="865.50" width="16.70" height="1.80" fill="#b2b2b2" stroke="none" stroke-width="0" />
<rect x="532.80" y="846.00" width="16.70" height="22.00" fill="#c4c4c4" stroke="none" stroke-width="0" />
<rect x="532.80" y="849.00" width="16.70" height="1.80" fill="#b2b2b2" stroke="none" stroke-width="0" />
<rect x="532.80" y="853.00" width="16.70" height="1.80" fill="#b2b2b2" stroke="none" stroke-width="0" />
<rect x="532.80" y="857.50" width="16.70" height="1.80" fill="#b2b2b2" stroke="none" stroke-width="0" />
<rect x="532.80" y="861.80" width="16.70" height="1.80" fill="#b2b2b2" stroke="none" stroke-width="0" />
<rect x="532.80" y="865.50" width="16.70" height="1.80" fill="#b2b2b2" stroke="none" stroke-width="0" />
<rect x="554.50" y="846.00" width="17.70" height="22.00" fill="#c4c4c4" stroke="none" stroke-width="0" />
<rect x="554.50" y="849.00" width="17.70" height="1.80" fill="#b2b2b2" stroke="none" stroke-width="0" />
<rect x="554.50" y="853.00" width="17.70" height="1.80" fill="#b2b2b2" stroke="none" stroke-width="0" />
<rect x="554.50" y="857.50" width="17.70" height="1.80" fill="#b2b2b2" stroke="none" stroke-width="0" />
<rect x="554.50" y="861.80" width="17.70" height="1.80" fill="#b2b2b2" stroke="none" stroke-width="0" />
<rect x="554.50" y="865.50" width="17.70" height="1.80" fill="#b2b2b2" stroke="none" stroke-width="0" />
<rect x="576.20" y="846.00" width="16.70" height="22.00" fill="#c4c4c4" stroke="none" stroke-width="0" />
<rect x="576.20" y="849.00" width="16.70" height="1.80" fill="#b2b2b2" stroke="none" stroke-width="0" />
<rect x="576.20" y="853.00" width="16.70" height="1.80" fill="#b2b2b2" stroke="none" stroke-width="0" />
<rect x="576.20" y="857.50" width="16.70" height="1.80" fill="#b2b2b2" stroke="none" stroke-width="0" />
<rect x="576.20" y="861.80" width="16.70" height="1.80" fill="#b2b2b2" stroke="none" stroke-width="0" />
<rect x="576.20" y="865.50" width="16.70" height="1.80" fill="#b2b2b2" stroke="none" stroke-width="0" />
<rect x="596.90" y="846.00" width="15.70" height="22.00" fill="#c4c4c4" stroke="none" stroke-width="0" />
<rect x="596.90" y="849.00" width="15.70" height="1.80" fill="#b2b2b2" stroke="none" stroke-width="0" />
<rect x="596.90" y="853.00" width="15.70" height="1.80" fill="#b2b2b2" stroke="none" stroke-width="0" />
<rect x="596.90" y="857.50" width="15.70" height="1.80" fill="#b2b2b2" stroke="none" stroke-width="0" />
<rect x="596.90" y="861.80" width="15.70" height="1.80" fill="#b2b2b2" stroke="none" stroke-width="0" />
<rect x="596.90" y="865.50" width="15.70" height="1.80" fill="#b2b2b2" stroke="none" stroke-width="0" />
</g>
<rect x="488.50" y="844.20" width="127.50" height="24.00" fill="none" stroke="#8a8a8a" stroke-width="0.8" />
</svg>
</body></html>
